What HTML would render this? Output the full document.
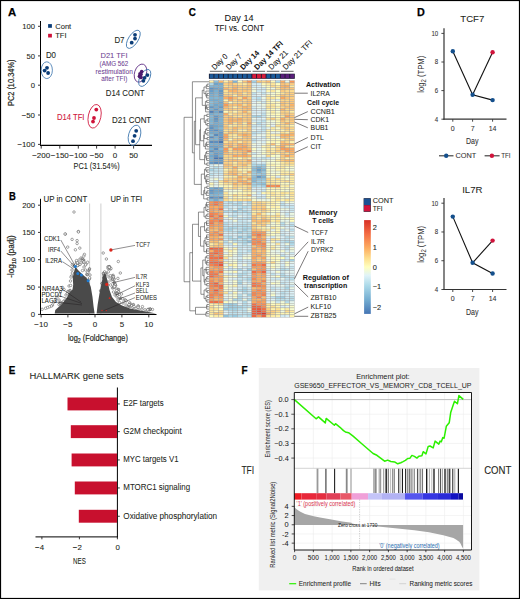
<!DOCTYPE html>
<html><head><meta charset="utf-8"><style>
html,body{margin:0;padding:0;background:#fff;}
svg{display:block;}
text{font-family:"Liberation Sans", sans-serif;}
</style></head><body>
<svg width="520" height="599" viewBox="0 0 520 599" font-family='"Liberation Sans", sans-serif'>
<rect x="0" y="0" width="520" height="599" fill="#fff"/>
<text x="7.90" y="15.70" font-size="11.4" font-weight="bold" textLength="8.2" lengthAdjust="spacingAndGlyphs" fill="#000" stroke="#000" stroke-width="0.25">A</text>
<text x="9.00" y="199.70" font-size="11.4" font-weight="bold" textLength="6.8" lengthAdjust="spacingAndGlyphs" fill="#000" stroke="#000" stroke-width="0.25">B</text>
<text x="188.80" y="15.90" font-size="11.4" font-weight="bold" textLength="7.1" lengthAdjust="spacingAndGlyphs" fill="#000" stroke="#000" stroke-width="0.25">C</text>
<text x="416.90" y="15.60" font-size="11.4" font-weight="bold" textLength="7.8" lengthAdjust="spacingAndGlyphs" fill="#000" stroke="#000" stroke-width="0.25">D</text>
<text x="8.80" y="373.60" font-size="11.4" font-weight="bold" textLength="6.6" lengthAdjust="spacingAndGlyphs" fill="#000" stroke="#000" stroke-width="0.25">E</text>
<text x="241.40" y="373.70" font-size="11.4" font-weight="bold" textLength="6.1" lengthAdjust="spacingAndGlyphs" fill="#000" stroke="#000" stroke-width="0.25">F</text>
<line x1="40.50" y1="21.00" x2="40.50" y2="146.00" stroke="#000" stroke-width="1.0"/>
<line x1="40.00" y1="145.40" x2="152.00" y2="145.40" stroke="#000" stroke-width="1.1"/>
<line x1="38.00" y1="26.30" x2="41.00" y2="26.30" stroke="#231f20" stroke-width="0.9"/>
<text x="35.00" y="29.05" font-size="8.0" text-anchor="end" textLength="12.75" lengthAdjust="spacingAndGlyphs" fill="#231f20" stroke="#231f20" stroke-width="0.08">100</text>
<line x1="38.00" y1="55.90" x2="41.00" y2="55.90" stroke="#231f20" stroke-width="0.9"/>
<text x="35.00" y="58.65" font-size="8.0" text-anchor="end" textLength="8.5" lengthAdjust="spacingAndGlyphs" fill="#231f20" stroke="#231f20" stroke-width="0.08">50</text>
<line x1="38.00" y1="85.20" x2="41.00" y2="85.20" stroke="#231f20" stroke-width="0.9"/>
<text x="35.00" y="87.95" font-size="8.0" text-anchor="end" textLength="4.25" lengthAdjust="spacingAndGlyphs" fill="#231f20" stroke="#231f20" stroke-width="0.08">0</text>
<line x1="38.00" y1="115.00" x2="41.00" y2="115.00" stroke="#231f20" stroke-width="0.9"/>
<text x="35.00" y="117.75" font-size="8.0" text-anchor="end" textLength="13.35" lengthAdjust="spacingAndGlyphs" fill="#231f20" stroke="#231f20" stroke-width="0.08">−50</text>
<line x1="38.00" y1="144.40" x2="41.00" y2="144.40" stroke="#231f20" stroke-width="0.9"/>
<text x="35.00" y="147.15" font-size="8.0" text-anchor="end" textLength="17.6" lengthAdjust="spacingAndGlyphs" fill="#231f20" stroke="#231f20" stroke-width="0.08">−100</text>
<line x1="41.20" y1="145.40" x2="41.20" y2="148.60" stroke="#231f20" stroke-width="0.9"/>
<text x="41.20" y="158.15" font-size="8.0" text-anchor="middle" fill="#231f20" stroke="#231f20" stroke-width="0.08">−200</text>
<line x1="59.80" y1="145.40" x2="59.80" y2="148.60" stroke="#231f20" stroke-width="0.9"/>
<text x="59.80" y="158.15" font-size="8.0" text-anchor="middle" fill="#231f20" stroke="#231f20" stroke-width="0.08">−150</text>
<line x1="78.30" y1="145.40" x2="78.30" y2="148.60" stroke="#231f20" stroke-width="0.9"/>
<text x="78.30" y="158.15" font-size="8.0" text-anchor="middle" fill="#231f20" stroke="#231f20" stroke-width="0.08">−100</text>
<line x1="96.60" y1="145.40" x2="96.60" y2="148.60" stroke="#231f20" stroke-width="0.9"/>
<text x="96.60" y="158.15" font-size="8.0" text-anchor="middle" fill="#231f20" stroke="#231f20" stroke-width="0.08">−50</text>
<line x1="115.10" y1="145.40" x2="115.10" y2="148.60" stroke="#231f20" stroke-width="0.9"/>
<text x="115.10" y="158.15" font-size="8.0" text-anchor="middle" fill="#231f20" stroke="#231f20" stroke-width="0.08">0</text>
<line x1="133.60" y1="145.40" x2="133.60" y2="148.60" stroke="#231f20" stroke-width="0.9"/>
<text x="133.60" y="158.15" font-size="8.0" text-anchor="middle" fill="#231f20" stroke="#231f20" stroke-width="0.08">50</text>
<text x="96.60" y="169.40" font-size="9.2" text-anchor="middle" textLength="46" lengthAdjust="spacingAndGlyphs" fill="#231f20" stroke="#231f20" stroke-width="0.08">PC1 (31.54%)</text>
<text transform="translate(14.2 82.8) rotate(-90)" font-size="9.0" text-anchor="middle" fill="#231f20" stroke="#231f20" stroke-width="0.2" textLength="46.5" lengthAdjust="spacingAndGlyphs">PC2 (10.34%)</text>
<rect x="48.10" y="24.10" width="3.80" height="3.70" fill="#0b3d78"/>
<rect x="48.10" y="33.80" width="3.80" height="3.70" fill="#cf1239"/>
<text x="55.20" y="28.61" font-size="7.6" fill="#231f20" stroke="#231f20" stroke-width="0.08">Cont</text>
<text x="55.20" y="38.11" font-size="7.6" fill="#231f20" stroke="#231f20" stroke-width="0.08">TFI</text>
<text x="45.90" y="58.19" font-size="8.4" textLength="10.1" lengthAdjust="spacingAndGlyphs" fill="#231f20" stroke="#231f20" stroke-width="0.08">D0</text>
<ellipse cx="46.80" cy="70.20" rx="5.6" ry="8.4" transform="rotate(0 46.80 70.20)" fill="none" stroke="#3a74ad" stroke-width="0.8"/>
<circle cx="47.00" cy="67.80" r="1.9" fill="#0b3d78" stroke="none" stroke-width="0"/>
<circle cx="44.60" cy="70.60" r="1.9" fill="#0b3d78" stroke="none" stroke-width="0"/>
<circle cx="48.10" cy="73.00" r="1.9" fill="#0b3d78" stroke="none" stroke-width="0"/>
<text x="114.40" y="43.49" font-size="8.4" textLength="10.1" lengthAdjust="spacingAndGlyphs" fill="#231f20" stroke="#231f20" stroke-width="0.08">D7</text>
<ellipse cx="133.30" cy="39.30" rx="10.4" ry="4.8" transform="rotate(-57 133.30 39.30)" fill="none" stroke="#3a74ad" stroke-width="0.8"/>
<circle cx="135.00" cy="34.80" r="1.9" fill="#0b3d78" stroke="none" stroke-width="0"/>
<circle cx="135.00" cy="38.60" r="1.9" fill="#0b3d78" stroke="none" stroke-width="0"/>
<circle cx="131.70" cy="42.70" r="1.9" fill="#0b3d78" stroke="none" stroke-width="0"/>
<text x="114.00" y="58.18" font-size="7.8" text-anchor="middle" textLength="27" lengthAdjust="spacingAndGlyphs" fill="#6e3f92" stroke="#6e3f92" stroke-width="0.05">D21 TFI</text>
<text x="114.00" y="66.17" font-size="6.6" text-anchor="middle" textLength="28.8" lengthAdjust="spacingAndGlyphs" fill="#6e3f92" stroke="#6e3f92" stroke-width="0.05">(AMG 562</text>
<text x="114.20" y="73.87" font-size="6.6" text-anchor="middle" textLength="37.2" lengthAdjust="spacingAndGlyphs" fill="#6e3f92" stroke="#6e3f92" stroke-width="0.05">restimulation</text>
<text x="114.30" y="81.27" font-size="6.6" text-anchor="middle" textLength="26" lengthAdjust="spacingAndGlyphs" fill="#6e3f92" stroke="#6e3f92" stroke-width="0.05">after TFI)</text>
<ellipse cx="140.50" cy="73.10" rx="5.9" ry="9.3" transform="rotate(18 140.50 73.10)" fill="none" stroke="#5c2a82" stroke-width="0.8"/>
<ellipse cx="144.70" cy="77.90" rx="9.3" ry="4.8" transform="rotate(-62 144.70 77.90)" fill="none" stroke="#3a74ad" stroke-width="0.8"/>
<circle cx="147.40" cy="75.10" r="1.9" fill="#0b3d78" stroke="none" stroke-width="0"/>
<circle cx="144.60" cy="77.80" r="1.9" fill="#0b3d78" stroke="none" stroke-width="0"/>
<circle cx="143.40" cy="80.80" r="1.9" fill="#0b3d78" stroke="none" stroke-width="0"/>
<circle cx="141.70" cy="71.50" r="1.85" fill="#4e1a6e" stroke="none" stroke-width="0"/>
<circle cx="140.00" cy="73.90" r="1.85" fill="#4e1a6e" stroke="none" stroke-width="0"/>
<circle cx="139.50" cy="76.30" r="1.85" fill="#4e1a6e" stroke="none" stroke-width="0"/>
<circle cx="141.00" cy="77.40" r="1.85" fill="#4e1a6e" stroke="none" stroke-width="0"/>
<circle cx="140.90" cy="74.30" r="1.85" fill="#4e1a6e" stroke="none" stroke-width="0"/>
<text x="105.80" y="95.63" font-size="8.8" textLength="38.8" lengthAdjust="spacingAndGlyphs" fill="#231f20" stroke="#231f20" stroke-width="0.08">D14 CONT</text>
<text x="57.00" y="119.72" font-size="8.2" textLength="27.5" lengthAdjust="spacingAndGlyphs" fill="#cf1239" stroke="#cf1239" stroke-width="0.08">D14 TFI</text>
<ellipse cx="94.60" cy="116.30" rx="6.3" ry="12.0" transform="rotate(12 94.60 116.30)" fill="none" stroke="#cf1239" stroke-width="0.8"/>
<circle cx="96.30" cy="109.60" r="1.9" fill="#cf1239" stroke="none" stroke-width="0"/>
<circle cx="94.00" cy="118.00" r="1.9" fill="#cf1239" stroke="none" stroke-width="0"/>
<circle cx="93.00" cy="121.60" r="1.9" fill="#cf1239" stroke="none" stroke-width="0"/>
<text x="112.00" y="123.33" font-size="8.8" textLength="39.2" lengthAdjust="spacingAndGlyphs" fill="#231f20" stroke="#231f20" stroke-width="0.08">D21 CONT</text>
<ellipse cx="134.50" cy="135.30" rx="5.9" ry="10.4" transform="rotate(16 134.50 135.30)" fill="none" stroke="#3a74ad" stroke-width="0.8"/>
<circle cx="136.20" cy="130.80" r="1.9" fill="#0b3d78" stroke="none" stroke-width="0"/>
<circle cx="134.60" cy="135.80" r="1.9" fill="#0b3d78" stroke="none" stroke-width="0"/>
<circle cx="133.00" cy="141.20" r="1.9" fill="#0b3d78" stroke="none" stroke-width="0"/>
<text x="43.50" y="201.59" font-size="8.4" textLength="43.8" lengthAdjust="spacingAndGlyphs" fill="#231f20" stroke="#231f20" stroke-width="0.08">UP in CONT</text>
<text x="110.40" y="201.59" font-size="8.4" textLength="31.8" lengthAdjust="spacingAndGlyphs" fill="#231f20" stroke="#231f20" stroke-width="0.08">UP in TFI</text>
<line x1="89.60" y1="203.50" x2="89.60" y2="314.40" stroke="#c8c8c8" stroke-width="0.9"/>
<line x1="100.90" y1="203.50" x2="100.90" y2="314.40" stroke="#c8c8c8" stroke-width="0.9"/>
<circle cx="74.00" cy="212.00" r="1.25" fill="#fff" stroke="#4a4a4a" stroke-width="0.5"/>
<circle cx="65.40" cy="234.10" r="1.25" fill="#fff" stroke="#4a4a4a" stroke-width="0.5"/>
<circle cx="78.40" cy="231.50" r="1.25" fill="#fff" stroke="#4a4a4a" stroke-width="0.5"/>
<circle cx="65.10" cy="234.00" r="1.25" fill="#fff" stroke="#4a4a4a" stroke-width="0.5"/>
<circle cx="78.40" cy="231.90" r="1.25" fill="#fff" stroke="#4a4a4a" stroke-width="0.5"/>
<circle cx="72.10" cy="239.40" r="1.25" fill="#fff" stroke="#4a4a4a" stroke-width="0.5"/>
<circle cx="77.10" cy="240.60" r="1.25" fill="#fff" stroke="#4a4a4a" stroke-width="0.5"/>
<circle cx="77.10" cy="243.50" r="1.25" fill="#fff" stroke="#4a4a4a" stroke-width="0.5"/>
<circle cx="67.70" cy="247.10" r="1.25" fill="#fff" stroke="#4a4a4a" stroke-width="0.5"/>
<circle cx="75.40" cy="249.80" r="1.25" fill="#fff" stroke="#4a4a4a" stroke-width="0.5"/>
<circle cx="79.80" cy="248.10" r="1.25" fill="#fff" stroke="#4a4a4a" stroke-width="0.5"/>
<circle cx="84.40" cy="254.40" r="1.25" fill="#fff" stroke="#4a4a4a" stroke-width="0.5"/>
<circle cx="83.80" cy="256.10" r="1.25" fill="#fff" stroke="#4a4a4a" stroke-width="0.5"/>
<circle cx="81.00" cy="258.00" r="1.25" fill="#fff" stroke="#4a4a4a" stroke-width="0.5"/>
<circle cx="79.00" cy="260.00" r="1.25" fill="#fff" stroke="#4a4a4a" stroke-width="0.5"/>
<circle cx="83.00" cy="262.00" r="1.25" fill="#fff" stroke="#4a4a4a" stroke-width="0.5"/>
<circle cx="86.00" cy="264.00" r="1.25" fill="#fff" stroke="#4a4a4a" stroke-width="0.5"/>
<circle cx="84.00" cy="267.00" r="1.25" fill="#fff" stroke="#4a4a4a" stroke-width="0.5"/>
<circle cx="80.00" cy="264.50" r="1.25" fill="#fff" stroke="#4a4a4a" stroke-width="0.5"/>
<circle cx="76.50" cy="262.00" r="1.25" fill="#fff" stroke="#4a4a4a" stroke-width="0.5"/>
<circle cx="85.50" cy="270.00" r="1.25" fill="#fff" stroke="#4a4a4a" stroke-width="0.5"/>
<circle cx="82.50" cy="270.50" r="1.25" fill="#fff" stroke="#4a4a4a" stroke-width="0.5"/>
<circle cx="72.00" cy="270.00" r="1.25" fill="#fff" stroke="#4a4a4a" stroke-width="0.5"/>
<circle cx="71.50" cy="276.00" r="1.25" fill="#fff" stroke="#4a4a4a" stroke-width="0.5"/>
<circle cx="70.50" cy="281.00" r="1.25" fill="#fff" stroke="#4a4a4a" stroke-width="0.5"/>
<circle cx="69.00" cy="286.00" r="1.25" fill="#fff" stroke="#4a4a4a" stroke-width="0.5"/>
<circle cx="68.00" cy="291.50" r="1.25" fill="#fff" stroke="#4a4a4a" stroke-width="0.5"/>
<circle cx="66.00" cy="295.00" r="1.25" fill="#fff" stroke="#4a4a4a" stroke-width="0.5"/>
<circle cx="64.00" cy="289.50" r="1.25" fill="#fff" stroke="#4a4a4a" stroke-width="0.5"/>
<circle cx="62.50" cy="287.50" r="1.25" fill="#fff" stroke="#4a4a4a" stroke-width="0.5"/>
<circle cx="60.50" cy="292.00" r="1.25" fill="#fff" stroke="#4a4a4a" stroke-width="0.5"/>
<circle cx="58.00" cy="296.00" r="1.25" fill="#fff" stroke="#4a4a4a" stroke-width="0.5"/>
<circle cx="56.00" cy="299.00" r="1.25" fill="#fff" stroke="#4a4a4a" stroke-width="0.5"/>
<circle cx="54.00" cy="302.00" r="1.25" fill="#fff" stroke="#4a4a4a" stroke-width="0.5"/>
<circle cx="52.50" cy="305.00" r="1.25" fill="#fff" stroke="#4a4a4a" stroke-width="0.5"/>
<circle cx="51.50" cy="306.00" r="1.25" fill="#fff" stroke="#4a4a4a" stroke-width="0.5"/>
<circle cx="49.50" cy="306.80" r="1.25" fill="#fff" stroke="#4a4a4a" stroke-width="0.5"/>
<circle cx="47.50" cy="307.50" r="1.25" fill="#fff" stroke="#4a4a4a" stroke-width="0.5"/>
<circle cx="45.60" cy="308.30" r="1.25" fill="#fff" stroke="#4a4a4a" stroke-width="0.5"/>
<circle cx="42.10" cy="309.30" r="1.25" fill="#fff" stroke="#4a4a4a" stroke-width="0.5"/>
<circle cx="59.00" cy="300.00" r="1.25" fill="#fff" stroke="#4a4a4a" stroke-width="0.5"/>
<circle cx="62.00" cy="303.00" r="1.25" fill="#fff" stroke="#4a4a4a" stroke-width="0.5"/>
<circle cx="65.00" cy="300.00" r="1.25" fill="#fff" stroke="#4a4a4a" stroke-width="0.5"/>
<circle cx="88.00" cy="283.00" r="1.25" fill="#fff" stroke="#4a4a4a" stroke-width="0.5"/>
<circle cx="90.00" cy="275.00" r="1.25" fill="#fff" stroke="#4a4a4a" stroke-width="0.5"/>
<circle cx="87.50" cy="272.50" r="1.25" fill="#fff" stroke="#4a4a4a" stroke-width="0.5"/>
<circle cx="103.20" cy="253.00" r="1.25" fill="#fff" stroke="#4a4a4a" stroke-width="0.5"/>
<circle cx="106.40" cy="259.00" r="1.25" fill="#fff" stroke="#4a4a4a" stroke-width="0.5"/>
<circle cx="118.30" cy="261.50" r="1.25" fill="#fff" stroke="#4a4a4a" stroke-width="0.5"/>
<circle cx="120.30" cy="273.00" r="1.25" fill="#fff" stroke="#4a4a4a" stroke-width="0.5"/>
<circle cx="113.10" cy="275.30" r="1.25" fill="#fff" stroke="#4a4a4a" stroke-width="0.5"/>
<circle cx="117.90" cy="278.40" r="1.25" fill="#fff" stroke="#4a4a4a" stroke-width="0.5"/>
<circle cx="115.60" cy="285.50" r="1.25" fill="#fff" stroke="#4a4a4a" stroke-width="0.5"/>
<circle cx="116.90" cy="289.00" r="1.25" fill="#fff" stroke="#4a4a4a" stroke-width="0.5"/>
<circle cx="121.00" cy="298.10" r="1.25" fill="#fff" stroke="#4a4a4a" stroke-width="0.5"/>
<circle cx="104.50" cy="272.80" r="1.25" fill="#fff" stroke="#4a4a4a" stroke-width="0.5"/>
<circle cx="106.50" cy="274.50" r="1.25" fill="#fff" stroke="#4a4a4a" stroke-width="0.5"/>
<circle cx="109.00" cy="277.00" r="1.25" fill="#fff" stroke="#4a4a4a" stroke-width="0.5"/>
<circle cx="111.00" cy="280.00" r="1.25" fill="#fff" stroke="#4a4a4a" stroke-width="0.5"/>
<circle cx="108.00" cy="282.00" r="1.25" fill="#fff" stroke="#4a4a4a" stroke-width="0.5"/>
<circle cx="110.50" cy="285.00" r="1.25" fill="#fff" stroke="#4a4a4a" stroke-width="0.5"/>
<circle cx="112.50" cy="288.00" r="1.25" fill="#fff" stroke="#4a4a4a" stroke-width="0.5"/>
<circle cx="113.50" cy="292.00" r="1.25" fill="#fff" stroke="#4a4a4a" stroke-width="0.5"/>
<circle cx="115.00" cy="295.00" r="1.25" fill="#fff" stroke="#4a4a4a" stroke-width="0.5"/>
<circle cx="118.00" cy="300.00" r="1.25" fill="#fff" stroke="#4a4a4a" stroke-width="0.5"/>
<circle cx="119.50" cy="302.50" r="1.25" fill="#fff" stroke="#4a4a4a" stroke-width="0.5"/>
<circle cx="123.00" cy="303.00" r="1.25" fill="#fff" stroke="#4a4a4a" stroke-width="0.5"/>
<circle cx="126.00" cy="305.00" r="1.25" fill="#fff" stroke="#4a4a4a" stroke-width="0.5"/>
<circle cx="128.00" cy="307.00" r="1.25" fill="#fff" stroke="#4a4a4a" stroke-width="0.5"/>
<circle cx="130.00" cy="306.50" r="1.25" fill="#fff" stroke="#4a4a4a" stroke-width="0.5"/>
<circle cx="133.00" cy="307.50" r="1.25" fill="#fff" stroke="#4a4a4a" stroke-width="0.5"/>
<circle cx="136.00" cy="308.30" r="1.25" fill="#fff" stroke="#4a4a4a" stroke-width="0.5"/>
<circle cx="139.00" cy="309.00" r="1.25" fill="#fff" stroke="#4a4a4a" stroke-width="0.5"/>
<circle cx="142.00" cy="309.20" r="1.25" fill="#fff" stroke="#4a4a4a" stroke-width="0.5"/>
<circle cx="145.00" cy="309.80" r="1.25" fill="#fff" stroke="#4a4a4a" stroke-width="0.5"/>
<circle cx="147.50" cy="310.30" r="1.25" fill="#fff" stroke="#4a4a4a" stroke-width="0.5"/>
<circle cx="125.00" cy="300.00" r="1.25" fill="#fff" stroke="#4a4a4a" stroke-width="0.5"/>
<circle cx="121.50" cy="294.00" r="1.25" fill="#fff" stroke="#4a4a4a" stroke-width="0.5"/>
<circle cx="117.00" cy="297.00" r="1.25" fill="#fff" stroke="#4a4a4a" stroke-width="0.5"/>
<circle cx="68.10" cy="291.41" r="1.25" fill="#fff" stroke="#4a4a4a" stroke-width="0.5"/>
<circle cx="60.46" cy="302.48" r="1.25" fill="#fff" stroke="#4a4a4a" stroke-width="0.5"/>
<circle cx="74.12" cy="266.30" r="1.25" fill="#b8b8b8" stroke="#4a4a4a" stroke-width="0.5"/>
<circle cx="67.39" cy="293.46" r="1.25" fill="#fff" stroke="#4a4a4a" stroke-width="0.5"/>
<circle cx="70.64" cy="285.47" r="1.25" fill="#fff" stroke="#4a4a4a" stroke-width="0.5"/>
<circle cx="70.07" cy="290.36" r="1.25" fill="#b8b8b8" stroke="#4a4a4a" stroke-width="0.5"/>
<circle cx="71.00" cy="277.08" r="1.25" fill="#fff" stroke="#4a4a4a" stroke-width="0.5"/>
<circle cx="72.35" cy="272.99" r="1.25" fill="#fff" stroke="#4a4a4a" stroke-width="0.5"/>
<circle cx="69.12" cy="292.39" r="1.25" fill="#b8b8b8" stroke="#4a4a4a" stroke-width="0.5"/>
<circle cx="63.52" cy="301.49" r="1.25" fill="#fff" stroke="#4a4a4a" stroke-width="0.5"/>
<circle cx="58.96" cy="304.57" r="1.25" fill="#fff" stroke="#4a4a4a" stroke-width="0.5"/>
<circle cx="60.14" cy="303.39" r="1.25" fill="#b8b8b8" stroke="#4a4a4a" stroke-width="0.5"/>
<circle cx="81.14" cy="262.75" r="1.25" fill="#fff" stroke="#4a4a4a" stroke-width="0.5"/>
<circle cx="89.47" cy="278.87" r="1.25" fill="#fff" stroke="#4a4a4a" stroke-width="0.5"/>
<circle cx="82.29" cy="258.92" r="1.25" fill="#b8b8b8" stroke="#4a4a4a" stroke-width="0.5"/>
<circle cx="74.82" cy="265.48" r="1.25" fill="#fff" stroke="#4a4a4a" stroke-width="0.5"/>
<circle cx="75.03" cy="265.61" r="1.25" fill="#fff" stroke="#4a4a4a" stroke-width="0.5"/>
<circle cx="83.76" cy="260.12" r="1.25" fill="#b8b8b8" stroke="#4a4a4a" stroke-width="0.5"/>
<circle cx="82.42" cy="261.15" r="1.25" fill="#fff" stroke="#4a4a4a" stroke-width="0.5"/>
<circle cx="77.66" cy="262.77" r="1.25" fill="#fff" stroke="#4a4a4a" stroke-width="0.5"/>
<circle cx="88.92" cy="270.18" r="1.25" fill="#b8b8b8" stroke="#4a4a4a" stroke-width="0.5"/>
<circle cx="86.82" cy="274.25" r="1.25" fill="#fff" stroke="#4a4a4a" stroke-width="0.5"/>
<circle cx="72.33" cy="264.69" r="1.25" fill="#fff" stroke="#4a4a4a" stroke-width="0.5"/>
<circle cx="86.32" cy="280.77" r="1.25" fill="#b8b8b8" stroke="#4a4a4a" stroke-width="0.5"/>
<circle cx="89.63" cy="277.86" r="1.25" fill="#fff" stroke="#4a4a4a" stroke-width="0.5"/>
<circle cx="83.72" cy="261.95" r="1.25" fill="#fff" stroke="#4a4a4a" stroke-width="0.5"/>
<circle cx="77.87" cy="265.44" r="1.25" fill="#b8b8b8" stroke="#4a4a4a" stroke-width="0.5"/>
<circle cx="85.45" cy="278.51" r="1.25" fill="#fff" stroke="#4a4a4a" stroke-width="0.5"/>
<circle cx="75.63" cy="264.91" r="1.25" fill="#fff" stroke="#4a4a4a" stroke-width="0.5"/>
<circle cx="86.90" cy="280.37" r="1.25" fill="#b8b8b8" stroke="#4a4a4a" stroke-width="0.5"/>
<circle cx="85.61" cy="264.86" r="1.25" fill="#fff" stroke="#4a4a4a" stroke-width="0.5"/>
<circle cx="76.52" cy="260.57" r="1.25" fill="#fff" stroke="#4a4a4a" stroke-width="0.5"/>
<circle cx="89.51" cy="268.85" r="1.25" fill="#b8b8b8" stroke="#4a4a4a" stroke-width="0.5"/>
<circle cx="77.51" cy="265.52" r="1.25" fill="#fff" stroke="#4a4a4a" stroke-width="0.5"/>
<circle cx="83.86" cy="262.00" r="1.25" fill="#fff" stroke="#4a4a4a" stroke-width="0.5"/>
<circle cx="87.28" cy="274.77" r="1.25" fill="#b8b8b8" stroke="#4a4a4a" stroke-width="0.5"/>
<circle cx="77.36" cy="262.85" r="1.25" fill="#fff" stroke="#4a4a4a" stroke-width="0.5"/>
<circle cx="87.66" cy="262.22" r="1.25" fill="#fff" stroke="#4a4a4a" stroke-width="0.5"/>
<circle cx="133.36" cy="304.57" r="1.25" fill="#b8b8b8" stroke="#4a4a4a" stroke-width="0.5"/>
<circle cx="134.05" cy="306.57" r="1.25" fill="#fff" stroke="#4a4a4a" stroke-width="0.5"/>
<circle cx="110.54" cy="269.09" r="1.25" fill="#fff" stroke="#4a4a4a" stroke-width="0.5"/>
<circle cx="118.54" cy="289.52" r="1.25" fill="#b8b8b8" stroke="#4a4a4a" stroke-width="0.5"/>
<circle cx="149.51" cy="309.67" r="1.25" fill="#fff" stroke="#4a4a4a" stroke-width="0.5"/>
<circle cx="131.33" cy="305.51" r="1.25" fill="#fff" stroke="#4a4a4a" stroke-width="0.5"/>
<circle cx="113.57" cy="287.50" r="1.25" fill="#b8b8b8" stroke="#4a4a4a" stroke-width="0.5"/>
<circle cx="152.46" cy="309.44" r="1.25" fill="#fff" stroke="#4a4a4a" stroke-width="0.5"/>
<circle cx="117.48" cy="294.99" r="1.25" fill="#fff" stroke="#4a4a4a" stroke-width="0.5"/>
<circle cx="112.89" cy="276.46" r="1.25" fill="#b8b8b8" stroke="#4a4a4a" stroke-width="0.5"/>
<circle cx="114.98" cy="283.25" r="1.25" fill="#fff" stroke="#4a4a4a" stroke-width="0.5"/>
<circle cx="129.74" cy="302.77" r="1.25" fill="#fff" stroke="#4a4a4a" stroke-width="0.5"/>
<circle cx="114.71" cy="284.88" r="1.25" fill="#b8b8b8" stroke="#4a4a4a" stroke-width="0.5"/>
<circle cx="118.74" cy="292.24" r="1.25" fill="#fff" stroke="#4a4a4a" stroke-width="0.5"/>
<circle cx="113.95" cy="278.72" r="1.25" fill="#fff" stroke="#4a4a4a" stroke-width="0.5"/>
<circle cx="119.99" cy="298.40" r="1.25" fill="#b8b8b8" stroke="#4a4a4a" stroke-width="0.5"/>
<circle cx="112.05" cy="276.06" r="1.25" fill="#fff" stroke="#4a4a4a" stroke-width="0.5"/>
<circle cx="138.34" cy="306.07" r="1.25" fill="#fff" stroke="#4a4a4a" stroke-width="0.5"/>
<circle cx="114.05" cy="282.39" r="1.25" fill="#b8b8b8" stroke="#4a4a4a" stroke-width="0.5"/>
<circle cx="138.00" cy="306.17" r="1.25" fill="#fff" stroke="#4a4a4a" stroke-width="0.5"/>
<circle cx="142.45" cy="306.61" r="1.25" fill="#fff" stroke="#4a4a4a" stroke-width="0.5"/>
<circle cx="148.30" cy="309.26" r="1.25" fill="#b8b8b8" stroke="#4a4a4a" stroke-width="0.5"/>
<circle cx="110.92" cy="268.40" r="1.25" fill="#fff" stroke="#4a4a4a" stroke-width="0.5"/>
<circle cx="118.13" cy="291.58" r="1.25" fill="#fff" stroke="#4a4a4a" stroke-width="0.5"/>
<circle cx="130.16" cy="304.07" r="1.25" fill="#b8b8b8" stroke="#4a4a4a" stroke-width="0.5"/>
<circle cx="122.62" cy="298.78" r="1.25" fill="#fff" stroke="#4a4a4a" stroke-width="0.5"/>
<circle cx="125.59" cy="300.25" r="1.25" fill="#fff" stroke="#4a4a4a" stroke-width="0.5"/>
<circle cx="128.92" cy="305.55" r="1.25" fill="#b8b8b8" stroke="#4a4a4a" stroke-width="0.5"/>
<circle cx="116.73" cy="290.59" r="1.25" fill="#fff" stroke="#4a4a4a" stroke-width="0.5"/>
<circle cx="129.03" cy="304.59" r="1.25" fill="#fff" stroke="#4a4a4a" stroke-width="0.5"/>
<circle cx="116.08" cy="293.19" r="1.25" fill="#b8b8b8" stroke="#4a4a4a" stroke-width="0.5"/>
<circle cx="108.05" cy="268.29" r="1.25" fill="#fff" stroke="#4a4a4a" stroke-width="0.5"/>
<circle cx="108.37" cy="271.80" r="1.25" fill="#fff" stroke="#4a4a4a" stroke-width="0.5"/>
<circle cx="114.80" cy="285.17" r="1.25" fill="#b8b8b8" stroke="#4a4a4a" stroke-width="0.5"/>
<circle cx="112.74" cy="276.49" r="1.25" fill="#fff" stroke="#4a4a4a" stroke-width="0.5"/>
<circle cx="114.14" cy="287.51" r="1.25" fill="#fff" stroke="#4a4a4a" stroke-width="0.5"/>
<circle cx="109.40" cy="267.22" r="1.25" fill="#b8b8b8" stroke="#4a4a4a" stroke-width="0.5"/>
<circle cx="105.63" cy="273.03" r="1.25" fill="#fff" stroke="#4a4a4a" stroke-width="0.5"/>
<circle cx="119.21" cy="296.55" r="1.25" fill="#fff" stroke="#4a4a4a" stroke-width="0.5"/>
<circle cx="149.63" cy="309.61" r="1.25" fill="#b8b8b8" stroke="#4a4a4a" stroke-width="0.5"/>
<circle cx="138.05" cy="307.27" r="1.25" fill="#fff" stroke="#4a4a4a" stroke-width="0.5"/>
<circle cx="109.37" cy="267.77" r="1.25" fill="#fff" stroke="#4a4a4a" stroke-width="0.5"/>
<circle cx="150.15" cy="309.03" r="1.25" fill="#b8b8b8" stroke="#4a4a4a" stroke-width="0.5"/>
<circle cx="115.14" cy="284.83" r="1.25" fill="#fff" stroke="#4a4a4a" stroke-width="0.5"/>
<circle cx="107.91" cy="266.84" r="1.25" fill="#fff" stroke="#4a4a4a" stroke-width="0.5"/>
<circle cx="109.47" cy="266.68" r="1.25" fill="#b8b8b8" stroke="#4a4a4a" stroke-width="0.5"/>
<circle cx="113.96" cy="285.94" r="1.25" fill="#fff" stroke="#4a4a4a" stroke-width="0.5"/>
<circle cx="114.01" cy="279.35" r="1.25" fill="#fff" stroke="#4a4a4a" stroke-width="0.5"/>
<circle cx="150.23" cy="309.13" r="1.25" fill="#b8b8b8" stroke="#4a4a4a" stroke-width="0.5"/>
<circle cx="113.46" cy="276.64" r="1.25" fill="#fff" stroke="#4a4a4a" stroke-width="0.5"/>
<circle cx="114.58" cy="286.52" r="1.25" fill="#fff" stroke="#4a4a4a" stroke-width="0.5"/>
<circle cx="117.01" cy="293.30" r="1.25" fill="#b8b8b8" stroke="#4a4a4a" stroke-width="0.5"/>
<circle cx="108.97" cy="266.68" r="1.25" fill="#fff" stroke="#4a4a4a" stroke-width="0.5"/>
<circle cx="113.28" cy="278.13" r="1.25" fill="#fff" stroke="#4a4a4a" stroke-width="0.5"/>
<circle cx="104.88" cy="274.19" r="1.25" fill="#b8b8b8" stroke="#4a4a4a" stroke-width="0.5"/>
<circle cx="147.75" cy="309.79" r="1.25" fill="#fff" stroke="#4a4a4a" stroke-width="0.5"/>
<circle cx="110.30" cy="275.75" r="1.25" fill="#fff" stroke="#4a4a4a" stroke-width="0.5"/>
<circle cx="112.59" cy="279.20" r="1.25" fill="#b8b8b8" stroke="#4a4a4a" stroke-width="0.5"/>
<circle cx="126.18" cy="300.92" r="1.25" fill="#fff" stroke="#4a4a4a" stroke-width="0.5"/>
<circle cx="109.30" cy="267.29" r="1.25" fill="#fff" stroke="#4a4a4a" stroke-width="0.5"/>
<circle cx="102.06" cy="283.45" r="1.25" fill="#b8b8b8" stroke="#4a4a4a" stroke-width="0.5"/>
<circle cx="102.30" cy="283.43" r="1.25" fill="#fff" stroke="#4a4a4a" stroke-width="0.5"/>
<circle cx="103.85" cy="277.57" r="1.25" fill="#fff" stroke="#4a4a4a" stroke-width="0.5"/>
<circle cx="100.60" cy="290.71" r="1.25" fill="#b8b8b8" stroke="#4a4a4a" stroke-width="0.5"/>
<circle cx="104.75" cy="273.32" r="1.25" fill="#fff" stroke="#4a4a4a" stroke-width="0.5"/>
<circle cx="103.73" cy="275.48" r="1.25" fill="#fff" stroke="#4a4a4a" stroke-width="0.5"/>
<circle cx="103.71" cy="277.80" r="1.25" fill="#b8b8b8" stroke="#4a4a4a" stroke-width="0.5"/>
<circle cx="104.61" cy="271.86" r="1.25" fill="#fff" stroke="#4a4a4a" stroke-width="0.5"/>
<circle cx="103.79" cy="273.84" r="1.25" fill="#fff" stroke="#4a4a4a" stroke-width="0.5"/>
<circle cx="103.36" cy="273.41" r="1.25" fill="#b8b8b8" stroke="#4a4a4a" stroke-width="0.5"/>
<polygon points="54.7,313.6 55.3,310.0 61.9,303.9 66.7,297.9 69.1,293.1 72.5,289.5 73.2,284.7 72.7,277.5 74.0,272.0 75.4,266.5 78.0,270.0 82.0,274.0 86.0,277.5 88.5,281.0 90.8,287.0 92.5,297.0 93.5,306.0 94.6,313.6" fill="#4a4a4a"/>
<polygon points="96.6,313.6 97.6,305.0 99.4,294.0 101.2,285.0 103.0,276.0 104.5,273.2 106.0,275.0 107.8,282.0 109.5,290.0 112.0,297.0 116.0,302.0 122.0,305.5 130.0,308.5 140.0,310.5 150.0,312.2 156.0,313.6" fill="#4a4a4a"/>
<circle cx="75.40" cy="266.50" r="1.5" fill="#1d7ad0" stroke="none" stroke-width="0"/>
<circle cx="77.80" cy="273.40" r="1.5" fill="#1d7ad0" stroke="none" stroke-width="0"/>
<circle cx="81.40" cy="275.00" r="1.5" fill="#1d7ad0" stroke="none" stroke-width="0"/>
<circle cx="88.10" cy="280.80" r="1.5" fill="#1d7ad0" stroke="none" stroke-width="0"/>
<circle cx="110.90" cy="250.00" r="1.7" fill="#d9261c" stroke="none" stroke-width="0"/>
<circle cx="106.80" cy="284.40" r="1.7" fill="#d9261c" stroke="none" stroke-width="0"/>
<circle cx="109.60" cy="298.20" r="0.9" fill="#d9261c" stroke="none" stroke-width="0"/>
<circle cx="102.00" cy="310.50" r="0.7" fill="#d9261c" stroke="none" stroke-width="0"/>
<circle cx="106.20" cy="310.50" r="0.7" fill="#d9261c" stroke="none" stroke-width="0"/>
<text x="44.00" y="240.97" font-size="6.9" textLength="16.2" lengthAdjust="spacingAndGlyphs" fill="#231f20" stroke="#231f20" stroke-width="0.05">CDK1</text>
<text x="48.10" y="252.17" font-size="6.9" textLength="12.1" lengthAdjust="spacingAndGlyphs" fill="#231f20" stroke="#231f20" stroke-width="0.05">IRF4</text>
<text x="45.20" y="263.17" font-size="6.9" textLength="16.7" lengthAdjust="spacingAndGlyphs" fill="#231f20" stroke="#231f20" stroke-width="0.05">IL2RA</text>
<line x1="60.80" y1="240.00" x2="74.60" y2="264.80" stroke="#231f20" stroke-width="0.5"/>
<line x1="60.80" y1="251.00" x2="74.00" y2="266.00" stroke="#231f20" stroke-width="0.5"/>
<line x1="62.50" y1="261.70" x2="73.40" y2="268.80" stroke="#231f20" stroke-width="0.5"/>
<text x="42.00" y="291.11" font-size="7.0" textLength="20.8" lengthAdjust="spacingAndGlyphs" fill="#231f20" stroke="#231f20" stroke-width="0.05">NR4A3</text>
<text x="41.50" y="297.41" font-size="7.0" textLength="20.7" lengthAdjust="spacingAndGlyphs" fill="#231f20" stroke="#231f20" stroke-width="0.05">PDCD1</text>
<text x="41.50" y="303.21" font-size="7.0" textLength="15.5" lengthAdjust="spacingAndGlyphs" fill="#231f20" stroke="#231f20" stroke-width="0.05">LAG3</text>
<line x1="62.00" y1="289.00" x2="81.00" y2="302.00" stroke="#231f20" stroke-width="0.5"/>
<line x1="60.00" y1="296.00" x2="82.00" y2="303.50" stroke="#231f20" stroke-width="0.5"/>
<line x1="55.00" y1="302.00" x2="82.00" y2="305.00" stroke="#231f20" stroke-width="0.5"/>
<text x="135.80" y="247.11" font-size="7.0" textLength="14.1" lengthAdjust="spacingAndGlyphs" fill="#231f20" stroke="#231f20" stroke-width="0.05">TCF7</text>
<text x="135.80" y="278.71" font-size="7.0" textLength="11.4" lengthAdjust="spacingAndGlyphs" fill="#231f20" stroke="#231f20" stroke-width="0.05">IL7R</text>
<text x="135.80" y="286.51" font-size="7.0" textLength="13.4" lengthAdjust="spacingAndGlyphs" fill="#231f20" stroke="#231f20" stroke-width="0.05">KLF3</text>
<text x="135.80" y="293.31" font-size="7.0" textLength="12.7" lengthAdjust="spacingAndGlyphs" fill="#231f20" stroke="#231f20" stroke-width="0.05">SELL</text>
<text x="135.80" y="300.01" font-size="7.0" textLength="21.2" lengthAdjust="spacingAndGlyphs" fill="#231f20" stroke="#231f20" stroke-width="0.05">EOMES</text>
<line x1="112.20" y1="249.70" x2="135.00" y2="245.40" stroke="#231f20" stroke-width="0.5"/>
<line x1="111.50" y1="283.00" x2="135.00" y2="277.40" stroke="#231f20" stroke-width="0.5"/>
<line x1="115.60" y1="295.20" x2="135.00" y2="285.80" stroke="#231f20" stroke-width="0.5"/>
<line x1="119.00" y1="299.00" x2="135.00" y2="293.00" stroke="#231f20" stroke-width="0.5"/>
<line x1="103.50" y1="310.70" x2="135.00" y2="297.60" stroke="#231f20" stroke-width="0.5"/>
<line x1="40.50" y1="198.80" x2="40.50" y2="315.00" stroke="#000" stroke-width="1.0"/>
<line x1="40.00" y1="314.50" x2="156.50" y2="314.50" stroke="#000" stroke-width="1.0"/>
<line x1="38.00" y1="205.20" x2="41.00" y2="205.20" stroke="#231f20" stroke-width="0.9"/>
<text x="35.10" y="207.95" font-size="8.0" text-anchor="end" textLength="12.899999999999999" lengthAdjust="spacingAndGlyphs" fill="#231f20" stroke="#231f20" stroke-width="0.08">200</text>
<line x1="38.00" y1="232.40" x2="41.00" y2="232.40" stroke="#231f20" stroke-width="0.9"/>
<text x="35.10" y="235.15" font-size="8.0" text-anchor="end" textLength="12.899999999999999" lengthAdjust="spacingAndGlyphs" fill="#231f20" stroke="#231f20" stroke-width="0.08">150</text>
<line x1="38.00" y1="259.70" x2="41.00" y2="259.70" stroke="#231f20" stroke-width="0.9"/>
<text x="35.10" y="262.45" font-size="8.0" text-anchor="end" textLength="12.899999999999999" lengthAdjust="spacingAndGlyphs" fill="#231f20" stroke="#231f20" stroke-width="0.08">100</text>
<line x1="38.00" y1="287.10" x2="41.00" y2="287.10" stroke="#231f20" stroke-width="0.9"/>
<text x="35.10" y="289.85" font-size="8.0" text-anchor="end" textLength="8.6" lengthAdjust="spacingAndGlyphs" fill="#231f20" stroke="#231f20" stroke-width="0.08">50</text>
<line x1="38.00" y1="314.40" x2="41.00" y2="314.40" stroke="#231f20" stroke-width="0.9"/>
<text x="35.10" y="317.15" font-size="8.0" text-anchor="end" textLength="4.3" lengthAdjust="spacingAndGlyphs" fill="#231f20" stroke="#231f20" stroke-width="0.08">0</text>
<line x1="41.10" y1="314.40" x2="41.10" y2="317.40" stroke="#231f20" stroke-width="0.9"/>
<text x="41.10" y="326.55" font-size="8.0" text-anchor="middle" fill="#231f20" stroke="#231f20" stroke-width="0.08">−10</text>
<line x1="67.90" y1="314.40" x2="67.90" y2="317.40" stroke="#231f20" stroke-width="0.9"/>
<text x="67.90" y="326.55" font-size="8.0" text-anchor="middle" fill="#231f20" stroke="#231f20" stroke-width="0.08">−5</text>
<line x1="95.00" y1="314.40" x2="95.00" y2="317.40" stroke="#231f20" stroke-width="0.9"/>
<text x="95.00" y="326.55" font-size="8.0" text-anchor="middle" fill="#231f20" stroke="#231f20" stroke-width="0.08">0</text>
<line x1="121.90" y1="314.40" x2="121.90" y2="317.40" stroke="#231f20" stroke-width="0.9"/>
<text x="121.90" y="326.55" font-size="8.0" text-anchor="middle" fill="#231f20" stroke="#231f20" stroke-width="0.08">5</text>
<line x1="148.80" y1="314.40" x2="148.80" y2="317.40" stroke="#231f20" stroke-width="0.9"/>
<text x="148.80" y="326.55" font-size="8.0" text-anchor="middle" fill="#231f20" stroke="#231f20" stroke-width="0.08">10</text>
<text transform="translate(14.3 256.5) rotate(-90)" font-size="8.6" text-anchor="middle" fill="#231f20" stroke="#231f20" stroke-width="0.2" textLength="42.4" lengthAdjust="spacingAndGlyphs">-log<tspan font-size="6.0" dy="1.5">10</tspan><tspan dy="-1.5"> (padj)</tspan></text>
<text x="67.9" y="340.6" font-size="9.6" fill="#231f20" stroke="#231f20" stroke-width="0.2" textLength="60" lengthAdjust="spacingAndGlyphs">log<tspan font-size="6.8" dy="2">2</tspan><tspan dy="-2"> (FoldChange)</tspan></text>
<text x="239.10" y="21.10" font-size="9.9" text-anchor="middle" textLength="29.0" lengthAdjust="spacingAndGlyphs" fill="#111" stroke="#111" stroke-width="0.05">Day 14</text>
<text x="239.40" y="30.90" font-size="8.3" text-anchor="middle" textLength="49.5" lengthAdjust="spacingAndGlyphs" fill="#111" stroke="#111" stroke-width="0.05">TFI vs. CONT</text>
<line x1="209.90" y1="71.30" x2="222.52" y2="71.30" stroke="#555" stroke-width="0.9"/>
<text transform="translate(214.70 70.20) rotate(-45)" font-size="7.7" font-weight="normal" fill="#111" stroke="#111" stroke-width="0.08" textLength="19.0" lengthAdjust="spacingAndGlyphs">Day 0</text>
<line x1="224.12" y1="71.30" x2="236.73" y2="71.30" stroke="#555" stroke-width="0.9"/>
<text transform="translate(228.92 70.20) rotate(-45)" font-size="7.7" font-weight="normal" fill="#111" stroke="#111" stroke-width="0.08" textLength="19.0" lengthAdjust="spacingAndGlyphs">Day 7</text>
<line x1="238.33" y1="71.30" x2="250.95" y2="71.30" stroke="#555" stroke-width="0.9"/>
<text transform="translate(243.13 70.20) rotate(-45)" font-size="7.7" font-weight="bold" fill="#111" stroke="#111" stroke-width="0" textLength="23.5" lengthAdjust="spacingAndGlyphs">Day 14</text>
<line x1="252.55" y1="71.30" x2="265.17" y2="71.30" stroke="#555" stroke-width="0.9"/>
<text transform="translate(257.35 70.20) rotate(-45)" font-size="7.7" font-weight="bold" fill="#111" stroke="#111" stroke-width="0" textLength="37.0" lengthAdjust="spacingAndGlyphs">Day 14 TFI</text>
<line x1="266.77" y1="71.30" x2="279.38" y2="71.30" stroke="#555" stroke-width="0.9"/>
<text transform="translate(271.57 70.20) rotate(-45)" font-size="7.7" font-weight="normal" fill="#111" stroke="#111" stroke-width="0.08" textLength="24.0" lengthAdjust="spacingAndGlyphs">Day 21</text>
<line x1="280.98" y1="71.30" x2="293.60" y2="71.30" stroke="#555" stroke-width="0.9"/>
<text transform="translate(285.78 70.20) rotate(-45)" font-size="7.7" font-weight="normal" fill="#111" stroke="#111" stroke-width="0.08" textLength="38.0" lengthAdjust="spacingAndGlyphs">Day 21 TFI</text>
<rect x="208.90" y="73.70" width="85.90" height="5.10" fill="#1a1a2e"/>
<rect x="209.65" y="74.15" width="3.84" height="4.20" fill="#1b5a9a"/>
<rect x="214.39" y="74.15" width="3.84" height="4.20" fill="#1b5a9a"/>
<rect x="219.13" y="74.15" width="3.84" height="4.20" fill="#1b5a9a"/>
<rect x="223.87" y="74.15" width="3.84" height="4.20" fill="#1b5a9a"/>
<rect x="228.61" y="74.15" width="3.84" height="4.20" fill="#1b5a9a"/>
<rect x="233.34" y="74.15" width="3.84" height="4.20" fill="#1b5a9a"/>
<rect x="238.08" y="74.15" width="3.84" height="4.20" fill="#1b5a9a"/>
<rect x="242.82" y="74.15" width="3.84" height="4.20" fill="#1b5a9a"/>
<rect x="247.56" y="74.15" width="3.84" height="4.20" fill="#1b5a9a"/>
<rect x="252.30" y="74.15" width="3.84" height="4.20" fill="#d81b3c"/>
<rect x="257.04" y="74.15" width="3.84" height="4.20" fill="#d81b3c"/>
<rect x="261.78" y="74.15" width="3.84" height="4.20" fill="#d81b3c"/>
<rect x="266.52" y="74.15" width="3.84" height="4.20" fill="#1b5a9a"/>
<rect x="271.26" y="74.15" width="3.84" height="4.20" fill="#1b5a9a"/>
<rect x="275.99" y="74.15" width="3.84" height="4.20" fill="#1b5a9a"/>
<rect x="280.73" y="74.15" width="3.84" height="4.20" fill="#5a1f7a"/>
<rect x="285.47" y="74.15" width="3.84" height="4.20" fill="#5a1f7a"/>
<rect x="290.21" y="74.15" width="3.84" height="4.20" fill="#5a1f7a"/>
<g stroke="#9a9a9a" stroke-width="0.35"><rect x="209.20" y="80.60" width="4.74" height="2.32" fill="#feefa6"/><rect x="213.94" y="80.60" width="4.74" height="2.32" fill="#8bc0db"/><rect x="218.68" y="80.60" width="4.74" height="2.32" fill="#fdb86a"/><rect x="223.42" y="80.60" width="4.74" height="2.32" fill="#feeda4"/><rect x="228.16" y="80.60" width="4.74" height="2.32" fill="#fdc475"/><rect x="232.89" y="80.60" width="4.74" height="2.32" fill="#7eb5d5"/><rect x="237.63" y="80.60" width="4.74" height="2.32" fill="#fff9b5"/><rect x="242.37" y="80.60" width="4.74" height="2.32" fill="#fdc678"/><rect x="247.11" y="80.60" width="4.74" height="2.32" fill="#f99154"/><rect x="251.85" y="80.60" width="4.74" height="2.32" fill="#9ecfe3"/><rect x="256.59" y="80.60" width="4.74" height="2.32" fill="#fdc375"/><rect x="261.33" y="80.60" width="4.74" height="2.32" fill="#fed585"/><rect x="266.07" y="80.60" width="4.74" height="2.32" fill="#fdbc6e"/><rect x="270.81" y="80.60" width="4.74" height="2.32" fill="#fff8b4"/><rect x="275.54" y="80.60" width="4.74" height="2.32" fill="#b0dceb"/><rect x="280.28" y="80.60" width="4.74" height="2.32" fill="#fdaf62"/><rect x="285.02" y="80.60" width="4.74" height="2.32" fill="#ebf7e4"/><rect x="289.76" y="80.60" width="4.74" height="2.32" fill="#fa9656"/><rect x="209.20" y="82.92" width="4.74" height="2.32" fill="#acd9e9"/><rect x="213.94" y="82.92" width="4.74" height="2.32" fill="#6ca4cc"/><rect x="218.68" y="82.92" width="4.74" height="2.32" fill="#71aacf"/><rect x="223.42" y="82.92" width="4.74" height="2.32" fill="#fed081"/><rect x="228.16" y="82.92" width="4.74" height="2.32" fill="#fdc375"/><rect x="232.89" y="82.92" width="4.74" height="2.32" fill="#fed586"/><rect x="237.63" y="82.92" width="4.74" height="2.32" fill="#fee293"/><rect x="242.37" y="82.92" width="4.74" height="2.32" fill="#fee99e"/><rect x="247.11" y="82.92" width="4.74" height="2.32" fill="#fec97b"/><rect x="251.85" y="82.92" width="4.74" height="2.32" fill="#d4edf5"/><rect x="256.59" y="82.92" width="4.74" height="2.32" fill="#d3edf4"/><rect x="261.33" y="82.92" width="4.74" height="2.32" fill="#fffbb9"/><rect x="266.07" y="82.92" width="4.74" height="2.32" fill="#feeba1"/><rect x="270.81" y="82.92" width="4.74" height="2.32" fill="#fee79a"/><rect x="275.54" y="82.92" width="4.74" height="2.32" fill="#ffffbf"/><rect x="280.28" y="82.92" width="4.74" height="2.32" fill="#fdc375"/><rect x="285.02" y="82.92" width="4.74" height="2.32" fill="#fecd7e"/><rect x="289.76" y="82.92" width="4.74" height="2.32" fill="#fecc7e"/><rect x="209.20" y="85.24" width="4.74" height="2.32" fill="#81b7d7"/><rect x="213.94" y="85.24" width="4.74" height="2.32" fill="#7cb3d4"/><rect x="218.68" y="85.24" width="4.74" height="2.32" fill="#79b1d3"/><rect x="223.42" y="85.24" width="4.74" height="2.32" fill="#fee090"/><rect x="228.16" y="85.24" width="4.74" height="2.32" fill="#fed384"/><rect x="232.89" y="85.24" width="4.74" height="2.32" fill="#fdbe70"/><rect x="237.63" y="85.24" width="4.74" height="2.32" fill="#fec97a"/><rect x="242.37" y="85.24" width="4.74" height="2.32" fill="#fed081"/><rect x="247.11" y="85.24" width="4.74" height="2.32" fill="#fdbb6d"/><rect x="251.85" y="85.24" width="4.74" height="2.32" fill="#d1ecf4"/><rect x="256.59" y="85.24" width="4.74" height="2.32" fill="#d6eef5"/><rect x="261.33" y="85.24" width="4.74" height="2.32" fill="#f2fad6"/><rect x="266.07" y="85.24" width="4.74" height="2.32" fill="#fff9b6"/><rect x="270.81" y="85.24" width="4.74" height="2.32" fill="#fedd8d"/><rect x="275.54" y="85.24" width="4.74" height="2.32" fill="#feeba1"/><rect x="280.28" y="85.24" width="4.74" height="2.32" fill="#fdb467"/><rect x="285.02" y="85.24" width="4.74" height="2.32" fill="#fdaf61"/><rect x="289.76" y="85.24" width="4.74" height="2.32" fill="#feea9f"/><rect x="209.20" y="87.56" width="4.74" height="2.32" fill="#5e93c4"/><rect x="213.94" y="87.56" width="4.74" height="2.32" fill="#6aa1cb"/><rect x="218.68" y="87.56" width="4.74" height="2.32" fill="#6fa7ce"/><rect x="223.42" y="87.56" width="4.74" height="2.32" fill="#fdb669"/><rect x="228.16" y="87.56" width="4.74" height="2.32" fill="#fece7f"/><rect x="232.89" y="87.56" width="4.74" height="2.32" fill="#fdaf62"/><rect x="237.63" y="87.56" width="4.74" height="2.32" fill="#fed485"/><rect x="242.37" y="87.56" width="4.74" height="2.32" fill="#fecb7d"/><rect x="247.11" y="87.56" width="4.74" height="2.32" fill="#fec97a"/><rect x="251.85" y="87.56" width="4.74" height="2.32" fill="#ecf8e2"/><rect x="256.59" y="87.56" width="4.74" height="2.32" fill="#daf0f6"/><rect x="261.33" y="87.56" width="4.74" height="2.32" fill="#cfeaf3"/><rect x="266.07" y="87.56" width="4.74" height="2.32" fill="#ffffbf"/><rect x="270.81" y="87.56" width="4.74" height="2.32" fill="#ecf8e2"/><rect x="275.54" y="87.56" width="4.74" height="2.32" fill="#fee79a"/><rect x="280.28" y="87.56" width="4.74" height="2.32" fill="#fdbe70"/><rect x="285.02" y="87.56" width="4.74" height="2.32" fill="#fdc476"/><rect x="289.76" y="87.56" width="4.74" height="2.32" fill="#fdc778"/><rect x="209.20" y="89.88" width="4.74" height="2.32" fill="#679dc9"/><rect x="213.94" y="89.88" width="4.74" height="2.32" fill="#78b0d3"/><rect x="218.68" y="89.88" width="4.74" height="2.32" fill="#6197c5"/><rect x="223.42" y="89.88" width="4.74" height="2.32" fill="#fee192"/><rect x="228.16" y="89.88" width="4.74" height="2.32" fill="#fdb668"/><rect x="232.89" y="89.88" width="4.74" height="2.32" fill="#fdb669"/><rect x="237.63" y="89.88" width="4.74" height="2.32" fill="#feca7c"/><rect x="242.37" y="89.88" width="4.74" height="2.32" fill="#fdc677"/><rect x="247.11" y="89.88" width="4.74" height="2.32" fill="#fecc7d"/><rect x="251.85" y="89.88" width="4.74" height="2.32" fill="#eff9dc"/><rect x="256.59" y="89.88" width="4.74" height="2.32" fill="#cce9f2"/><rect x="261.33" y="89.88" width="4.74" height="2.32" fill="#d7eef5"/><rect x="266.07" y="89.88" width="4.74" height="2.32" fill="#fff7b3"/><rect x="270.81" y="89.88" width="4.74" height="2.32" fill="#fee89d"/><rect x="275.54" y="89.88" width="4.74" height="2.32" fill="#fbfec6"/><rect x="280.28" y="89.88" width="4.74" height="2.32" fill="#fecd7e"/><rect x="285.02" y="89.88" width="4.74" height="2.32" fill="#feda8b"/><rect x="289.76" y="89.88" width="4.74" height="2.32" fill="#fedd8e"/><rect x="209.20" y="92.20" width="4.74" height="2.32" fill="#6da5cd"/><rect x="213.94" y="92.20" width="4.74" height="2.32" fill="#79b1d3"/><rect x="218.68" y="92.20" width="4.74" height="2.32" fill="#6298c6"/><rect x="223.42" y="92.20" width="4.74" height="2.32" fill="#fedf8f"/><rect x="228.16" y="92.20" width="4.74" height="2.32" fill="#fedb8b"/><rect x="232.89" y="92.20" width="4.74" height="2.32" fill="#fecd7e"/><rect x="237.63" y="92.20" width="4.74" height="2.32" fill="#fdc375"/><rect x="242.37" y="92.20" width="4.74" height="2.32" fill="#fee699"/><rect x="247.11" y="92.20" width="4.74" height="2.32" fill="#feca7b"/><rect x="251.85" y="92.20" width="4.74" height="2.32" fill="#c1e4ef"/><rect x="256.59" y="92.20" width="4.74" height="2.32" fill="#e2f4f4"/><rect x="261.33" y="92.20" width="4.74" height="2.32" fill="#c2e4ef"/><rect x="266.07" y="92.20" width="4.74" height="2.32" fill="#ecf8e1"/><rect x="270.81" y="92.20" width="4.74" height="2.32" fill="#f3fad5"/><rect x="275.54" y="92.20" width="4.74" height="2.32" fill="#feffc1"/><rect x="280.28" y="92.20" width="4.74" height="2.32" fill="#fee395"/><rect x="285.02" y="92.20" width="4.74" height="2.32" fill="#fece7f"/><rect x="289.76" y="92.20" width="4.74" height="2.32" fill="#fecf80"/><rect x="209.20" y="94.52" width="4.74" height="2.32" fill="#75aed2"/><rect x="213.94" y="94.52" width="4.74" height="2.32" fill="#7fb6d6"/><rect x="218.68" y="94.52" width="4.74" height="2.32" fill="#679ec9"/><rect x="223.42" y="94.52" width="4.74" height="2.32" fill="#fecc7d"/><rect x="228.16" y="94.52" width="4.74" height="2.32" fill="#fecd7e"/><rect x="232.89" y="94.52" width="4.74" height="2.32" fill="#feefa6"/><rect x="237.63" y="94.52" width="4.74" height="2.32" fill="#fdc173"/><rect x="242.37" y="94.52" width="4.74" height="2.32" fill="#fed787"/><rect x="247.11" y="94.52" width="4.74" height="2.32" fill="#fed687"/><rect x="251.85" y="94.52" width="4.74" height="2.32" fill="#d4edf5"/><rect x="256.59" y="94.52" width="4.74" height="2.32" fill="#def2f8"/><rect x="261.33" y="94.52" width="4.74" height="2.32" fill="#e3f4f3"/><rect x="266.07" y="94.52" width="4.74" height="2.32" fill="#fff1aa"/><rect x="270.81" y="94.52" width="4.74" height="2.32" fill="#fafdc8"/><rect x="275.54" y="94.52" width="4.74" height="2.32" fill="#feeea6"/><rect x="280.28" y="94.52" width="4.74" height="2.32" fill="#fdc374"/><rect x="285.02" y="94.52" width="4.74" height="2.32" fill="#fed282"/><rect x="289.76" y="94.52" width="4.74" height="2.32" fill="#fecb7c"/><rect x="209.20" y="96.84" width="4.74" height="2.32" fill="#7eb5d6"/><rect x="213.94" y="96.84" width="4.74" height="2.32" fill="#83b9d7"/><rect x="218.68" y="96.84" width="4.74" height="2.32" fill="#79b1d3"/><rect x="223.42" y="96.84" width="4.74" height="2.32" fill="#fdb063"/><rect x="228.16" y="96.84" width="4.74" height="2.32" fill="#fa9a58"/><rect x="232.89" y="96.84" width="4.74" height="2.32" fill="#fdbc6f"/><rect x="237.63" y="96.84" width="4.74" height="2.32" fill="#fedf8f"/><rect x="242.37" y="96.84" width="4.74" height="2.32" fill="#fba05b"/><rect x="247.11" y="96.84" width="4.74" height="2.32" fill="#fecc7d"/><rect x="251.85" y="96.84" width="4.74" height="2.32" fill="#c9e8f2"/><rect x="256.59" y="96.84" width="4.74" height="2.32" fill="#b6deec"/><rect x="261.33" y="96.84" width="4.74" height="2.32" fill="#ebf7e4"/><rect x="266.07" y="96.84" width="4.74" height="2.32" fill="#fee293"/><rect x="270.81" y="96.84" width="4.74" height="2.32" fill="#fee495"/><rect x="275.54" y="96.84" width="4.74" height="2.32" fill="#fff9b5"/><rect x="280.28" y="96.84" width="4.74" height="2.32" fill="#fca85e"/><rect x="285.02" y="96.84" width="4.74" height="2.32" fill="#fdc576"/><rect x="289.76" y="96.84" width="4.74" height="2.32" fill="#fece7f"/><rect x="209.20" y="99.16" width="4.74" height="2.32" fill="#74add1"/><rect x="213.94" y="99.16" width="4.74" height="2.32" fill="#72abd0"/><rect x="218.68" y="99.16" width="4.74" height="2.32" fill="#77b0d2"/><rect x="223.42" y="99.16" width="4.74" height="2.32" fill="#fff1a9"/><rect x="228.16" y="99.16" width="4.74" height="2.32" fill="#fdaf62"/><rect x="232.89" y="99.16" width="4.74" height="2.32" fill="#fed787"/><rect x="237.63" y="99.16" width="4.74" height="2.32" fill="#fdbd6f"/><rect x="242.37" y="99.16" width="4.74" height="2.32" fill="#fed788"/><rect x="247.11" y="99.16" width="4.74" height="2.32" fill="#fdc677"/><rect x="251.85" y="99.16" width="4.74" height="2.32" fill="#d9f0f6"/><rect x="256.59" y="99.16" width="4.74" height="2.32" fill="#bee2ee"/><rect x="261.33" y="99.16" width="4.74" height="2.32" fill="#e3f4f2"/><rect x="266.07" y="99.16" width="4.74" height="2.32" fill="#feefa7"/><rect x="270.81" y="99.16" width="4.74" height="2.32" fill="#f3fad5"/><rect x="275.54" y="99.16" width="4.74" height="2.32" fill="#e2f4f4"/><rect x="280.28" y="99.16" width="4.74" height="2.32" fill="#fed687"/><rect x="285.02" y="99.16" width="4.74" height="2.32" fill="#feda8a"/><rect x="289.76" y="99.16" width="4.74" height="2.32" fill="#fec87a"/><rect x="209.20" y="101.48" width="4.74" height="2.32" fill="#8abfdb"/><rect x="213.94" y="101.48" width="4.74" height="2.32" fill="#7bb2d4"/><rect x="218.68" y="101.48" width="4.74" height="2.32" fill="#6da5cd"/><rect x="223.42" y="101.48" width="4.74" height="2.32" fill="#feca7b"/><rect x="228.16" y="101.48" width="4.74" height="2.32" fill="#fffcba"/><rect x="232.89" y="101.48" width="4.74" height="2.32" fill="#fede8e"/><rect x="237.63" y="101.48" width="4.74" height="2.32" fill="#fedb8b"/><rect x="242.37" y="101.48" width="4.74" height="2.32" fill="#fecc7d"/><rect x="247.11" y="101.48" width="4.74" height="2.32" fill="#fdc476"/><rect x="251.85" y="101.48" width="4.74" height="2.32" fill="#e0f3f8"/><rect x="256.59" y="101.48" width="4.74" height="2.32" fill="#ecf8e2"/><rect x="261.33" y="101.48" width="4.74" height="2.32" fill="#ceeaf3"/><rect x="266.07" y="101.48" width="4.74" height="2.32" fill="#fff5b0"/><rect x="270.81" y="101.48" width="4.74" height="2.32" fill="#fffcba"/><rect x="275.54" y="101.48" width="4.74" height="2.32" fill="#fff9b7"/><rect x="280.28" y="101.48" width="4.74" height="2.32" fill="#fdc577"/><rect x="285.02" y="101.48" width="4.74" height="2.32" fill="#fed081"/><rect x="289.76" y="101.48" width="4.74" height="2.32" fill="#fec779"/><rect x="209.20" y="103.80" width="4.74" height="2.32" fill="#81b7d6"/><rect x="213.94" y="103.80" width="4.74" height="2.32" fill="#6fa7ce"/><rect x="218.68" y="103.80" width="4.74" height="2.32" fill="#75aed1"/><rect x="223.42" y="103.80" width="4.74" height="2.32" fill="#fa9c59"/><rect x="228.16" y="103.80" width="4.74" height="2.32" fill="#fdc274"/><rect x="232.89" y="103.80" width="4.74" height="2.32" fill="#fdc475"/><rect x="237.63" y="103.80" width="4.74" height="2.32" fill="#fdb669"/><rect x="242.37" y="103.80" width="4.74" height="2.32" fill="#fedc8d"/><rect x="247.11" y="103.80" width="4.74" height="2.32" fill="#fdbd6f"/><rect x="251.85" y="103.80" width="4.74" height="2.32" fill="#e9f6e8"/><rect x="256.59" y="103.80" width="4.74" height="2.32" fill="#e3f4f2"/><rect x="261.33" y="103.80" width="4.74" height="2.32" fill="#ecf8e1"/><rect x="266.07" y="103.80" width="4.74" height="2.32" fill="#feeea5"/><rect x="270.81" y="103.80" width="4.74" height="2.32" fill="#fee89c"/><rect x="275.54" y="103.80" width="4.74" height="2.32" fill="#fafdc8"/><rect x="280.28" y="103.80" width="4.74" height="2.32" fill="#fdc475"/><rect x="285.02" y="103.80" width="4.74" height="2.32" fill="#fed586"/><rect x="289.76" y="103.80" width="4.74" height="2.32" fill="#fdb567"/><rect x="209.20" y="106.12" width="4.74" height="2.32" fill="#6095c5"/><rect x="213.94" y="106.12" width="4.74" height="2.32" fill="#73acd1"/><rect x="218.68" y="106.12" width="4.74" height="2.32" fill="#649ac7"/><rect x="223.42" y="106.12" width="4.74" height="2.32" fill="#fdba6c"/><rect x="228.16" y="106.12" width="4.74" height="2.32" fill="#fed283"/><rect x="232.89" y="106.12" width="4.74" height="2.32" fill="#fff0a8"/><rect x="237.63" y="106.12" width="4.74" height="2.32" fill="#fecf80"/><rect x="242.37" y="106.12" width="4.74" height="2.32" fill="#fdb568"/><rect x="247.11" y="106.12" width="4.74" height="2.32" fill="#fdc274"/><rect x="251.85" y="106.12" width="4.74" height="2.32" fill="#d1ecf4"/><rect x="256.59" y="106.12" width="4.74" height="2.32" fill="#e8f6e9"/><rect x="261.33" y="106.12" width="4.74" height="2.32" fill="#e7f6eb"/><rect x="266.07" y="106.12" width="4.74" height="2.32" fill="#fee293"/><rect x="270.81" y="106.12" width="4.74" height="2.32" fill="#feeba0"/><rect x="275.54" y="106.12" width="4.74" height="2.32" fill="#fff3ad"/><rect x="280.28" y="106.12" width="4.74" height="2.32" fill="#fed889"/><rect x="285.02" y="106.12" width="4.74" height="2.32" fill="#fdc576"/><rect x="289.76" y="106.12" width="4.74" height="2.32" fill="#fdc476"/><rect x="209.20" y="108.44" width="4.74" height="2.32" fill="#77b0d2"/><rect x="213.94" y="108.44" width="4.74" height="2.32" fill="#6196c5"/><rect x="218.68" y="108.44" width="4.74" height="2.32" fill="#7ab2d3"/><rect x="223.42" y="108.44" width="4.74" height="2.32" fill="#fecd7e"/><rect x="228.16" y="108.44" width="4.74" height="2.32" fill="#fdc678"/><rect x="232.89" y="108.44" width="4.74" height="2.32" fill="#fece80"/><rect x="237.63" y="108.44" width="4.74" height="2.32" fill="#fecf80"/><rect x="242.37" y="108.44" width="4.74" height="2.32" fill="#fdc576"/><rect x="247.11" y="108.44" width="4.74" height="2.32" fill="#fdbb6d"/><rect x="251.85" y="108.44" width="4.74" height="2.32" fill="#d6eef5"/><rect x="256.59" y="108.44" width="4.74" height="2.32" fill="#e2f4f5"/><rect x="261.33" y="108.44" width="4.74" height="2.32" fill="#cdeaf3"/><rect x="266.07" y="108.44" width="4.74" height="2.32" fill="#fff3ad"/><rect x="270.81" y="108.44" width="4.74" height="2.32" fill="#fff9b6"/><rect x="275.54" y="108.44" width="4.74" height="2.32" fill="#f0f9db"/><rect x="280.28" y="108.44" width="4.74" height="2.32" fill="#fdb668"/><rect x="285.02" y="108.44" width="4.74" height="2.32" fill="#fedb8c"/><rect x="289.76" y="108.44" width="4.74" height="2.32" fill="#feca7b"/><rect x="209.20" y="110.75" width="4.74" height="2.32" fill="#4f81ba"/><rect x="213.94" y="110.75" width="4.74" height="2.32" fill="#70a8cf"/><rect x="218.68" y="110.75" width="4.74" height="2.32" fill="#5487bd"/><rect x="223.42" y="110.75" width="4.74" height="2.32" fill="#fffab8"/><rect x="228.16" y="110.75" width="4.74" height="2.32" fill="#fede8e"/><rect x="232.89" y="110.75" width="4.74" height="2.32" fill="#fff2ac"/><rect x="237.63" y="110.75" width="4.74" height="2.32" fill="#feda8b"/><rect x="242.37" y="110.75" width="4.74" height="2.32" fill="#fdb568"/><rect x="247.11" y="110.75" width="4.74" height="2.32" fill="#fede8e"/><rect x="251.85" y="110.75" width="4.74" height="2.32" fill="#d5edf5"/><rect x="256.59" y="110.75" width="4.74" height="2.32" fill="#d9eff6"/><rect x="261.33" y="110.75" width="4.74" height="2.32" fill="#d3ecf4"/><rect x="266.07" y="110.75" width="4.74" height="2.32" fill="#f7fcce"/><rect x="270.81" y="110.75" width="4.74" height="2.32" fill="#feeea5"/><rect x="275.54" y="110.75" width="4.74" height="2.32" fill="#f8fccc"/><rect x="280.28" y="110.75" width="4.74" height="2.32" fill="#fed283"/><rect x="285.02" y="110.75" width="4.74" height="2.32" fill="#fed687"/><rect x="289.76" y="110.75" width="4.74" height="2.32" fill="#feeda3"/><rect x="209.20" y="113.07" width="4.74" height="2.32" fill="#74add1"/><rect x="213.94" y="113.07" width="4.74" height="2.32" fill="#7eb5d5"/><rect x="218.68" y="113.07" width="4.74" height="2.32" fill="#7eb5d5"/><rect x="223.42" y="113.07" width="4.74" height="2.32" fill="#fdad61"/><rect x="228.16" y="113.07" width="4.74" height="2.32" fill="#feea9f"/><rect x="232.89" y="113.07" width="4.74" height="2.32" fill="#fed485"/><rect x="237.63" y="113.07" width="4.74" height="2.32" fill="#fecf80"/><rect x="242.37" y="113.07" width="4.74" height="2.32" fill="#fed687"/><rect x="247.11" y="113.07" width="4.74" height="2.32" fill="#fdbf71"/><rect x="251.85" y="113.07" width="4.74" height="2.32" fill="#ddf2f7"/><rect x="256.59" y="113.07" width="4.74" height="2.32" fill="#e1f4f5"/><rect x="261.33" y="113.07" width="4.74" height="2.32" fill="#c0e3ef"/><rect x="266.07" y="113.07" width="4.74" height="2.32" fill="#f8fccc"/><rect x="270.81" y="113.07" width="4.74" height="2.32" fill="#fff8b4"/><rect x="275.54" y="113.07" width="4.74" height="2.32" fill="#fffebd"/><rect x="280.28" y="113.07" width="4.74" height="2.32" fill="#fed384"/><rect x="285.02" y="113.07" width="4.74" height="2.32" fill="#feca7b"/><rect x="289.76" y="113.07" width="4.74" height="2.32" fill="#fecd7e"/><rect x="209.20" y="115.39" width="4.74" height="2.32" fill="#82b8d7"/><rect x="213.94" y="115.39" width="4.74" height="2.32" fill="#6095c4"/><rect x="218.68" y="115.39" width="4.74" height="2.32" fill="#72aad0"/><rect x="223.42" y="115.39" width="4.74" height="2.32" fill="#fecd7e"/><rect x="228.16" y="115.39" width="4.74" height="2.32" fill="#fdc677"/><rect x="232.89" y="115.39" width="4.74" height="2.32" fill="#fee192"/><rect x="237.63" y="115.39" width="4.74" height="2.32" fill="#fee598"/><rect x="242.37" y="115.39" width="4.74" height="2.32" fill="#fecc7d"/><rect x="247.11" y="115.39" width="4.74" height="2.32" fill="#fecf80"/><rect x="251.85" y="115.39" width="4.74" height="2.32" fill="#a4d4e6"/><rect x="256.59" y="115.39" width="4.74" height="2.32" fill="#a0d0e4"/><rect x="261.33" y="115.39" width="4.74" height="2.32" fill="#c6e6f1"/><rect x="266.07" y="115.39" width="4.74" height="2.32" fill="#f5fbd2"/><rect x="270.81" y="115.39" width="4.74" height="2.32" fill="#f7fcce"/><rect x="275.54" y="115.39" width="4.74" height="2.32" fill="#fffcba"/><rect x="280.28" y="115.39" width="4.74" height="2.32" fill="#fee699"/><rect x="285.02" y="115.39" width="4.74" height="2.32" fill="#fca55d"/><rect x="289.76" y="115.39" width="4.74" height="2.32" fill="#fdc577"/><rect x="209.20" y="117.71" width="4.74" height="2.32" fill="#80b7d6"/><rect x="213.94" y="117.71" width="4.74" height="2.32" fill="#5e93c4"/><rect x="218.68" y="117.71" width="4.74" height="2.32" fill="#7fb6d6"/><rect x="223.42" y="117.71" width="4.74" height="2.32" fill="#feca7b"/><rect x="228.16" y="117.71" width="4.74" height="2.32" fill="#fdb86a"/><rect x="232.89" y="117.71" width="4.74" height="2.32" fill="#fdc274"/><rect x="237.63" y="117.71" width="4.74" height="2.32" fill="#fdb163"/><rect x="242.37" y="117.71" width="4.74" height="2.32" fill="#fecd7e"/><rect x="247.11" y="117.71" width="4.74" height="2.32" fill="#fdc375"/><rect x="251.85" y="117.71" width="4.74" height="2.32" fill="#e8f6e9"/><rect x="256.59" y="117.71" width="4.74" height="2.32" fill="#dbf0f7"/><rect x="261.33" y="117.71" width="4.74" height="2.32" fill="#e0f3f7"/><rect x="266.07" y="117.71" width="4.74" height="2.32" fill="#fee699"/><rect x="270.81" y="117.71" width="4.74" height="2.32" fill="#fecf80"/><rect x="275.54" y="117.71" width="4.74" height="2.32" fill="#fff2ab"/><rect x="280.28" y="117.71" width="4.74" height="2.32" fill="#fdaf62"/><rect x="285.02" y="117.71" width="4.74" height="2.32" fill="#fed384"/><rect x="289.76" y="117.71" width="4.74" height="2.32" fill="#fdc778"/><rect x="209.20" y="120.03" width="4.74" height="2.32" fill="#7cb4d5"/><rect x="213.94" y="120.03" width="4.74" height="2.32" fill="#659cc8"/><rect x="218.68" y="120.03" width="4.74" height="2.32" fill="#7db4d5"/><rect x="223.42" y="120.03" width="4.74" height="2.32" fill="#fdc778"/><rect x="228.16" y="120.03" width="4.74" height="2.32" fill="#fdb265"/><rect x="232.89" y="120.03" width="4.74" height="2.32" fill="#fdb96b"/><rect x="237.63" y="120.03" width="4.74" height="2.32" fill="#fdbc6e"/><rect x="242.37" y="120.03" width="4.74" height="2.32" fill="#fecd7f"/><rect x="247.11" y="120.03" width="4.74" height="2.32" fill="#fdc273"/><rect x="251.85" y="120.03" width="4.74" height="2.32" fill="#cfeaf3"/><rect x="256.59" y="120.03" width="4.74" height="2.32" fill="#cfebf3"/><rect x="261.33" y="120.03" width="4.74" height="2.32" fill="#bce1ee"/><rect x="266.07" y="120.03" width="4.74" height="2.32" fill="#f2fad6"/><rect x="270.81" y="120.03" width="4.74" height="2.32" fill="#f3fad5"/><rect x="275.54" y="120.03" width="4.74" height="2.32" fill="#fff8b5"/><rect x="280.28" y="120.03" width="4.74" height="2.32" fill="#fdc678"/><rect x="285.02" y="120.03" width="4.74" height="2.32" fill="#fee090"/><rect x="289.76" y="120.03" width="4.74" height="2.32" fill="#feca7b"/><rect x="209.20" y="122.35" width="4.74" height="2.32" fill="#83b9d7"/><rect x="213.94" y="122.35" width="4.74" height="2.32" fill="#73abd0"/><rect x="218.68" y="122.35" width="4.74" height="2.32" fill="#77b0d2"/><rect x="223.42" y="122.35" width="4.74" height="2.32" fill="#fed081"/><rect x="228.16" y="122.35" width="4.74" height="2.32" fill="#fdb86b"/><rect x="232.89" y="122.35" width="4.74" height="2.32" fill="#fee496"/><rect x="237.63" y="122.35" width="4.74" height="2.32" fill="#fdc173"/><rect x="242.37" y="122.35" width="4.74" height="2.32" fill="#feeda3"/><rect x="247.11" y="122.35" width="4.74" height="2.32" fill="#fca65d"/><rect x="251.85" y="122.35" width="4.74" height="2.32" fill="#eff9dc"/><rect x="256.59" y="122.35" width="4.74" height="2.32" fill="#b7dfec"/><rect x="261.33" y="122.35" width="4.74" height="2.32" fill="#d6eef5"/><rect x="266.07" y="122.35" width="4.74" height="2.32" fill="#f1fad9"/><rect x="270.81" y="122.35" width="4.74" height="2.32" fill="#ebf7e3"/><rect x="275.54" y="122.35" width="4.74" height="2.32" fill="#fffcbb"/><rect x="280.28" y="122.35" width="4.74" height="2.32" fill="#fed788"/><rect x="285.02" y="122.35" width="4.74" height="2.32" fill="#fdb567"/><rect x="289.76" y="122.35" width="4.74" height="2.32" fill="#fed182"/><rect x="209.20" y="124.67" width="4.74" height="2.32" fill="#679ec9"/><rect x="213.94" y="124.67" width="4.74" height="2.32" fill="#6ea6cd"/><rect x="218.68" y="124.67" width="4.74" height="2.32" fill="#74add1"/><rect x="223.42" y="124.67" width="4.74" height="2.32" fill="#fecf80"/><rect x="228.16" y="124.67" width="4.74" height="2.32" fill="#fff0a8"/><rect x="232.89" y="124.67" width="4.74" height="2.32" fill="#fee699"/><rect x="237.63" y="124.67" width="4.74" height="2.32" fill="#fed888"/><rect x="242.37" y="124.67" width="4.74" height="2.32" fill="#fee395"/><rect x="247.11" y="124.67" width="4.74" height="2.32" fill="#fec779"/><rect x="251.85" y="124.67" width="4.74" height="2.32" fill="#c9e8f2"/><rect x="256.59" y="124.67" width="4.74" height="2.32" fill="#ceeaf3"/><rect x="261.33" y="124.67" width="4.74" height="2.32" fill="#c9e8f1"/><rect x="266.07" y="124.67" width="4.74" height="2.32" fill="#fcfec5"/><rect x="270.81" y="124.67" width="4.74" height="2.32" fill="#e2f4f5"/><rect x="275.54" y="124.67" width="4.74" height="2.32" fill="#fee395"/><rect x="280.28" y="124.67" width="4.74" height="2.32" fill="#fee091"/><rect x="285.02" y="124.67" width="4.74" height="2.32" fill="#fee394"/><rect x="289.76" y="124.67" width="4.74" height="2.32" fill="#fff3ac"/><rect x="209.20" y="126.99" width="4.74" height="2.32" fill="#5d92c3"/><rect x="213.94" y="126.99" width="4.74" height="2.32" fill="#74add1"/><rect x="218.68" y="126.99" width="4.74" height="2.32" fill="#82b8d7"/><rect x="223.42" y="126.99" width="4.74" height="2.32" fill="#fdc375"/><rect x="228.16" y="126.99" width="4.74" height="2.32" fill="#fed687"/><rect x="232.89" y="126.99" width="4.74" height="2.32" fill="#fdb76a"/><rect x="237.63" y="126.99" width="4.74" height="2.32" fill="#fece7f"/><rect x="242.37" y="126.99" width="4.74" height="2.32" fill="#fecc7d"/><rect x="247.11" y="126.99" width="4.74" height="2.32" fill="#feca7b"/><rect x="251.85" y="126.99" width="4.74" height="2.32" fill="#d1ecf4"/><rect x="256.59" y="126.99" width="4.74" height="2.32" fill="#e2f4f4"/><rect x="261.33" y="126.99" width="4.74" height="2.32" fill="#c3e5f0"/><rect x="266.07" y="126.99" width="4.74" height="2.32" fill="#e6f5ec"/><rect x="270.81" y="126.99" width="4.74" height="2.32" fill="#fee99d"/><rect x="275.54" y="126.99" width="4.74" height="2.32" fill="#f8fccc"/><rect x="280.28" y="126.99" width="4.74" height="2.32" fill="#fed384"/><rect x="285.02" y="126.99" width="4.74" height="2.32" fill="#fdc678"/><rect x="289.76" y="126.99" width="4.74" height="2.32" fill="#fed586"/><rect x="209.20" y="129.31" width="4.74" height="2.32" fill="#659bc8"/><rect x="213.94" y="129.31" width="4.74" height="2.32" fill="#5b8fc2"/><rect x="218.68" y="129.31" width="4.74" height="2.32" fill="#6fa7ce"/><rect x="223.42" y="129.31" width="4.74" height="2.32" fill="#fee191"/><rect x="228.16" y="129.31" width="4.74" height="2.32" fill="#fede8e"/><rect x="232.89" y="129.31" width="4.74" height="2.32" fill="#fecb7c"/><rect x="237.63" y="129.31" width="4.74" height="2.32" fill="#feeea6"/><rect x="242.37" y="129.31" width="4.74" height="2.32" fill="#feeea5"/><rect x="247.11" y="129.31" width="4.74" height="2.32" fill="#fec87a"/><rect x="251.85" y="129.31" width="4.74" height="2.32" fill="#e6f5ed"/><rect x="256.59" y="129.31" width="4.74" height="2.32" fill="#d1ebf4"/><rect x="261.33" y="129.31" width="4.74" height="2.32" fill="#c1e4ef"/><rect x="266.07" y="129.31" width="4.74" height="2.32" fill="#fff1aa"/><rect x="270.81" y="129.31" width="4.74" height="2.32" fill="#fffcba"/><rect x="275.54" y="129.31" width="4.74" height="2.32" fill="#fff4af"/><rect x="280.28" y="129.31" width="4.74" height="2.32" fill="#fff4ae"/><rect x="285.02" y="129.31" width="4.74" height="2.32" fill="#feda8a"/><rect x="289.76" y="129.31" width="4.74" height="2.32" fill="#fee89c"/><rect x="209.20" y="131.63" width="4.74" height="2.32" fill="#70a9cf"/><rect x="213.94" y="131.63" width="4.74" height="2.32" fill="#72abd0"/><rect x="218.68" y="131.63" width="4.74" height="2.32" fill="#6298c6"/><rect x="223.42" y="131.63" width="4.74" height="2.32" fill="#fedd8d"/><rect x="228.16" y="131.63" width="4.74" height="2.32" fill="#fdbf71"/><rect x="232.89" y="131.63" width="4.74" height="2.32" fill="#fecc7d"/><rect x="237.63" y="131.63" width="4.74" height="2.32" fill="#fed787"/><rect x="242.37" y="131.63" width="4.74" height="2.32" fill="#fecc7d"/><rect x="247.11" y="131.63" width="4.74" height="2.32" fill="#fed384"/><rect x="251.85" y="131.63" width="4.74" height="2.32" fill="#b8dfed"/><rect x="256.59" y="131.63" width="4.74" height="2.32" fill="#c6e6f1"/><rect x="261.33" y="131.63" width="4.74" height="2.32" fill="#d5eef5"/><rect x="266.07" y="131.63" width="4.74" height="2.32" fill="#fffab7"/><rect x="270.81" y="131.63" width="4.74" height="2.32" fill="#e7f6ec"/><rect x="275.54" y="131.63" width="4.74" height="2.32" fill="#edf8e0"/><rect x="280.28" y="131.63" width="4.74" height="2.32" fill="#fee191"/><rect x="285.02" y="131.63" width="4.74" height="2.32" fill="#feefa6"/><rect x="289.76" y="131.63" width="4.74" height="2.32" fill="#fdc374"/><rect x="209.20" y="133.95" width="4.74" height="2.32" fill="#89beda"/><rect x="213.94" y="133.95" width="4.74" height="2.32" fill="#568abf"/><rect x="218.68" y="133.95" width="4.74" height="2.32" fill="#69a0ca"/><rect x="223.42" y="133.95" width="4.74" height="2.32" fill="#fca75e"/><rect x="228.16" y="133.95" width="4.74" height="2.32" fill="#fee293"/><rect x="232.89" y="133.95" width="4.74" height="2.32" fill="#fee89c"/><rect x="237.63" y="133.95" width="4.74" height="2.32" fill="#fdc173"/><rect x="242.37" y="133.95" width="4.74" height="2.32" fill="#fca95e"/><rect x="247.11" y="133.95" width="4.74" height="2.32" fill="#fdba6c"/><rect x="251.85" y="133.95" width="4.74" height="2.32" fill="#ceeaf3"/><rect x="256.59" y="133.95" width="4.74" height="2.32" fill="#e9f7e7"/><rect x="261.33" y="133.95" width="4.74" height="2.32" fill="#e7f6ec"/><rect x="266.07" y="133.95" width="4.74" height="2.32" fill="#fff2ac"/><rect x="270.81" y="133.95" width="4.74" height="2.32" fill="#fff0a9"/><rect x="275.54" y="133.95" width="4.74" height="2.32" fill="#feea9f"/><rect x="280.28" y="133.95" width="4.74" height="2.32" fill="#fdb265"/><rect x="285.02" y="133.95" width="4.74" height="2.32" fill="#fdae61"/><rect x="289.76" y="133.95" width="4.74" height="2.32" fill="#fdb467"/><rect x="209.20" y="136.27" width="4.74" height="2.32" fill="#568abf"/><rect x="213.94" y="136.27" width="4.74" height="2.32" fill="#77b0d2"/><rect x="218.68" y="136.27" width="4.74" height="2.32" fill="#5b8fc2"/><rect x="223.42" y="136.27" width="4.74" height="2.32" fill="#fca55d"/><rect x="228.16" y="136.27" width="4.74" height="2.32" fill="#fee394"/><rect x="232.89" y="136.27" width="4.74" height="2.32" fill="#feeda4"/><rect x="237.63" y="136.27" width="4.74" height="2.32" fill="#feeaa0"/><rect x="242.37" y="136.27" width="4.74" height="2.32" fill="#fdc476"/><rect x="247.11" y="136.27" width="4.74" height="2.32" fill="#fdc677"/><rect x="251.85" y="136.27" width="4.74" height="2.32" fill="#e5f5ee"/><rect x="256.59" y="136.27" width="4.74" height="2.32" fill="#dff3f8"/><rect x="261.33" y="136.27" width="4.74" height="2.32" fill="#cbe9f2"/><rect x="266.07" y="136.27" width="4.74" height="2.32" fill="#feefa7"/><rect x="270.81" y="136.27" width="4.74" height="2.32" fill="#f8fccc"/><rect x="275.54" y="136.27" width="4.74" height="2.32" fill="#eaf7e5"/><rect x="280.28" y="136.27" width="4.74" height="2.32" fill="#fdbd6f"/><rect x="285.02" y="136.27" width="4.74" height="2.32" fill="#fdc375"/><rect x="289.76" y="136.27" width="4.74" height="2.32" fill="#fede8e"/><rect x="209.20" y="138.59" width="4.74" height="2.32" fill="#7eb5d5"/><rect x="213.94" y="138.59" width="4.74" height="2.32" fill="#7db4d5"/><rect x="218.68" y="138.59" width="4.74" height="2.32" fill="#6095c5"/><rect x="223.42" y="138.59" width="4.74" height="2.32" fill="#fdbc6e"/><rect x="228.16" y="138.59" width="4.74" height="2.32" fill="#fff9b6"/><rect x="232.89" y="138.59" width="4.74" height="2.32" fill="#fece7f"/><rect x="237.63" y="138.59" width="4.74" height="2.32" fill="#fdc577"/><rect x="242.37" y="138.59" width="4.74" height="2.32" fill="#fecf80"/><rect x="247.11" y="138.59" width="4.74" height="2.32" fill="#feca7c"/><rect x="251.85" y="138.59" width="4.74" height="2.32" fill="#bae0ed"/><rect x="256.59" y="138.59" width="4.74" height="2.32" fill="#d6eef5"/><rect x="261.33" y="138.59" width="4.74" height="2.32" fill="#e2f4f5"/><rect x="266.07" y="138.59" width="4.74" height="2.32" fill="#f3fad5"/><rect x="270.81" y="138.59" width="4.74" height="2.32" fill="#fffab7"/><rect x="275.54" y="138.59" width="4.74" height="2.32" fill="#fffebe"/><rect x="280.28" y="138.59" width="4.74" height="2.32" fill="#fff3ac"/><rect x="285.02" y="138.59" width="4.74" height="2.32" fill="#fed989"/><rect x="289.76" y="138.59" width="4.74" height="2.32" fill="#fdc475"/><rect x="209.20" y="140.91" width="4.74" height="2.32" fill="#5689be"/><rect x="213.94" y="140.91" width="4.74" height="2.32" fill="#5a8ec1"/><rect x="218.68" y="140.91" width="4.74" height="2.32" fill="#4575b4"/><rect x="223.42" y="140.91" width="4.74" height="2.32" fill="#fee191"/><rect x="228.16" y="140.91" width="4.74" height="2.32" fill="#fecc7e"/><rect x="232.89" y="140.91" width="4.74" height="2.32" fill="#fecf80"/><rect x="237.63" y="140.91" width="4.74" height="2.32" fill="#fee99e"/><rect x="242.37" y="140.91" width="4.74" height="2.32" fill="#fdc778"/><rect x="247.11" y="140.91" width="4.74" height="2.32" fill="#fed384"/><rect x="251.85" y="140.91" width="4.74" height="2.32" fill="#cdeaf3"/><rect x="256.59" y="140.91" width="4.74" height="2.32" fill="#e7f6eb"/><rect x="261.33" y="140.91" width="4.74" height="2.32" fill="#d9f0f6"/><rect x="266.07" y="140.91" width="4.74" height="2.32" fill="#fdfec3"/><rect x="270.81" y="140.91" width="4.74" height="2.32" fill="#fff8b4"/><rect x="275.54" y="140.91" width="4.74" height="2.32" fill="#fffcbb"/><rect x="280.28" y="140.91" width="4.74" height="2.32" fill="#fdc476"/><rect x="285.02" y="140.91" width="4.74" height="2.32" fill="#fedd8d"/><rect x="289.76" y="140.91" width="4.74" height="2.32" fill="#fff6b2"/><rect x="209.20" y="143.23" width="4.74" height="2.32" fill="#78b0d3"/><rect x="213.94" y="143.23" width="4.74" height="2.32" fill="#74add1"/><rect x="218.68" y="143.23" width="4.74" height="2.32" fill="#6da5cd"/><rect x="223.42" y="143.23" width="4.74" height="2.32" fill="#fdbf71"/><rect x="228.16" y="143.23" width="4.74" height="2.32" fill="#fdbc6e"/><rect x="232.89" y="143.23" width="4.74" height="2.32" fill="#fecf80"/><rect x="237.63" y="143.23" width="4.74" height="2.32" fill="#fdac60"/><rect x="242.37" y="143.23" width="4.74" height="2.32" fill="#fdb96b"/><rect x="247.11" y="143.23" width="4.74" height="2.32" fill="#fecc7d"/><rect x="251.85" y="143.23" width="4.74" height="2.32" fill="#eff9dd"/><rect x="256.59" y="143.23" width="4.74" height="2.32" fill="#e5f5ef"/><rect x="261.33" y="143.23" width="4.74" height="2.32" fill="#eaf7e6"/><rect x="266.07" y="143.23" width="4.74" height="2.32" fill="#fee597"/><rect x="270.81" y="143.23" width="4.74" height="2.32" fill="#fdbf71"/><rect x="275.54" y="143.23" width="4.74" height="2.32" fill="#fffdbc"/><rect x="280.28" y="143.23" width="4.74" height="2.32" fill="#fdb567"/><rect x="285.02" y="143.23" width="4.74" height="2.32" fill="#fdaf62"/><rect x="289.76" y="143.23" width="4.74" height="2.32" fill="#fdb467"/><rect x="209.20" y="145.55" width="4.74" height="2.32" fill="#669dc9"/><rect x="213.94" y="145.55" width="4.74" height="2.32" fill="#689ec9"/><rect x="218.68" y="145.55" width="4.74" height="2.32" fill="#6ca3cc"/><rect x="223.42" y="145.55" width="4.74" height="2.32" fill="#fed788"/><rect x="228.16" y="145.55" width="4.74" height="2.32" fill="#fcaa5f"/><rect x="232.89" y="145.55" width="4.74" height="2.32" fill="#fed585"/><rect x="237.63" y="145.55" width="4.74" height="2.32" fill="#fdb164"/><rect x="242.37" y="145.55" width="4.74" height="2.32" fill="#fca45d"/><rect x="247.11" y="145.55" width="4.74" height="2.32" fill="#feca7b"/><rect x="251.85" y="145.55" width="4.74" height="2.32" fill="#e7f6ec"/><rect x="256.59" y="145.55" width="4.74" height="2.32" fill="#e6f5ed"/><rect x="261.33" y="145.55" width="4.74" height="2.32" fill="#fff8b5"/><rect x="266.07" y="145.55" width="4.74" height="2.32" fill="#feea9e"/><rect x="270.81" y="145.55" width="4.74" height="2.32" fill="#f5fbd1"/><rect x="275.54" y="145.55" width="4.74" height="2.32" fill="#fedd8d"/><rect x="280.28" y="145.55" width="4.74" height="2.32" fill="#fca95f"/><rect x="285.02" y="145.55" width="4.74" height="2.32" fill="#fee191"/><rect x="289.76" y="145.55" width="4.74" height="2.32" fill="#feeca2"/><rect x="209.20" y="147.87" width="4.74" height="2.32" fill="#76afd2"/><rect x="213.94" y="147.87" width="4.74" height="2.32" fill="#588bbf"/><rect x="218.68" y="147.87" width="4.74" height="2.32" fill="#85bbd9"/><rect x="223.42" y="147.87" width="4.74" height="2.32" fill="#fa9756"/><rect x="228.16" y="147.87" width="4.74" height="2.32" fill="#fede8e"/><rect x="232.89" y="147.87" width="4.74" height="2.32" fill="#fa9a58"/><rect x="237.63" y="147.87" width="4.74" height="2.32" fill="#fba25b"/><rect x="242.37" y="147.87" width="4.74" height="2.32" fill="#fdb063"/><rect x="247.11" y="147.87" width="4.74" height="2.32" fill="#fdbd6f"/><rect x="251.85" y="147.87" width="4.74" height="2.32" fill="#fbfdc7"/><rect x="256.59" y="147.87" width="4.74" height="2.32" fill="#e6f5ec"/><rect x="261.33" y="147.87" width="4.74" height="2.32" fill="#f7fcce"/><rect x="266.07" y="147.87" width="4.74" height="2.32" fill="#fee89c"/><rect x="270.81" y="147.87" width="4.74" height="2.32" fill="#feeba1"/><rect x="275.54" y="147.87" width="4.74" height="2.32" fill="#fedb8b"/><rect x="280.28" y="147.87" width="4.74" height="2.32" fill="#fb9e5a"/><rect x="285.02" y="147.87" width="4.74" height="2.32" fill="#fba05a"/><rect x="289.76" y="147.87" width="4.74" height="2.32" fill="#fca95f"/><rect x="209.20" y="150.19" width="4.74" height="2.32" fill="#5c91c2"/><rect x="213.94" y="150.19" width="4.74" height="2.32" fill="#6fa7ce"/><rect x="218.68" y="150.19" width="4.74" height="2.32" fill="#70a9cf"/><rect x="223.42" y="150.19" width="4.74" height="2.32" fill="#fca55d"/><rect x="228.16" y="150.19" width="4.74" height="2.32" fill="#fee497"/><rect x="232.89" y="150.19" width="4.74" height="2.32" fill="#fdc476"/><rect x="237.63" y="150.19" width="4.74" height="2.32" fill="#fdbf71"/><rect x="242.37" y="150.19" width="4.74" height="2.32" fill="#fdb568"/><rect x="247.11" y="150.19" width="4.74" height="2.32" fill="#f88c51"/><rect x="251.85" y="150.19" width="4.74" height="2.32" fill="#f0f9db"/><rect x="256.59" y="150.19" width="4.74" height="2.32" fill="#eaf7e6"/><rect x="261.33" y="150.19" width="4.74" height="2.32" fill="#f3fad5"/><rect x="266.07" y="150.19" width="4.74" height="2.32" fill="#fedc8d"/><rect x="270.81" y="150.19" width="4.74" height="2.32" fill="#feeea6"/><rect x="275.54" y="150.19" width="4.74" height="2.32" fill="#fed081"/><rect x="280.28" y="150.19" width="4.74" height="2.32" fill="#fed182"/><rect x="285.02" y="150.19" width="4.74" height="2.32" fill="#fba35c"/><rect x="289.76" y="150.19" width="4.74" height="2.32" fill="#fdae61"/><rect x="209.20" y="152.51" width="4.74" height="2.32" fill="#7fb6d6"/><rect x="213.94" y="152.51" width="4.74" height="2.32" fill="#659bc8"/><rect x="218.68" y="152.51" width="4.74" height="2.32" fill="#6ea6cd"/><rect x="223.42" y="152.51" width="4.74" height="2.32" fill="#fdbe70"/><rect x="228.16" y="152.51" width="4.74" height="2.32" fill="#fece7f"/><rect x="232.89" y="152.51" width="4.74" height="2.32" fill="#fed182"/><rect x="237.63" y="152.51" width="4.74" height="2.32" fill="#fece7f"/><rect x="242.37" y="152.51" width="4.74" height="2.32" fill="#fdb063"/><rect x="247.11" y="152.51" width="4.74" height="2.32" fill="#fee89b"/><rect x="251.85" y="152.51" width="4.74" height="2.32" fill="#cdeaf3"/><rect x="256.59" y="152.51" width="4.74" height="2.32" fill="#e7f6ec"/><rect x="261.33" y="152.51" width="4.74" height="2.32" fill="#fbfec6"/><rect x="266.07" y="152.51" width="4.74" height="2.32" fill="#fff3ad"/><rect x="270.81" y="152.51" width="4.74" height="2.32" fill="#fede8e"/><rect x="275.54" y="152.51" width="4.74" height="2.32" fill="#fff2ac"/><rect x="280.28" y="152.51" width="4.74" height="2.32" fill="#fecb7c"/><rect x="285.02" y="152.51" width="4.74" height="2.32" fill="#fede8e"/><rect x="289.76" y="152.51" width="4.74" height="2.32" fill="#fdbe70"/><rect x="209.20" y="154.83" width="4.74" height="2.32" fill="#6fa7ce"/><rect x="213.94" y="154.83" width="4.74" height="2.32" fill="#6095c5"/><rect x="218.68" y="154.83" width="4.74" height="2.32" fill="#76afd2"/><rect x="223.42" y="154.83" width="4.74" height="2.32" fill="#fed585"/><rect x="228.16" y="154.83" width="4.74" height="2.32" fill="#fed081"/><rect x="232.89" y="154.83" width="4.74" height="2.32" fill="#fca75e"/><rect x="237.63" y="154.83" width="4.74" height="2.32" fill="#fdb164"/><rect x="242.37" y="154.83" width="4.74" height="2.32" fill="#fca65d"/><rect x="247.11" y="154.83" width="4.74" height="2.32" fill="#fdb467"/><rect x="251.85" y="154.83" width="4.74" height="2.32" fill="#eaf7e5"/><rect x="256.59" y="154.83" width="4.74" height="2.32" fill="#eff9dc"/><rect x="261.33" y="154.83" width="4.74" height="2.32" fill="#e7f6ec"/><rect x="266.07" y="154.83" width="4.74" height="2.32" fill="#fedb8b"/><rect x="270.81" y="154.83" width="4.74" height="2.32" fill="#ffffbf"/><rect x="275.54" y="154.83" width="4.74" height="2.32" fill="#f5fbd1"/><rect x="280.28" y="154.83" width="4.74" height="2.32" fill="#fec97b"/><rect x="285.02" y="154.83" width="4.74" height="2.32" fill="#fca95f"/><rect x="289.76" y="154.83" width="4.74" height="2.32" fill="#fdc476"/><rect x="209.20" y="157.15" width="4.74" height="2.32" fill="#77b0d3"/><rect x="213.94" y="157.15" width="4.74" height="2.32" fill="#4575b4"/><rect x="218.68" y="157.15" width="4.74" height="2.32" fill="#4d7fb9"/><rect x="223.42" y="157.15" width="4.74" height="2.32" fill="#fed98a"/><rect x="228.16" y="157.15" width="4.74" height="2.32" fill="#fedd8d"/><rect x="232.89" y="157.15" width="4.74" height="2.32" fill="#fee699"/><rect x="237.63" y="157.15" width="4.74" height="2.32" fill="#fff8b4"/><rect x="242.37" y="157.15" width="4.74" height="2.32" fill="#fed787"/><rect x="247.11" y="157.15" width="4.74" height="2.32" fill="#feefa7"/><rect x="251.85" y="157.15" width="4.74" height="2.32" fill="#c0e3ef"/><rect x="256.59" y="157.15" width="4.74" height="2.32" fill="#d2ecf4"/><rect x="261.33" y="157.15" width="4.74" height="2.32" fill="#bce1ee"/><rect x="266.07" y="157.15" width="4.74" height="2.32" fill="#cfebf3"/><rect x="270.81" y="157.15" width="4.74" height="2.32" fill="#e6f5ee"/><rect x="275.54" y="157.15" width="4.74" height="2.32" fill="#fafdc8"/><rect x="280.28" y="157.15" width="4.74" height="2.32" fill="#fed586"/><rect x="285.02" y="157.15" width="4.74" height="2.32" fill="#fff5b0"/><rect x="289.76" y="157.15" width="4.74" height="2.32" fill="#fee192"/><rect x="209.20" y="159.47" width="4.74" height="2.32" fill="#72abd0"/><rect x="213.94" y="159.47" width="4.74" height="2.32" fill="#69a0ca"/><rect x="218.68" y="159.47" width="4.74" height="2.32" fill="#669cc8"/><rect x="223.42" y="159.47" width="4.74" height="2.32" fill="#fed080"/><rect x="228.16" y="159.47" width="4.74" height="2.32" fill="#fdc173"/><rect x="232.89" y="159.47" width="4.74" height="2.32" fill="#fdbc6e"/><rect x="237.63" y="159.47" width="4.74" height="2.32" fill="#fec97b"/><rect x="242.37" y="159.47" width="4.74" height="2.32" fill="#fecc7d"/><rect x="247.11" y="159.47" width="4.74" height="2.32" fill="#fca65d"/><rect x="251.85" y="159.47" width="4.74" height="2.32" fill="#def2f7"/><rect x="256.59" y="159.47" width="4.74" height="2.32" fill="#d0ebf3"/><rect x="261.33" y="159.47" width="4.74" height="2.32" fill="#eaf7e5"/><rect x="266.07" y="159.47" width="4.74" height="2.32" fill="#f3fad5"/><rect x="270.81" y="159.47" width="4.74" height="2.32" fill="#f6fbd0"/><rect x="275.54" y="159.47" width="4.74" height="2.32" fill="#fee99e"/><rect x="280.28" y="159.47" width="4.74" height="2.32" fill="#fec879"/><rect x="285.02" y="159.47" width="4.74" height="2.32" fill="#fdba6c"/><rect x="289.76" y="159.47" width="4.74" height="2.32" fill="#fdba6c"/><rect x="209.20" y="161.79" width="4.74" height="2.32" fill="#6298c6"/><rect x="213.94" y="161.79" width="4.74" height="2.32" fill="#568abf"/><rect x="218.68" y="161.79" width="4.74" height="2.32" fill="#5e93c4"/><rect x="223.42" y="161.79" width="4.74" height="2.32" fill="#fed081"/><rect x="228.16" y="161.79" width="4.74" height="2.32" fill="#fed686"/><rect x="232.89" y="161.79" width="4.74" height="2.32" fill="#feea9f"/><rect x="237.63" y="161.79" width="4.74" height="2.32" fill="#fecc7d"/><rect x="242.37" y="161.79" width="4.74" height="2.32" fill="#fed182"/><rect x="247.11" y="161.79" width="4.74" height="2.32" fill="#fec779"/><rect x="251.85" y="161.79" width="4.74" height="2.32" fill="#bfe3ef"/><rect x="256.59" y="161.79" width="4.74" height="2.32" fill="#d7eff6"/><rect x="261.33" y="161.79" width="4.74" height="2.32" fill="#d0ebf3"/><rect x="266.07" y="161.79" width="4.74" height="2.32" fill="#f7fcce"/><rect x="270.81" y="161.79" width="4.74" height="2.32" fill="#fafdc9"/><rect x="275.54" y="161.79" width="4.74" height="2.32" fill="#fafdc8"/><rect x="280.28" y="161.79" width="4.74" height="2.32" fill="#fee99e"/><rect x="285.02" y="161.79" width="4.74" height="2.32" fill="#fedd8d"/><rect x="289.76" y="161.79" width="4.74" height="2.32" fill="#fedb8b"/><rect x="209.20" y="164.11" width="4.74" height="2.32" fill="#d0ebf4"/><rect x="213.94" y="164.11" width="4.74" height="2.32" fill="#edf8e1"/><rect x="218.68" y="164.11" width="4.74" height="2.32" fill="#dff2f8"/><rect x="223.42" y="164.11" width="4.74" height="2.32" fill="#fdc173"/><rect x="228.16" y="164.11" width="4.74" height="2.32" fill="#fdc375"/><rect x="232.89" y="164.11" width="4.74" height="2.32" fill="#fee090"/><rect x="237.63" y="164.11" width="4.74" height="2.32" fill="#fecd7e"/><rect x="242.37" y="164.11" width="4.74" height="2.32" fill="#fdbc6e"/><rect x="247.11" y="164.11" width="4.74" height="2.32" fill="#fee497"/><rect x="251.85" y="164.11" width="4.74" height="2.32" fill="#afdbea"/><rect x="256.59" y="164.11" width="4.74" height="2.32" fill="#a3d2e5"/><rect x="261.33" y="164.11" width="4.74" height="2.32" fill="#9ecee3"/><rect x="266.07" y="164.11" width="4.74" height="2.32" fill="#fffbb8"/><rect x="270.81" y="164.11" width="4.74" height="2.32" fill="#fff4ae"/><rect x="275.54" y="164.11" width="4.74" height="2.32" fill="#feffc1"/><rect x="280.28" y="164.11" width="4.74" height="2.32" fill="#feea9f"/><rect x="285.02" y="164.11" width="4.74" height="2.32" fill="#fee99e"/><rect x="289.76" y="164.11" width="4.74" height="2.32" fill="#fee99e"/><rect x="209.20" y="166.43" width="4.74" height="2.32" fill="#d3edf4"/><rect x="213.94" y="166.43" width="4.74" height="2.32" fill="#b5deec"/><rect x="218.68" y="166.43" width="4.74" height="2.32" fill="#c9e8f2"/><rect x="223.42" y="166.43" width="4.74" height="2.32" fill="#fecd7e"/><rect x="228.16" y="166.43" width="4.74" height="2.32" fill="#fedb8b"/><rect x="232.89" y="166.43" width="4.74" height="2.32" fill="#fdab5f"/><rect x="237.63" y="166.43" width="4.74" height="2.32" fill="#fee192"/><rect x="242.37" y="166.43" width="4.74" height="2.32" fill="#fedc8c"/><rect x="247.11" y="166.43" width="4.74" height="2.32" fill="#fee79a"/><rect x="251.85" y="166.43" width="4.74" height="2.32" fill="#90c3dd"/><rect x="256.59" y="166.43" width="4.74" height="2.32" fill="#76afd2"/><rect x="261.33" y="166.43" width="4.74" height="2.32" fill="#95c7df"/><rect x="266.07" y="166.43" width="4.74" height="2.32" fill="#f5fbd1"/><rect x="270.81" y="166.43" width="4.74" height="2.32" fill="#f3fad5"/><rect x="275.54" y="166.43" width="4.74" height="2.32" fill="#fff7b2"/><rect x="280.28" y="166.43" width="4.74" height="2.32" fill="#feeaa0"/><rect x="285.02" y="166.43" width="4.74" height="2.32" fill="#fffebe"/><rect x="289.76" y="166.43" width="4.74" height="2.32" fill="#f6fccf"/><rect x="209.20" y="168.75" width="4.74" height="2.32" fill="#a7d6e7"/><rect x="213.94" y="168.75" width="4.74" height="2.32" fill="#c3e5f0"/><rect x="218.68" y="168.75" width="4.74" height="2.32" fill="#c6e6f1"/><rect x="223.42" y="168.75" width="4.74" height="2.32" fill="#fff2ab"/><rect x="228.16" y="168.75" width="4.74" height="2.32" fill="#fede8e"/><rect x="232.89" y="168.75" width="4.74" height="2.32" fill="#fecc7d"/><rect x="237.63" y="168.75" width="4.74" height="2.32" fill="#fff5af"/><rect x="242.37" y="168.75" width="4.74" height="2.32" fill="#fff2ab"/><rect x="247.11" y="168.75" width="4.74" height="2.32" fill="#fff7b3"/><rect x="251.85" y="168.75" width="4.74" height="2.32" fill="#8abfdb"/><rect x="256.59" y="168.75" width="4.74" height="2.32" fill="#689ec9"/><rect x="261.33" y="168.75" width="4.74" height="2.32" fill="#82b8d7"/><rect x="266.07" y="168.75" width="4.74" height="2.32" fill="#fcfec4"/><rect x="270.81" y="168.75" width="4.74" height="2.32" fill="#f3fbd4"/><rect x="275.54" y="168.75" width="4.74" height="2.32" fill="#fffab8"/><rect x="280.28" y="168.75" width="4.74" height="2.32" fill="#fff5b0"/><rect x="285.02" y="168.75" width="4.74" height="2.32" fill="#f7fccd"/><rect x="289.76" y="168.75" width="4.74" height="2.32" fill="#eff9dc"/><rect x="209.20" y="171.06" width="4.74" height="2.32" fill="#cde9f3"/><rect x="213.94" y="171.06" width="4.74" height="2.32" fill="#c1e4ef"/><rect x="218.68" y="171.06" width="4.74" height="2.32" fill="#c6e6f1"/><rect x="223.42" y="171.06" width="4.74" height="2.32" fill="#fee598"/><rect x="228.16" y="171.06" width="4.74" height="2.32" fill="#fdc173"/><rect x="232.89" y="171.06" width="4.74" height="2.32" fill="#fdc677"/><rect x="237.63" y="171.06" width="4.74" height="2.32" fill="#fed585"/><rect x="242.37" y="171.06" width="4.74" height="2.32" fill="#fff2ac"/><rect x="247.11" y="171.06" width="4.74" height="2.32" fill="#fdb366"/><rect x="251.85" y="171.06" width="4.74" height="2.32" fill="#99cbe1"/><rect x="256.59" y="171.06" width="4.74" height="2.32" fill="#7bb2d4"/><rect x="261.33" y="171.06" width="4.74" height="2.32" fill="#9bcce2"/><rect x="266.07" y="171.06" width="4.74" height="2.32" fill="#fbfdc6"/><rect x="270.81" y="171.06" width="4.74" height="2.32" fill="#f0f9db"/><rect x="275.54" y="171.06" width="4.74" height="2.32" fill="#f0f9da"/><rect x="280.28" y="171.06" width="4.74" height="2.32" fill="#feefa7"/><rect x="285.02" y="171.06" width="4.74" height="2.32" fill="#fff2ab"/><rect x="289.76" y="171.06" width="4.74" height="2.32" fill="#fff3ad"/><rect x="209.20" y="173.38" width="4.74" height="2.32" fill="#b9e0ed"/><rect x="213.94" y="173.38" width="4.74" height="2.32" fill="#d1ecf4"/><rect x="218.68" y="173.38" width="4.74" height="2.32" fill="#c7e7f1"/><rect x="223.42" y="173.38" width="4.74" height="2.32" fill="#fed182"/><rect x="228.16" y="173.38" width="4.74" height="2.32" fill="#fdc274"/><rect x="232.89" y="173.38" width="4.74" height="2.32" fill="#fdaf62"/><rect x="237.63" y="173.38" width="4.74" height="2.32" fill="#fee496"/><rect x="242.37" y="173.38" width="4.74" height="2.32" fill="#fec87a"/><rect x="247.11" y="173.38" width="4.74" height="2.32" fill="#fee699"/><rect x="251.85" y="173.38" width="4.74" height="2.32" fill="#a0d1e4"/><rect x="256.59" y="173.38" width="4.74" height="2.32" fill="#9dcee3"/><rect x="261.33" y="173.38" width="4.74" height="2.32" fill="#94c6df"/><rect x="266.07" y="173.38" width="4.74" height="2.32" fill="#fff6b2"/><rect x="270.81" y="173.38" width="4.74" height="2.32" fill="#f8fccc"/><rect x="275.54" y="173.38" width="4.74" height="2.32" fill="#ffffbf"/><rect x="280.28" y="173.38" width="4.74" height="2.32" fill="#fee192"/><rect x="285.02" y="173.38" width="4.74" height="2.32" fill="#fee496"/><rect x="289.76" y="173.38" width="4.74" height="2.32" fill="#feca7c"/><rect x="209.20" y="175.70" width="4.74" height="2.32" fill="#d6eef5"/><rect x="213.94" y="175.70" width="4.74" height="2.32" fill="#e0f3f8"/><rect x="218.68" y="175.70" width="4.74" height="2.32" fill="#e0f3f8"/><rect x="223.42" y="175.70" width="4.74" height="2.32" fill="#fff0a8"/><rect x="228.16" y="175.70" width="4.74" height="2.32" fill="#feeea6"/><rect x="232.89" y="175.70" width="4.74" height="2.32" fill="#feea9f"/><rect x="237.63" y="175.70" width="4.74" height="2.32" fill="#fdb264"/><rect x="242.37" y="175.70" width="4.74" height="2.32" fill="#feca7c"/><rect x="247.11" y="175.70" width="4.74" height="2.32" fill="#fed687"/><rect x="251.85" y="175.70" width="4.74" height="2.32" fill="#8ec1dc"/><rect x="256.59" y="175.70" width="4.74" height="2.32" fill="#6298c6"/><rect x="261.33" y="175.70" width="4.74" height="2.32" fill="#7bb3d4"/><rect x="266.07" y="175.70" width="4.74" height="2.32" fill="#f7fcce"/><rect x="270.81" y="175.70" width="4.74" height="2.32" fill="#fff8b5"/><rect x="275.54" y="175.70" width="4.74" height="2.32" fill="#dbf0f7"/><rect x="280.28" y="175.70" width="4.74" height="2.32" fill="#fafdc8"/><rect x="285.02" y="175.70" width="4.74" height="2.32" fill="#ecf8e2"/><rect x="289.76" y="175.70" width="4.74" height="2.32" fill="#fff2ab"/><rect x="209.20" y="178.02" width="4.74" height="2.32" fill="#e8f6ea"/><rect x="213.94" y="178.02" width="4.74" height="2.32" fill="#f7fcce"/><rect x="218.68" y="178.02" width="4.74" height="2.32" fill="#dbf1f7"/><rect x="223.42" y="178.02" width="4.74" height="2.32" fill="#fed485"/><rect x="228.16" y="178.02" width="4.74" height="2.32" fill="#fed484"/><rect x="232.89" y="178.02" width="4.74" height="2.32" fill="#fdc577"/><rect x="237.63" y="178.02" width="4.74" height="2.32" fill="#fdbf71"/><rect x="242.37" y="178.02" width="4.74" height="2.32" fill="#fedd8d"/><rect x="247.11" y="178.02" width="4.74" height="2.32" fill="#fca85e"/><rect x="251.85" y="178.02" width="4.74" height="2.32" fill="#87bcd9"/><rect x="256.59" y="178.02" width="4.74" height="2.32" fill="#90c3dd"/><rect x="261.33" y="178.02" width="4.74" height="2.32" fill="#92c5de"/><rect x="266.07" y="178.02" width="4.74" height="2.32" fill="#fed484"/><rect x="270.81" y="178.02" width="4.74" height="2.32" fill="#feefa7"/><rect x="275.54" y="178.02" width="4.74" height="2.32" fill="#fedd8d"/><rect x="280.28" y="178.02" width="4.74" height="2.32" fill="#fff1a9"/><rect x="285.02" y="178.02" width="4.74" height="2.32" fill="#f7fcce"/><rect x="289.76" y="178.02" width="4.74" height="2.32" fill="#feeba1"/><rect x="209.20" y="180.34" width="4.74" height="2.32" fill="#e3f4f2"/><rect x="213.94" y="180.34" width="4.74" height="2.32" fill="#d1ebf4"/><rect x="218.68" y="180.34" width="4.74" height="2.32" fill="#fee698"/><rect x="223.42" y="180.34" width="4.74" height="2.32" fill="#fdb567"/><rect x="228.16" y="180.34" width="4.74" height="2.32" fill="#fed484"/><rect x="232.89" y="180.34" width="4.74" height="2.32" fill="#fed384"/><rect x="237.63" y="180.34" width="4.74" height="2.32" fill="#fca85e"/><rect x="242.37" y="180.34" width="4.74" height="2.32" fill="#fdaf62"/><rect x="247.11" y="180.34" width="4.74" height="2.32" fill="#fed485"/><rect x="251.85" y="180.34" width="4.74" height="2.32" fill="#80b7d6"/><rect x="256.59" y="180.34" width="4.74" height="2.32" fill="#a3d2e5"/><rect x="261.33" y="180.34" width="4.74" height="2.32" fill="#abd9e9"/><rect x="266.07" y="180.34" width="4.74" height="2.32" fill="#fee191"/><rect x="270.81" y="180.34" width="4.74" height="2.32" fill="#fee496"/><rect x="275.54" y="180.34" width="4.74" height="2.32" fill="#fff1a9"/><rect x="280.28" y="180.34" width="4.74" height="2.32" fill="#fee699"/><rect x="285.02" y="180.34" width="4.74" height="2.32" fill="#fedc8d"/><rect x="289.76" y="180.34" width="4.74" height="2.32" fill="#feeca2"/><rect x="209.20" y="182.66" width="4.74" height="2.32" fill="#fff8b4"/><rect x="213.94" y="182.66" width="4.74" height="2.32" fill="#e7f6eb"/><rect x="218.68" y="182.66" width="4.74" height="2.32" fill="#fff8b5"/><rect x="223.42" y="182.66" width="4.74" height="2.32" fill="#fee192"/><rect x="228.16" y="182.66" width="4.74" height="2.32" fill="#fee395"/><rect x="232.89" y="182.66" width="4.74" height="2.32" fill="#fdb769"/><rect x="237.63" y="182.66" width="4.74" height="2.32" fill="#fed081"/><rect x="242.37" y="182.66" width="4.74" height="2.32" fill="#fdb668"/><rect x="247.11" y="182.66" width="4.74" height="2.32" fill="#fba15b"/><rect x="251.85" y="182.66" width="4.74" height="2.32" fill="#a2d2e5"/><rect x="256.59" y="182.66" width="4.74" height="2.32" fill="#96c8e0"/><rect x="261.33" y="182.66" width="4.74" height="2.32" fill="#8dc1dc"/><rect x="266.07" y="182.66" width="4.74" height="2.32" fill="#fee395"/><rect x="270.81" y="182.66" width="4.74" height="2.32" fill="#fee394"/><rect x="275.54" y="182.66" width="4.74" height="2.32" fill="#feeca2"/><rect x="280.28" y="182.66" width="4.74" height="2.32" fill="#fffcbb"/><rect x="285.02" y="182.66" width="4.74" height="2.32" fill="#fafdc7"/><rect x="289.76" y="182.66" width="4.74" height="2.32" fill="#feeea5"/><rect x="209.20" y="184.98" width="4.74" height="2.32" fill="#f5fbd1"/><rect x="213.94" y="184.98" width="4.74" height="2.32" fill="#e2f4f4"/><rect x="218.68" y="184.98" width="4.74" height="2.32" fill="#f6fccf"/><rect x="223.42" y="184.98" width="4.74" height="2.32" fill="#fff6b1"/><rect x="228.16" y="184.98" width="4.74" height="2.32" fill="#fffdbc"/><rect x="232.89" y="184.98" width="4.74" height="2.32" fill="#fed485"/><rect x="237.63" y="184.98" width="4.74" height="2.32" fill="#fedb8c"/><rect x="242.37" y="184.98" width="4.74" height="2.32" fill="#fee294"/><rect x="247.11" y="184.98" width="4.74" height="2.32" fill="#fed687"/><rect x="251.85" y="184.98" width="4.74" height="2.32" fill="#a6d5e7"/><rect x="256.59" y="184.98" width="4.74" height="2.32" fill="#b6deec"/><rect x="261.33" y="184.98" width="4.74" height="2.32" fill="#a4d3e6"/><rect x="266.07" y="184.98" width="4.74" height="2.32" fill="#f7814c"/><rect x="270.81" y="184.98" width="4.74" height="2.32" fill="#f99053"/><rect x="275.54" y="184.98" width="4.74" height="2.32" fill="#f7864e"/><rect x="280.28" y="184.98" width="4.74" height="2.32" fill="#fff2ab"/><rect x="285.02" y="184.98" width="4.74" height="2.32" fill="#feeba1"/><rect x="289.76" y="184.98" width="4.74" height="2.32" fill="#f2fad7"/><rect x="209.20" y="187.30" width="4.74" height="2.32" fill="#72aad0"/><rect x="213.94" y="187.30" width="4.74" height="2.32" fill="#669cc8"/><rect x="218.68" y="187.30" width="4.74" height="2.32" fill="#72aad0"/><rect x="223.42" y="187.30" width="4.74" height="2.32" fill="#fee89d"/><rect x="228.16" y="187.30" width="4.74" height="2.32" fill="#fee99e"/><rect x="232.89" y="187.30" width="4.74" height="2.32" fill="#fed081"/><rect x="237.63" y="187.30" width="4.74" height="2.32" fill="#feeaa0"/><rect x="242.37" y="187.30" width="4.74" height="2.32" fill="#fee395"/><rect x="247.11" y="187.30" width="4.74" height="2.32" fill="#fdc476"/><rect x="251.85" y="187.30" width="4.74" height="2.32" fill="#d6eef5"/><rect x="256.59" y="187.30" width="4.74" height="2.32" fill="#d2ecf4"/><rect x="261.33" y="187.30" width="4.74" height="2.32" fill="#d9f0f6"/><rect x="266.07" y="187.30" width="4.74" height="2.32" fill="#fffcba"/><rect x="270.81" y="187.30" width="4.74" height="2.32" fill="#fff4ae"/><rect x="275.54" y="187.30" width="4.74" height="2.32" fill="#fff1aa"/><rect x="280.28" y="187.30" width="4.74" height="2.32" fill="#fffbb9"/><rect x="285.02" y="187.30" width="4.74" height="2.32" fill="#fdfec2"/><rect x="289.76" y="187.30" width="4.74" height="2.32" fill="#fff1a9"/><rect x="209.20" y="189.62" width="4.74" height="2.32" fill="#6096c5"/><rect x="213.94" y="189.62" width="4.74" height="2.32" fill="#70a8ce"/><rect x="218.68" y="189.62" width="4.74" height="2.32" fill="#6aa1cb"/><rect x="223.42" y="189.62" width="4.74" height="2.32" fill="#f3fad5"/><rect x="228.16" y="189.62" width="4.74" height="2.32" fill="#ecf8e2"/><rect x="232.89" y="189.62" width="4.74" height="2.32" fill="#f3fad5"/><rect x="237.63" y="189.62" width="4.74" height="2.32" fill="#f7fcce"/><rect x="242.37" y="189.62" width="4.74" height="2.32" fill="#fee99d"/><rect x="247.11" y="189.62" width="4.74" height="2.32" fill="#fee699"/><rect x="251.85" y="189.62" width="4.74" height="2.32" fill="#d9f0f6"/><rect x="256.59" y="189.62" width="4.74" height="2.32" fill="#d9f0f6"/><rect x="261.33" y="189.62" width="4.74" height="2.32" fill="#cae8f2"/><rect x="266.07" y="189.62" width="4.74" height="2.32" fill="#fffcba"/><rect x="270.81" y="189.62" width="4.74" height="2.32" fill="#fffebd"/><rect x="275.54" y="189.62" width="4.74" height="2.32" fill="#fffebd"/><rect x="280.28" y="189.62" width="4.74" height="2.32" fill="#fbfec6"/><rect x="285.02" y="189.62" width="4.74" height="2.32" fill="#f2fad7"/><rect x="289.76" y="189.62" width="4.74" height="2.32" fill="#fff7b3"/><rect x="209.20" y="191.94" width="4.74" height="2.32" fill="#689fca"/><rect x="213.94" y="191.94" width="4.74" height="2.32" fill="#74add1"/><rect x="218.68" y="191.94" width="4.74" height="2.32" fill="#77afd2"/><rect x="223.42" y="191.94" width="4.74" height="2.32" fill="#fee79a"/><rect x="228.16" y="191.94" width="4.74" height="2.32" fill="#f6fcd0"/><rect x="232.89" y="191.94" width="4.74" height="2.32" fill="#fbfdc7"/><rect x="237.63" y="191.94" width="4.74" height="2.32" fill="#fff8b4"/><rect x="242.37" y="191.94" width="4.74" height="2.32" fill="#fff6b1"/><rect x="247.11" y="191.94" width="4.74" height="2.32" fill="#fff4ae"/><rect x="251.85" y="191.94" width="4.74" height="2.32" fill="#f1fad8"/><rect x="256.59" y="191.94" width="4.74" height="2.32" fill="#ceeaf3"/><rect x="261.33" y="191.94" width="4.74" height="2.32" fill="#fff8b5"/><rect x="266.07" y="191.94" width="4.74" height="2.32" fill="#feeea5"/><rect x="270.81" y="191.94" width="4.74" height="2.32" fill="#fee79b"/><rect x="275.54" y="191.94" width="4.74" height="2.32" fill="#fff2ac"/><rect x="280.28" y="191.94" width="4.74" height="2.32" fill="#fee292"/><rect x="285.02" y="191.94" width="4.74" height="2.32" fill="#fee99d"/><rect x="289.76" y="191.94" width="4.74" height="2.32" fill="#fee294"/><rect x="209.20" y="194.26" width="4.74" height="2.32" fill="#83b9d7"/><rect x="213.94" y="194.26" width="4.74" height="2.32" fill="#7fb6d6"/><rect x="218.68" y="194.26" width="4.74" height="2.32" fill="#8abfdb"/><rect x="223.42" y="194.26" width="4.74" height="2.32" fill="#feeca3"/><rect x="228.16" y="194.26" width="4.74" height="2.32" fill="#fff4af"/><rect x="232.89" y="194.26" width="4.74" height="2.32" fill="#fed384"/><rect x="237.63" y="194.26" width="4.74" height="2.32" fill="#fee99e"/><rect x="242.37" y="194.26" width="4.74" height="2.32" fill="#fedc8c"/><rect x="247.11" y="194.26" width="4.74" height="2.32" fill="#fdbd70"/><rect x="251.85" y="194.26" width="4.74" height="2.32" fill="#daf0f6"/><rect x="256.59" y="194.26" width="4.74" height="2.32" fill="#e1f3f7"/><rect x="261.33" y="194.26" width="4.74" height="2.32" fill="#d9f0f6"/><rect x="266.07" y="194.26" width="4.74" height="2.32" fill="#fffebd"/><rect x="270.81" y="194.26" width="4.74" height="2.32" fill="#fee69a"/><rect x="275.54" y="194.26" width="4.74" height="2.32" fill="#fff3ad"/><rect x="280.28" y="194.26" width="4.74" height="2.32" fill="#feeba0"/><rect x="285.02" y="194.26" width="4.74" height="2.32" fill="#f8fccc"/><rect x="289.76" y="194.26" width="4.74" height="2.32" fill="#fee598"/><rect x="209.20" y="196.58" width="4.74" height="2.32" fill="#5588be"/><rect x="213.94" y="196.58" width="4.74" height="2.32" fill="#659bc8"/><rect x="218.68" y="196.58" width="4.74" height="2.32" fill="#598dc1"/><rect x="223.42" y="196.58" width="4.74" height="2.32" fill="#fee090"/><rect x="228.16" y="196.58" width="4.74" height="2.32" fill="#ecf8e1"/><rect x="232.89" y="196.58" width="4.74" height="2.32" fill="#fff3ac"/><rect x="237.63" y="196.58" width="4.74" height="2.32" fill="#fffcba"/><rect x="242.37" y="196.58" width="4.74" height="2.32" fill="#fff9b5"/><rect x="247.11" y="196.58" width="4.74" height="2.32" fill="#ffffc0"/><rect x="251.85" y="196.58" width="4.74" height="2.32" fill="#eef8df"/><rect x="256.59" y="196.58" width="4.74" height="2.32" fill="#c4e5f0"/><rect x="261.33" y="196.58" width="4.74" height="2.32" fill="#cdeaf3"/><rect x="266.07" y="196.58" width="4.74" height="2.32" fill="#fff7b3"/><rect x="270.81" y="196.58" width="4.74" height="2.32" fill="#feffc1"/><rect x="275.54" y="196.58" width="4.74" height="2.32" fill="#fff0a9"/><rect x="280.28" y="196.58" width="4.74" height="2.32" fill="#fcfec5"/><rect x="285.02" y="196.58" width="4.74" height="2.32" fill="#eef8df"/><rect x="289.76" y="196.58" width="4.74" height="2.32" fill="#fff0a9"/><rect x="209.20" y="198.90" width="4.74" height="2.32" fill="#86bcd9"/><rect x="213.94" y="198.90" width="4.74" height="2.32" fill="#72aad0"/><rect x="218.68" y="198.90" width="4.74" height="2.32" fill="#90c4dd"/><rect x="223.42" y="198.90" width="4.74" height="2.32" fill="#fedb8c"/><rect x="228.16" y="198.90" width="4.74" height="2.32" fill="#feeda4"/><rect x="232.89" y="198.90" width="4.74" height="2.32" fill="#fee192"/><rect x="237.63" y="198.90" width="4.74" height="2.32" fill="#fedd8d"/><rect x="242.37" y="198.90" width="4.74" height="2.32" fill="#fedb8b"/><rect x="247.11" y="198.90" width="4.74" height="2.32" fill="#fed182"/><rect x="251.85" y="198.90" width="4.74" height="2.32" fill="#f9fdca"/><rect x="256.59" y="198.90" width="4.74" height="2.32" fill="#ecf8e2"/><rect x="261.33" y="198.90" width="4.74" height="2.32" fill="#ecf8e2"/><rect x="266.07" y="198.90" width="4.74" height="2.32" fill="#edf8e1"/><rect x="270.81" y="198.90" width="4.74" height="2.32" fill="#fff7b3"/><rect x="275.54" y="198.90" width="4.74" height="2.32" fill="#fee497"/><rect x="280.28" y="198.90" width="4.74" height="2.32" fill="#fff3ad"/><rect x="285.02" y="198.90" width="4.74" height="2.32" fill="#fee293"/><rect x="289.76" y="198.90" width="4.74" height="2.32" fill="#feeba0"/><rect x="209.20" y="201.22" width="4.74" height="2.32" fill="#f99455"/><rect x="213.94" y="201.22" width="4.74" height="2.32" fill="#f67c4a"/><rect x="218.68" y="201.22" width="4.74" height="2.32" fill="#f88c51"/><rect x="223.42" y="201.22" width="4.74" height="2.32" fill="#c7e7f1"/><rect x="228.16" y="201.22" width="4.74" height="2.32" fill="#b0dcea"/><rect x="232.89" y="201.22" width="4.74" height="2.32" fill="#cdeaf3"/><rect x="237.63" y="201.22" width="4.74" height="2.32" fill="#aad8e8"/><rect x="242.37" y="201.22" width="4.74" height="2.32" fill="#d5edf5"/><rect x="247.11" y="201.22" width="4.74" height="2.32" fill="#b0dceb"/><rect x="251.85" y="201.22" width="4.74" height="2.32" fill="#feda8a"/><rect x="256.59" y="201.22" width="4.74" height="2.32" fill="#fed182"/><rect x="261.33" y="201.22" width="4.74" height="2.32" fill="#fee090"/><rect x="266.07" y="201.22" width="4.74" height="2.32" fill="#feeda3"/><rect x="270.81" y="201.22" width="4.74" height="2.32" fill="#feefa7"/><rect x="275.54" y="201.22" width="4.74" height="2.32" fill="#fffebd"/><rect x="280.28" y="201.22" width="4.74" height="2.32" fill="#ceeaf3"/><rect x="285.02" y="201.22" width="4.74" height="2.32" fill="#f7fcce"/><rect x="289.76" y="201.22" width="4.74" height="2.32" fill="#ecf8e2"/><rect x="209.20" y="203.54" width="4.74" height="2.32" fill="#f88b51"/><rect x="213.94" y="203.54" width="4.74" height="2.32" fill="#f57346"/><rect x="218.68" y="203.54" width="4.74" height="2.32" fill="#fa9857"/><rect x="223.42" y="203.54" width="4.74" height="2.32" fill="#c6e6f1"/><rect x="228.16" y="203.54" width="4.74" height="2.32" fill="#c9e8f1"/><rect x="232.89" y="203.54" width="4.74" height="2.32" fill="#b7dfed"/><rect x="237.63" y="203.54" width="4.74" height="2.32" fill="#b2dceb"/><rect x="242.37" y="203.54" width="4.74" height="2.32" fill="#e4f5f0"/><rect x="247.11" y="203.54" width="4.74" height="2.32" fill="#c5e6f0"/><rect x="251.85" y="203.54" width="4.74" height="2.32" fill="#feda8a"/><rect x="256.59" y="203.54" width="4.74" height="2.32" fill="#fece7f"/><rect x="261.33" y="203.54" width="4.74" height="2.32" fill="#fed283"/><rect x="266.07" y="203.54" width="4.74" height="2.32" fill="#fff6b2"/><rect x="270.81" y="203.54" width="4.74" height="2.32" fill="#fff1aa"/><rect x="275.54" y="203.54" width="4.74" height="2.32" fill="#f8fccd"/><rect x="280.28" y="203.54" width="4.74" height="2.32" fill="#bbe1ee"/><rect x="285.02" y="203.54" width="4.74" height="2.32" fill="#d9f0f6"/><rect x="289.76" y="203.54" width="4.74" height="2.32" fill="#d9eff6"/><rect x="209.20" y="205.86" width="4.74" height="2.32" fill="#fca55d"/><rect x="213.94" y="205.86" width="4.74" height="2.32" fill="#fdae61"/><rect x="218.68" y="205.86" width="4.74" height="2.32" fill="#fb9f5a"/><rect x="223.42" y="205.86" width="4.74" height="2.32" fill="#b6deec"/><rect x="228.16" y="205.86" width="4.74" height="2.32" fill="#cfeaf3"/><rect x="232.89" y="205.86" width="4.74" height="2.32" fill="#d4edf5"/><rect x="237.63" y="205.86" width="4.74" height="2.32" fill="#bde2ee"/><rect x="242.37" y="205.86" width="4.74" height="2.32" fill="#b1dceb"/><rect x="247.11" y="205.86" width="4.74" height="2.32" fill="#c1e4ef"/><rect x="251.85" y="205.86" width="4.74" height="2.32" fill="#fecd7f"/><rect x="256.59" y="205.86" width="4.74" height="2.32" fill="#fed283"/><rect x="261.33" y="205.86" width="4.74" height="2.32" fill="#fecd7e"/><rect x="266.07" y="205.86" width="4.74" height="2.32" fill="#fafdc8"/><rect x="270.81" y="205.86" width="4.74" height="2.32" fill="#fff2ac"/><rect x="275.54" y="205.86" width="4.74" height="2.32" fill="#fff6b1"/><rect x="280.28" y="205.86" width="4.74" height="2.32" fill="#d3edf4"/><rect x="285.02" y="205.86" width="4.74" height="2.32" fill="#c8e7f1"/><rect x="289.76" y="205.86" width="4.74" height="2.32" fill="#c4e5f0"/><rect x="209.20" y="208.18" width="4.74" height="2.32" fill="#fa9a58"/><rect x="213.94" y="208.18" width="4.74" height="2.32" fill="#fca55d"/><rect x="218.68" y="208.18" width="4.74" height="2.32" fill="#f46f44"/><rect x="223.42" y="208.18" width="4.74" height="2.32" fill="#e2f4f5"/><rect x="228.16" y="208.18" width="4.74" height="2.32" fill="#bee2ee"/><rect x="232.89" y="208.18" width="4.74" height="2.32" fill="#e5f5ef"/><rect x="237.63" y="208.18" width="4.74" height="2.32" fill="#9fd0e4"/><rect x="242.37" y="208.18" width="4.74" height="2.32" fill="#ceeaf3"/><rect x="247.11" y="208.18" width="4.74" height="2.32" fill="#d0ebf3"/><rect x="251.85" y="208.18" width="4.74" height="2.32" fill="#fdc577"/><rect x="256.59" y="208.18" width="4.74" height="2.32" fill="#fecd7e"/><rect x="261.33" y="208.18" width="4.74" height="2.32" fill="#fdbc6e"/><rect x="266.07" y="208.18" width="4.74" height="2.32" fill="#fee89c"/><rect x="270.81" y="208.18" width="4.74" height="2.32" fill="#feffc1"/><rect x="275.54" y="208.18" width="4.74" height="2.32" fill="#fffab8"/><rect x="280.28" y="208.18" width="4.74" height="2.32" fill="#eef9de"/><rect x="285.02" y="208.18" width="4.74" height="2.32" fill="#eaf7e5"/><rect x="289.76" y="208.18" width="4.74" height="2.32" fill="#c8e7f1"/><rect x="209.20" y="210.50" width="4.74" height="2.32" fill="#fb9d59"/><rect x="213.94" y="210.50" width="4.74" height="2.32" fill="#fdb568"/><rect x="218.68" y="210.50" width="4.74" height="2.32" fill="#fdb366"/><rect x="223.42" y="210.50" width="4.74" height="2.32" fill="#addaea"/><rect x="228.16" y="210.50" width="4.74" height="2.32" fill="#bbe1ee"/><rect x="232.89" y="210.50" width="4.74" height="2.32" fill="#96c8e0"/><rect x="237.63" y="210.50" width="4.74" height="2.32" fill="#bde2ee"/><rect x="242.37" y="210.50" width="4.74" height="2.32" fill="#a8d7e8"/><rect x="247.11" y="210.50" width="4.74" height="2.32" fill="#bfe3ef"/><rect x="251.85" y="210.50" width="4.74" height="2.32" fill="#feeea5"/><rect x="256.59" y="210.50" width="4.74" height="2.32" fill="#feea9f"/><rect x="261.33" y="210.50" width="4.74" height="2.32" fill="#fed485"/><rect x="266.07" y="210.50" width="4.74" height="2.32" fill="#fff2ab"/><rect x="270.81" y="210.50" width="4.74" height="2.32" fill="#fdfec2"/><rect x="275.54" y="210.50" width="4.74" height="2.32" fill="#f9fdcb"/><rect x="280.28" y="210.50" width="4.74" height="2.32" fill="#e1f4f5"/><rect x="285.02" y="210.50" width="4.74" height="2.32" fill="#ddf2f7"/><rect x="289.76" y="210.50" width="4.74" height="2.32" fill="#ceeaf3"/><rect x="209.20" y="212.82" width="4.74" height="2.32" fill="#f7804c"/><rect x="213.94" y="212.82" width="4.74" height="2.32" fill="#f88b51"/><rect x="218.68" y="212.82" width="4.74" height="2.32" fill="#fba05a"/><rect x="223.42" y="212.82" width="4.74" height="2.32" fill="#dff3f8"/><rect x="228.16" y="212.82" width="4.74" height="2.32" fill="#d8eff6"/><rect x="232.89" y="212.82" width="4.74" height="2.32" fill="#c8e7f1"/><rect x="237.63" y="212.82" width="4.74" height="2.32" fill="#c4e5f0"/><rect x="242.37" y="212.82" width="4.74" height="2.32" fill="#c9e8f2"/><rect x="247.11" y="212.82" width="4.74" height="2.32" fill="#b2ddeb"/><rect x="251.85" y="212.82" width="4.74" height="2.32" fill="#fee597"/><rect x="256.59" y="212.82" width="4.74" height="2.32" fill="#fdbc6e"/><rect x="261.33" y="212.82" width="4.74" height="2.32" fill="#feeba1"/><rect x="266.07" y="212.82" width="4.74" height="2.32" fill="#f0f9da"/><rect x="270.81" y="212.82" width="4.74" height="2.32" fill="#f2fad7"/><rect x="275.54" y="212.82" width="4.74" height="2.32" fill="#feefa6"/><rect x="280.28" y="212.82" width="4.74" height="2.32" fill="#e8f6ea"/><rect x="285.02" y="212.82" width="4.74" height="2.32" fill="#c9e8f2"/><rect x="289.76" y="212.82" width="4.74" height="2.32" fill="#ecf8e2"/><rect x="209.20" y="215.14" width="4.74" height="2.32" fill="#f36a42"/><rect x="213.94" y="215.14" width="4.74" height="2.32" fill="#fb9e59"/><rect x="218.68" y="215.14" width="4.74" height="2.32" fill="#f36b42"/><rect x="223.42" y="215.14" width="4.74" height="2.32" fill="#fdfec2"/><rect x="228.16" y="215.14" width="4.74" height="2.32" fill="#c6e6f1"/><rect x="232.89" y="215.14" width="4.74" height="2.32" fill="#b9e0ed"/><rect x="237.63" y="215.14" width="4.74" height="2.32" fill="#e5f5ee"/><rect x="242.37" y="215.14" width="4.74" height="2.32" fill="#d8eff6"/><rect x="247.11" y="215.14" width="4.74" height="2.32" fill="#cdeaf3"/><rect x="251.85" y="215.14" width="4.74" height="2.32" fill="#fdc072"/><rect x="256.59" y="215.14" width="4.74" height="2.32" fill="#fedd8d"/><rect x="261.33" y="215.14" width="4.74" height="2.32" fill="#fece7f"/><rect x="266.07" y="215.14" width="4.74" height="2.32" fill="#fee497"/><rect x="270.81" y="215.14" width="4.74" height="2.32" fill="#fee090"/><rect x="275.54" y="215.14" width="4.74" height="2.32" fill="#fed889"/><rect x="280.28" y="215.14" width="4.74" height="2.32" fill="#f7fcce"/><rect x="285.02" y="215.14" width="4.74" height="2.32" fill="#e0f3f8"/><rect x="289.76" y="215.14" width="4.74" height="2.32" fill="#e6f5ec"/><rect x="209.20" y="217.46" width="4.74" height="2.32" fill="#fba15b"/><rect x="213.94" y="217.46" width="4.74" height="2.32" fill="#f67d4a"/><rect x="218.68" y="217.46" width="4.74" height="2.32" fill="#fa9757"/><rect x="223.42" y="217.46" width="4.74" height="2.32" fill="#d9eff6"/><rect x="228.16" y="217.46" width="4.74" height="2.32" fill="#f4fbd3"/><rect x="232.89" y="217.46" width="4.74" height="2.32" fill="#dcf1f7"/><rect x="237.63" y="217.46" width="4.74" height="2.32" fill="#c4e5f0"/><rect x="242.37" y="217.46" width="4.74" height="2.32" fill="#bfe3ef"/><rect x="247.11" y="217.46" width="4.74" height="2.32" fill="#b2dceb"/><rect x="251.85" y="217.46" width="4.74" height="2.32" fill="#fdc173"/><rect x="256.59" y="217.46" width="4.74" height="2.32" fill="#fee79b"/><rect x="261.33" y="217.46" width="4.74" height="2.32" fill="#fdc274"/><rect x="266.07" y="217.46" width="4.74" height="2.32" fill="#fee79a"/><rect x="270.81" y="217.46" width="4.74" height="2.32" fill="#fff6b1"/><rect x="275.54" y="217.46" width="4.74" height="2.32" fill="#fff4af"/><rect x="280.28" y="217.46" width="4.74" height="2.32" fill="#f9fdca"/><rect x="285.02" y="217.46" width="4.74" height="2.32" fill="#fafdc8"/><rect x="289.76" y="217.46" width="4.74" height="2.32" fill="#fff8b4"/><rect x="209.20" y="219.78" width="4.74" height="2.32" fill="#f7834d"/><rect x="213.94" y="219.78" width="4.74" height="2.32" fill="#f98e52"/><rect x="218.68" y="219.78" width="4.74" height="2.32" fill="#f57245"/><rect x="223.42" y="219.78" width="4.74" height="2.32" fill="#dff2f8"/><rect x="228.16" y="219.78" width="4.74" height="2.32" fill="#d5eef5"/><rect x="232.89" y="219.78" width="4.74" height="2.32" fill="#f1fad8"/><rect x="237.63" y="219.78" width="4.74" height="2.32" fill="#c6e6f1"/><rect x="242.37" y="219.78" width="4.74" height="2.32" fill="#cde9f2"/><rect x="247.11" y="219.78" width="4.74" height="2.32" fill="#def2f7"/><rect x="251.85" y="219.78" width="4.74" height="2.32" fill="#fdbb6d"/><rect x="256.59" y="219.78" width="4.74" height="2.32" fill="#fdc274"/><rect x="261.33" y="219.78" width="4.74" height="2.32" fill="#fdb164"/><rect x="266.07" y="219.78" width="4.74" height="2.32" fill="#fdbc6e"/><rect x="270.81" y="219.78" width="4.74" height="2.32" fill="#fff0a8"/><rect x="275.54" y="219.78" width="4.74" height="2.32" fill="#fee191"/><rect x="280.28" y="219.78" width="4.74" height="2.32" fill="#eaf7e5"/><rect x="285.02" y="219.78" width="4.74" height="2.32" fill="#e6f5ed"/><rect x="289.76" y="219.78" width="4.74" height="2.32" fill="#ffffbf"/><rect x="209.20" y="222.10" width="4.74" height="2.32" fill="#f57547"/><rect x="213.94" y="222.10" width="4.74" height="2.32" fill="#fcaa5f"/><rect x="218.68" y="222.10" width="4.74" height="2.32" fill="#f99455"/><rect x="223.42" y="222.10" width="4.74" height="2.32" fill="#b6dfec"/><rect x="228.16" y="222.10" width="4.74" height="2.32" fill="#cce9f2"/><rect x="232.89" y="222.10" width="4.74" height="2.32" fill="#d2ecf4"/><rect x="237.63" y="222.10" width="4.74" height="2.32" fill="#c7e7f1"/><rect x="242.37" y="222.10" width="4.74" height="2.32" fill="#c1e4ef"/><rect x="247.11" y="222.10" width="4.74" height="2.32" fill="#b8dfed"/><rect x="251.85" y="222.10" width="4.74" height="2.32" fill="#fee496"/><rect x="256.59" y="222.10" width="4.74" height="2.32" fill="#fdc072"/><rect x="261.33" y="222.10" width="4.74" height="2.32" fill="#fecf80"/><rect x="266.07" y="222.10" width="4.74" height="2.32" fill="#fee496"/><rect x="270.81" y="222.10" width="4.74" height="2.32" fill="#eff9dc"/><rect x="275.54" y="222.10" width="4.74" height="2.32" fill="#fff8b5"/><rect x="280.28" y="222.10" width="4.74" height="2.32" fill="#b7dfed"/><rect x="285.02" y="222.10" width="4.74" height="2.32" fill="#eaf7e5"/><rect x="289.76" y="222.10" width="4.74" height="2.32" fill="#cae8f2"/><rect x="209.20" y="224.42" width="4.74" height="2.32" fill="#f99053"/><rect x="213.94" y="224.42" width="4.74" height="2.32" fill="#fba35c"/><rect x="218.68" y="224.42" width="4.74" height="2.32" fill="#fb9c59"/><rect x="223.42" y="224.42" width="4.74" height="2.32" fill="#bae0ed"/><rect x="228.16" y="224.42" width="4.74" height="2.32" fill="#d1ebf4"/><rect x="232.89" y="224.42" width="4.74" height="2.32" fill="#c1e4ef"/><rect x="237.63" y="224.42" width="4.74" height="2.32" fill="#b8dfed"/><rect x="242.37" y="224.42" width="4.74" height="2.32" fill="#b3ddeb"/><rect x="247.11" y="224.42" width="4.74" height="2.32" fill="#c5e6f0"/><rect x="251.85" y="224.42" width="4.74" height="2.32" fill="#fdc576"/><rect x="256.59" y="224.42" width="4.74" height="2.32" fill="#fedf8f"/><rect x="261.33" y="224.42" width="4.74" height="2.32" fill="#fec97b"/><rect x="266.07" y="224.42" width="4.74" height="2.32" fill="#eaf7e6"/><rect x="270.81" y="224.42" width="4.74" height="2.32" fill="#f5fbd1"/><rect x="275.54" y="224.42" width="4.74" height="2.32" fill="#f9fdc9"/><rect x="280.28" y="224.42" width="4.74" height="2.32" fill="#c0e3ef"/><rect x="285.02" y="224.42" width="4.74" height="2.32" fill="#d7eff6"/><rect x="289.76" y="224.42" width="4.74" height="2.32" fill="#b4ddeb"/><rect x="209.20" y="226.74" width="4.74" height="2.32" fill="#fba35c"/><rect x="213.94" y="226.74" width="4.74" height="2.32" fill="#fdb769"/><rect x="218.68" y="226.74" width="4.74" height="2.32" fill="#fca65d"/><rect x="223.42" y="226.74" width="4.74" height="2.32" fill="#b8dfed"/><rect x="228.16" y="226.74" width="4.74" height="2.32" fill="#aad8e9"/><rect x="232.89" y="226.74" width="4.74" height="2.32" fill="#afdbea"/><rect x="237.63" y="226.74" width="4.74" height="2.32" fill="#bee2ee"/><rect x="242.37" y="226.74" width="4.74" height="2.32" fill="#aedaea"/><rect x="247.11" y="226.74" width="4.74" height="2.32" fill="#afdbea"/><rect x="251.85" y="226.74" width="4.74" height="2.32" fill="#fed283"/><rect x="256.59" y="226.74" width="4.74" height="2.32" fill="#fee99d"/><rect x="261.33" y="226.74" width="4.74" height="2.32" fill="#fff0a8"/><rect x="266.07" y="226.74" width="4.74" height="2.32" fill="#f7fccd"/><rect x="270.81" y="226.74" width="4.74" height="2.32" fill="#fee99d"/><rect x="275.54" y="226.74" width="4.74" height="2.32" fill="#fff8b4"/><rect x="280.28" y="226.74" width="4.74" height="2.32" fill="#f0f9db"/><rect x="285.02" y="226.74" width="4.74" height="2.32" fill="#dbf0f6"/><rect x="289.76" y="226.74" width="4.74" height="2.32" fill="#d9f0f6"/><rect x="209.20" y="229.05" width="4.74" height="2.32" fill="#fdba6d"/><rect x="213.94" y="229.05" width="4.74" height="2.32" fill="#fdc374"/><rect x="218.68" y="229.05" width="4.74" height="2.32" fill="#fa9957"/><rect x="223.42" y="229.05" width="4.74" height="2.32" fill="#acdae9"/><rect x="228.16" y="229.05" width="4.74" height="2.32" fill="#abd9e9"/><rect x="232.89" y="229.05" width="4.74" height="2.32" fill="#cce9f2"/><rect x="237.63" y="229.05" width="4.74" height="2.32" fill="#bee2ee"/><rect x="242.37" y="229.05" width="4.74" height="2.32" fill="#a2d2e5"/><rect x="247.11" y="229.05" width="4.74" height="2.32" fill="#bde2ee"/><rect x="251.85" y="229.05" width="4.74" height="2.32" fill="#fdbb6d"/><rect x="256.59" y="229.05" width="4.74" height="2.32" fill="#fdc375"/><rect x="261.33" y="229.05" width="4.74" height="2.32" fill="#fee090"/><rect x="266.07" y="229.05" width="4.74" height="2.32" fill="#feeaa0"/><rect x="270.81" y="229.05" width="4.74" height="2.32" fill="#e6f5ed"/><rect x="275.54" y="229.05" width="4.74" height="2.32" fill="#fffcbb"/><rect x="280.28" y="229.05" width="4.74" height="2.32" fill="#cae8f2"/><rect x="285.02" y="229.05" width="4.74" height="2.32" fill="#e9f6e8"/><rect x="289.76" y="229.05" width="4.74" height="2.32" fill="#bce1ee"/><rect x="209.20" y="231.37" width="4.74" height="2.32" fill="#fba25c"/><rect x="213.94" y="231.37" width="4.74" height="2.32" fill="#f88d52"/><rect x="218.68" y="231.37" width="4.74" height="2.32" fill="#fdb669"/><rect x="223.42" y="231.37" width="4.74" height="2.32" fill="#d3ecf4"/><rect x="228.16" y="231.37" width="4.74" height="2.32" fill="#c7e7f1"/><rect x="232.89" y="231.37" width="4.74" height="2.32" fill="#c5e6f0"/><rect x="237.63" y="231.37" width="4.74" height="2.32" fill="#9ecfe3"/><rect x="242.37" y="231.37" width="4.74" height="2.32" fill="#bbe1ee"/><rect x="247.11" y="231.37" width="4.74" height="2.32" fill="#b6dfec"/><rect x="251.85" y="231.37" width="4.74" height="2.32" fill="#f99355"/><rect x="256.59" y="231.37" width="4.74" height="2.32" fill="#fa9857"/><rect x="261.33" y="231.37" width="4.74" height="2.32" fill="#fb9e5a"/><rect x="266.07" y="231.37" width="4.74" height="2.32" fill="#f0f9da"/><rect x="270.81" y="231.37" width="4.74" height="2.32" fill="#ffffc0"/><rect x="275.54" y="231.37" width="4.74" height="2.32" fill="#fff4ae"/><rect x="280.28" y="231.37" width="4.74" height="2.32" fill="#d5eef5"/><rect x="285.02" y="231.37" width="4.74" height="2.32" fill="#dcf1f7"/><rect x="289.76" y="231.37" width="4.74" height="2.32" fill="#e2f4f4"/><rect x="209.20" y="233.69" width="4.74" height="2.32" fill="#f99354"/><rect x="213.94" y="233.69" width="4.74" height="2.32" fill="#fba15b"/><rect x="218.68" y="233.69" width="4.74" height="2.32" fill="#f57547"/><rect x="223.42" y="233.69" width="4.74" height="2.32" fill="#d8eff6"/><rect x="228.16" y="233.69" width="4.74" height="2.32" fill="#d8eff6"/><rect x="232.89" y="233.69" width="4.74" height="2.32" fill="#ddf1f7"/><rect x="237.63" y="233.69" width="4.74" height="2.32" fill="#d0ebf3"/><rect x="242.37" y="233.69" width="4.74" height="2.32" fill="#d1ecf4"/><rect x="247.11" y="233.69" width="4.74" height="2.32" fill="#b3ddeb"/><rect x="251.85" y="233.69" width="4.74" height="2.32" fill="#f98f53"/><rect x="256.59" y="233.69" width="4.74" height="2.32" fill="#f57748"/><rect x="261.33" y="233.69" width="4.74" height="2.32" fill="#fa9a58"/><rect x="266.07" y="233.69" width="4.74" height="2.32" fill="#fff4af"/><rect x="270.81" y="233.69" width="4.74" height="2.32" fill="#fcfec4"/><rect x="275.54" y="233.69" width="4.74" height="2.32" fill="#f2fad6"/><rect x="280.28" y="233.69" width="4.74" height="2.32" fill="#c7e7f1"/><rect x="285.02" y="233.69" width="4.74" height="2.32" fill="#e2f4f4"/><rect x="289.76" y="233.69" width="4.74" height="2.32" fill="#e5f5ef"/><rect x="209.20" y="236.01" width="4.74" height="2.32" fill="#fdb265"/><rect x="213.94" y="236.01" width="4.74" height="2.32" fill="#fdb164"/><rect x="218.68" y="236.01" width="4.74" height="2.32" fill="#fec97a"/><rect x="223.42" y="236.01" width="4.74" height="2.32" fill="#bce1ee"/><rect x="228.16" y="236.01" width="4.74" height="2.32" fill="#aedbea"/><rect x="232.89" y="236.01" width="4.74" height="2.32" fill="#d7eef5"/><rect x="237.63" y="236.01" width="4.74" height="2.32" fill="#95c7df"/><rect x="242.37" y="236.01" width="4.74" height="2.32" fill="#b6dfec"/><rect x="247.11" y="236.01" width="4.74" height="2.32" fill="#92c5de"/><rect x="251.85" y="236.01" width="4.74" height="2.32" fill="#fdc072"/><rect x="256.59" y="236.01" width="4.74" height="2.32" fill="#f99154"/><rect x="261.33" y="236.01" width="4.74" height="2.32" fill="#fdbb6d"/><rect x="266.07" y="236.01" width="4.74" height="2.32" fill="#e9f6e8"/><rect x="270.81" y="236.01" width="4.74" height="2.32" fill="#d5edf5"/><rect x="275.54" y="236.01" width="4.74" height="2.32" fill="#f3fad6"/><rect x="280.28" y="236.01" width="4.74" height="2.32" fill="#dcf1f7"/><rect x="285.02" y="236.01" width="4.74" height="2.32" fill="#bce1ee"/><rect x="289.76" y="236.01" width="4.74" height="2.32" fill="#bde2ee"/><rect x="209.20" y="238.33" width="4.74" height="2.32" fill="#fba15b"/><rect x="213.94" y="238.33" width="4.74" height="2.32" fill="#fdab60"/><rect x="218.68" y="238.33" width="4.74" height="2.32" fill="#f99153"/><rect x="223.42" y="238.33" width="4.74" height="2.32" fill="#d2ecf4"/><rect x="228.16" y="238.33" width="4.74" height="2.32" fill="#b7dfec"/><rect x="232.89" y="238.33" width="4.74" height="2.32" fill="#aad9e9"/><rect x="237.63" y="238.33" width="4.74" height="2.32" fill="#c6e6f1"/><rect x="242.37" y="238.33" width="4.74" height="2.32" fill="#a6d5e7"/><rect x="247.11" y="238.33" width="4.74" height="2.32" fill="#c6e6f1"/><rect x="251.85" y="238.33" width="4.74" height="2.32" fill="#f7804c"/><rect x="256.59" y="238.33" width="4.74" height="2.32" fill="#f99354"/><rect x="261.33" y="238.33" width="4.74" height="2.32" fill="#fb9d59"/><rect x="266.07" y="238.33" width="4.74" height="2.32" fill="#ddf2f7"/><rect x="270.81" y="238.33" width="4.74" height="2.32" fill="#fee192"/><rect x="275.54" y="238.33" width="4.74" height="2.32" fill="#feeba0"/><rect x="280.28" y="238.33" width="4.74" height="2.32" fill="#ceeaf3"/><rect x="285.02" y="238.33" width="4.74" height="2.32" fill="#c8e7f1"/><rect x="289.76" y="238.33" width="4.74" height="2.32" fill="#e5f5ef"/><rect x="209.20" y="240.65" width="4.74" height="2.32" fill="#fdc173"/><rect x="213.94" y="240.65" width="4.74" height="2.32" fill="#fdbd6f"/><rect x="218.68" y="240.65" width="4.74" height="2.32" fill="#fee294"/><rect x="223.42" y="240.65" width="4.74" height="2.32" fill="#b8dfed"/><rect x="228.16" y="240.65" width="4.74" height="2.32" fill="#ecf8e2"/><rect x="232.89" y="240.65" width="4.74" height="2.32" fill="#c3e5f0"/><rect x="237.63" y="240.65" width="4.74" height="2.32" fill="#b4deec"/><rect x="242.37" y="240.65" width="4.74" height="2.32" fill="#abd9e9"/><rect x="247.11" y="240.65" width="4.74" height="2.32" fill="#90c4dd"/><rect x="251.85" y="240.65" width="4.74" height="2.32" fill="#f98f53"/><rect x="256.59" y="240.65" width="4.74" height="2.32" fill="#f7834d"/><rect x="261.33" y="240.65" width="4.74" height="2.32" fill="#fdae61"/><rect x="266.07" y="240.65" width="4.74" height="2.32" fill="#def2f8"/><rect x="270.81" y="240.65" width="4.74" height="2.32" fill="#fff8b5"/><rect x="275.54" y="240.65" width="4.74" height="2.32" fill="#d3ecf4"/><rect x="280.28" y="240.65" width="4.74" height="2.32" fill="#c2e4ef"/><rect x="285.02" y="240.65" width="4.74" height="2.32" fill="#aedaea"/><rect x="289.76" y="240.65" width="4.74" height="2.32" fill="#aad8e9"/><rect x="209.20" y="242.97" width="4.74" height="2.32" fill="#feeda4"/><rect x="213.94" y="242.97" width="4.74" height="2.32" fill="#fed686"/><rect x="218.68" y="242.97" width="4.74" height="2.32" fill="#fdc071"/><rect x="223.42" y="242.97" width="4.74" height="2.32" fill="#cce9f2"/><rect x="228.16" y="242.97" width="4.74" height="2.32" fill="#c5e6f0"/><rect x="232.89" y="242.97" width="4.74" height="2.32" fill="#fffbb9"/><rect x="237.63" y="242.97" width="4.74" height="2.32" fill="#ceeaf3"/><rect x="242.37" y="242.97" width="4.74" height="2.32" fill="#b6deec"/><rect x="247.11" y="242.97" width="4.74" height="2.32" fill="#d4edf5"/><rect x="251.85" y="242.97" width="4.74" height="2.32" fill="#f8874f"/><rect x="256.59" y="242.97" width="4.74" height="2.32" fill="#f99153"/><rect x="261.33" y="242.97" width="4.74" height="2.32" fill="#f7854e"/><rect x="266.07" y="242.97" width="4.74" height="2.32" fill="#f4fbd4"/><rect x="270.81" y="242.97" width="4.74" height="2.32" fill="#f0f9da"/><rect x="275.54" y="242.97" width="4.74" height="2.32" fill="#fee99e"/><rect x="280.28" y="242.97" width="4.74" height="2.32" fill="#d7eff5"/><rect x="285.02" y="242.97" width="4.74" height="2.32" fill="#f0f9db"/><rect x="289.76" y="242.97" width="4.74" height="2.32" fill="#b0dbea"/><rect x="209.20" y="245.29" width="4.74" height="2.32" fill="#fed484"/><rect x="213.94" y="245.29" width="4.74" height="2.32" fill="#fdc173"/><rect x="218.68" y="245.29" width="4.74" height="2.32" fill="#fdc476"/><rect x="223.42" y="245.29" width="4.74" height="2.32" fill="#e8f6e9"/><rect x="228.16" y="245.29" width="4.74" height="2.32" fill="#e0f3f7"/><rect x="232.89" y="245.29" width="4.74" height="2.32" fill="#d7eef5"/><rect x="237.63" y="245.29" width="4.74" height="2.32" fill="#c6e6f1"/><rect x="242.37" y="245.29" width="4.74" height="2.32" fill="#cae8f2"/><rect x="247.11" y="245.29" width="4.74" height="2.32" fill="#c1e4ef"/><rect x="251.85" y="245.29" width="4.74" height="2.32" fill="#fdc577"/><rect x="256.59" y="245.29" width="4.74" height="2.32" fill="#fba15b"/><rect x="261.33" y="245.29" width="4.74" height="2.32" fill="#f88b51"/><rect x="266.07" y="245.29" width="4.74" height="2.32" fill="#f0f9da"/><rect x="270.81" y="245.29" width="4.74" height="2.32" fill="#fff2ab"/><rect x="275.54" y="245.29" width="4.74" height="2.32" fill="#eef9de"/><rect x="280.28" y="245.29" width="4.74" height="2.32" fill="#d3edf4"/><rect x="285.02" y="245.29" width="4.74" height="2.32" fill="#c3e5f0"/><rect x="289.76" y="245.29" width="4.74" height="2.32" fill="#d0ebf3"/><rect x="209.20" y="247.61" width="4.74" height="2.32" fill="#ed5e3c"/><rect x="213.94" y="247.61" width="4.74" height="2.32" fill="#f16841"/><rect x="218.68" y="247.61" width="4.74" height="2.32" fill="#f36b42"/><rect x="223.42" y="247.61" width="4.74" height="2.32" fill="#fffbb9"/><rect x="228.16" y="247.61" width="4.74" height="2.32" fill="#ecf8e2"/><rect x="232.89" y="247.61" width="4.74" height="2.32" fill="#fff4ae"/><rect x="237.63" y="247.61" width="4.74" height="2.32" fill="#c9e8f2"/><rect x="242.37" y="247.61" width="4.74" height="2.32" fill="#dbf0f7"/><rect x="247.11" y="247.61" width="4.74" height="2.32" fill="#d3edf4"/><rect x="251.85" y="247.61" width="4.74" height="2.32" fill="#fb9f5a"/><rect x="256.59" y="247.61" width="4.74" height="2.32" fill="#fdbb6e"/><rect x="261.33" y="247.61" width="4.74" height="2.32" fill="#fba05b"/><rect x="266.07" y="247.61" width="4.74" height="2.32" fill="#fafdc9"/><rect x="270.81" y="247.61" width="4.74" height="2.32" fill="#feeca2"/><rect x="275.54" y="247.61" width="4.74" height="2.32" fill="#f8fccc"/><rect x="280.28" y="247.61" width="4.74" height="2.32" fill="#e0f3f8"/><rect x="285.02" y="247.61" width="4.74" height="2.32" fill="#bfe3ef"/><rect x="289.76" y="247.61" width="4.74" height="2.32" fill="#f1fad9"/><rect x="209.20" y="249.93" width="4.74" height="2.32" fill="#fdaf62"/><rect x="213.94" y="249.93" width="4.74" height="2.32" fill="#f67a49"/><rect x="218.68" y="249.93" width="4.74" height="2.32" fill="#f67a49"/><rect x="223.42" y="249.93" width="4.74" height="2.32" fill="#f2fad6"/><rect x="228.16" y="249.93" width="4.74" height="2.32" fill="#fff2ac"/><rect x="232.89" y="249.93" width="4.74" height="2.32" fill="#f6fbd0"/><rect x="237.63" y="249.93" width="4.74" height="2.32" fill="#c8e7f1"/><rect x="242.37" y="249.93" width="4.74" height="2.32" fill="#d2ecf4"/><rect x="247.11" y="249.93" width="4.74" height="2.32" fill="#b5deec"/><rect x="251.85" y="249.93" width="4.74" height="2.32" fill="#fdb063"/><rect x="256.59" y="249.93" width="4.74" height="2.32" fill="#fec97b"/><rect x="261.33" y="249.93" width="4.74" height="2.32" fill="#fdb668"/><rect x="266.07" y="249.93" width="4.74" height="2.32" fill="#fffcbb"/><rect x="270.81" y="249.93" width="4.74" height="2.32" fill="#eaf7e6"/><rect x="275.54" y="249.93" width="4.74" height="2.32" fill="#e5f5ee"/><rect x="280.28" y="249.93" width="4.74" height="2.32" fill="#f4fbd3"/><rect x="285.02" y="249.93" width="4.74" height="2.32" fill="#d8eff6"/><rect x="289.76" y="249.93" width="4.74" height="2.32" fill="#eaf7e5"/><rect x="209.20" y="252.25" width="4.74" height="2.32" fill="#f57546"/><rect x="213.94" y="252.25" width="4.74" height="2.32" fill="#ef633e"/><rect x="218.68" y="252.25" width="4.74" height="2.32" fill="#f67e4b"/><rect x="223.42" y="252.25" width="4.74" height="2.32" fill="#e3f4f2"/><rect x="228.16" y="252.25" width="4.74" height="2.32" fill="#f9fdca"/><rect x="232.89" y="252.25" width="4.74" height="2.32" fill="#f3fad5"/><rect x="237.63" y="252.25" width="4.74" height="2.32" fill="#bbe1ee"/><rect x="242.37" y="252.25" width="4.74" height="2.32" fill="#c9e8f1"/><rect x="247.11" y="252.25" width="4.74" height="2.32" fill="#d8eff6"/><rect x="251.85" y="252.25" width="4.74" height="2.32" fill="#fdab60"/><rect x="256.59" y="252.25" width="4.74" height="2.32" fill="#fdb366"/><rect x="261.33" y="252.25" width="4.74" height="2.32" fill="#fdb769"/><rect x="266.07" y="252.25" width="4.74" height="2.32" fill="#f6fccf"/><rect x="270.81" y="252.25" width="4.74" height="2.32" fill="#eef8de"/><rect x="275.54" y="252.25" width="4.74" height="2.32" fill="#e7f6eb"/><rect x="280.28" y="252.25" width="4.74" height="2.32" fill="#dff3f8"/><rect x="285.02" y="252.25" width="4.74" height="2.32" fill="#ecf8e1"/><rect x="289.76" y="252.25" width="4.74" height="2.32" fill="#d0ebf3"/><rect x="209.20" y="254.57" width="4.74" height="2.32" fill="#f57647"/><rect x="213.94" y="254.57" width="4.74" height="2.32" fill="#fa9756"/><rect x="218.68" y="254.57" width="4.74" height="2.32" fill="#f67c4a"/><rect x="223.42" y="254.57" width="4.74" height="2.32" fill="#fbfdc7"/><rect x="228.16" y="254.57" width="4.74" height="2.32" fill="#fff6b2"/><rect x="232.89" y="254.57" width="4.74" height="2.32" fill="#e9f7e7"/><rect x="237.63" y="254.57" width="4.74" height="2.32" fill="#c2e4f0"/><rect x="242.37" y="254.57" width="4.74" height="2.32" fill="#e7f6eb"/><rect x="247.11" y="254.57" width="4.74" height="2.32" fill="#eff9dc"/><rect x="251.85" y="254.57" width="4.74" height="2.32" fill="#fdaf62"/><rect x="256.59" y="254.57" width="4.74" height="2.32" fill="#fba05a"/><rect x="261.33" y="254.57" width="4.74" height="2.32" fill="#fdc576"/><rect x="266.07" y="254.57" width="4.74" height="2.32" fill="#fffdbd"/><rect x="270.81" y="254.57" width="4.74" height="2.32" fill="#f5fbd1"/><rect x="275.54" y="254.57" width="4.74" height="2.32" fill="#fcfec5"/><rect x="280.28" y="254.57" width="4.74" height="2.32" fill="#c1e4ef"/><rect x="285.02" y="254.57" width="4.74" height="2.32" fill="#dbf1f7"/><rect x="289.76" y="254.57" width="4.74" height="2.32" fill="#e5f5f0"/><rect x="209.20" y="256.89" width="4.74" height="2.32" fill="#f46e43"/><rect x="213.94" y="256.89" width="4.74" height="2.32" fill="#f46e44"/><rect x="218.68" y="256.89" width="4.74" height="2.32" fill="#f0653f"/><rect x="223.42" y="256.89" width="4.74" height="2.32" fill="#fee394"/><rect x="228.16" y="256.89" width="4.74" height="2.32" fill="#ebf7e3"/><rect x="232.89" y="256.89" width="4.74" height="2.32" fill="#e4f4f1"/><rect x="237.63" y="256.89" width="4.74" height="2.32" fill="#d8eff6"/><rect x="242.37" y="256.89" width="4.74" height="2.32" fill="#f3fad6"/><rect x="247.11" y="256.89" width="4.74" height="2.32" fill="#f6fbd0"/><rect x="251.85" y="256.89" width="4.74" height="2.32" fill="#fba05a"/><rect x="256.59" y="256.89" width="4.74" height="2.32" fill="#fdbf71"/><rect x="261.33" y="256.89" width="4.74" height="2.32" fill="#fba35c"/><rect x="266.07" y="256.89" width="4.74" height="2.32" fill="#f1f9da"/><rect x="270.81" y="256.89" width="4.74" height="2.32" fill="#fff6b2"/><rect x="275.54" y="256.89" width="4.74" height="2.32" fill="#f8fccc"/><rect x="280.28" y="256.89" width="4.74" height="2.32" fill="#ffffbe"/><rect x="285.02" y="256.89" width="4.74" height="2.32" fill="#d2ecf4"/><rect x="289.76" y="256.89" width="4.74" height="2.32" fill="#fcfec5"/><rect x="209.20" y="259.21" width="4.74" height="2.32" fill="#f67d4a"/><rect x="213.94" y="259.21" width="4.74" height="2.32" fill="#f7844e"/><rect x="218.68" y="259.21" width="4.74" height="2.32" fill="#fca45d"/><rect x="223.42" y="259.21" width="4.74" height="2.32" fill="#d0ebf4"/><rect x="228.16" y="259.21" width="4.74" height="2.32" fill="#eff9dc"/><rect x="232.89" y="259.21" width="4.74" height="2.32" fill="#edf8e0"/><rect x="237.63" y="259.21" width="4.74" height="2.32" fill="#b9e0ed"/><rect x="242.37" y="259.21" width="4.74" height="2.32" fill="#d2ecf4"/><rect x="247.11" y="259.21" width="4.74" height="2.32" fill="#cae8f2"/><rect x="251.85" y="259.21" width="4.74" height="2.32" fill="#fdb568"/><rect x="256.59" y="259.21" width="4.74" height="2.32" fill="#fed383"/><rect x="261.33" y="259.21" width="4.74" height="2.32" fill="#fdc374"/><rect x="266.07" y="259.21" width="4.74" height="2.32" fill="#e8f6ea"/><rect x="270.81" y="259.21" width="4.74" height="2.32" fill="#fbfdc6"/><rect x="275.54" y="259.21" width="4.74" height="2.32" fill="#ffffbf"/><rect x="280.28" y="259.21" width="4.74" height="2.32" fill="#c8e7f1"/><rect x="285.02" y="259.21" width="4.74" height="2.32" fill="#d1ecf4"/><rect x="289.76" y="259.21" width="4.74" height="2.32" fill="#a5d4e6"/><rect x="209.20" y="261.53" width="4.74" height="2.32" fill="#f16640"/><rect x="213.94" y="261.53" width="4.74" height="2.32" fill="#f0643f"/><rect x="218.68" y="261.53" width="4.74" height="2.32" fill="#f16740"/><rect x="223.42" y="261.53" width="4.74" height="2.32" fill="#fff7b3"/><rect x="228.16" y="261.53" width="4.74" height="2.32" fill="#eef8df"/><rect x="232.89" y="261.53" width="4.74" height="2.32" fill="#fbfec5"/><rect x="237.63" y="261.53" width="4.74" height="2.32" fill="#d1ecf4"/><rect x="242.37" y="261.53" width="4.74" height="2.32" fill="#dcf1f7"/><rect x="247.11" y="261.53" width="4.74" height="2.32" fill="#cbe9f2"/><rect x="251.85" y="261.53" width="4.74" height="2.32" fill="#fba05b"/><rect x="256.59" y="261.53" width="4.74" height="2.32" fill="#fa9857"/><rect x="261.33" y="261.53" width="4.74" height="2.32" fill="#fba15b"/><rect x="266.07" y="261.53" width="4.74" height="2.32" fill="#fff9b6"/><rect x="270.81" y="261.53" width="4.74" height="2.32" fill="#fed788"/><rect x="275.54" y="261.53" width="4.74" height="2.32" fill="#f6fbd0"/><rect x="280.28" y="261.53" width="4.74" height="2.32" fill="#e1f3f6"/><rect x="285.02" y="261.53" width="4.74" height="2.32" fill="#f9fdc9"/><rect x="289.76" y="261.53" width="4.74" height="2.32" fill="#e6f5ee"/><rect x="209.20" y="263.85" width="4.74" height="2.32" fill="#f7824d"/><rect x="213.94" y="263.85" width="4.74" height="2.32" fill="#f57547"/><rect x="218.68" y="263.85" width="4.74" height="2.32" fill="#e95638"/><rect x="223.42" y="263.85" width="4.74" height="2.32" fill="#e5f5ee"/><rect x="228.16" y="263.85" width="4.74" height="2.32" fill="#feefa6"/><rect x="232.89" y="263.85" width="4.74" height="2.32" fill="#fffab7"/><rect x="237.63" y="263.85" width="4.74" height="2.32" fill="#ddf1f7"/><rect x="242.37" y="263.85" width="4.74" height="2.32" fill="#f1f9d9"/><rect x="247.11" y="263.85" width="4.74" height="2.32" fill="#cdeaf3"/><rect x="251.85" y="263.85" width="4.74" height="2.32" fill="#f57647"/><rect x="256.59" y="263.85" width="4.74" height="2.32" fill="#f88d52"/><rect x="261.33" y="263.85" width="4.74" height="2.32" fill="#f26a41"/><rect x="266.07" y="263.85" width="4.74" height="2.32" fill="#e4f5f1"/><rect x="270.81" y="263.85" width="4.74" height="2.32" fill="#f7fccd"/><rect x="275.54" y="263.85" width="4.74" height="2.32" fill="#f0f9db"/><rect x="280.28" y="263.85" width="4.74" height="2.32" fill="#d1ecf4"/><rect x="285.02" y="263.85" width="4.74" height="2.32" fill="#f6fbd0"/><rect x="289.76" y="263.85" width="4.74" height="2.32" fill="#def2f7"/><rect x="209.20" y="266.17" width="4.74" height="2.32" fill="#fdb062"/><rect x="213.94" y="266.17" width="4.74" height="2.32" fill="#fa9656"/><rect x="218.68" y="266.17" width="4.74" height="2.32" fill="#fa9555"/><rect x="223.42" y="266.17" width="4.74" height="2.32" fill="#fcfec5"/><rect x="228.16" y="266.17" width="4.74" height="2.32" fill="#daf0f6"/><rect x="232.89" y="266.17" width="4.74" height="2.32" fill="#fbfec6"/><rect x="237.63" y="266.17" width="4.74" height="2.32" fill="#dff2f8"/><rect x="242.37" y="266.17" width="4.74" height="2.32" fill="#ceeaf3"/><rect x="247.11" y="266.17" width="4.74" height="2.32" fill="#cfebf3"/><rect x="251.85" y="266.17" width="4.74" height="2.32" fill="#fa9756"/><rect x="256.59" y="266.17" width="4.74" height="2.32" fill="#fba15b"/><rect x="261.33" y="266.17" width="4.74" height="2.32" fill="#f99053"/><rect x="266.07" y="266.17" width="4.74" height="2.32" fill="#f1fad8"/><rect x="270.81" y="266.17" width="4.74" height="2.32" fill="#fff8b5"/><rect x="275.54" y="266.17" width="4.74" height="2.32" fill="#f1fad9"/><rect x="280.28" y="266.17" width="4.74" height="2.32" fill="#cce9f2"/><rect x="285.02" y="266.17" width="4.74" height="2.32" fill="#e8f6e9"/><rect x="289.76" y="266.17" width="4.74" height="2.32" fill="#c6e6f1"/><rect x="209.20" y="268.49" width="4.74" height="2.32" fill="#fba35c"/><rect x="213.94" y="268.49" width="4.74" height="2.32" fill="#fdac60"/><rect x="218.68" y="268.49" width="4.74" height="2.32" fill="#f99254"/><rect x="223.42" y="268.49" width="4.74" height="2.32" fill="#dcf1f7"/><rect x="228.16" y="268.49" width="4.74" height="2.32" fill="#c5e6f0"/><rect x="232.89" y="268.49" width="4.74" height="2.32" fill="#cfebf3"/><rect x="237.63" y="268.49" width="4.74" height="2.32" fill="#a8d7e8"/><rect x="242.37" y="268.49" width="4.74" height="2.32" fill="#d8eff6"/><rect x="247.11" y="268.49" width="4.74" height="2.32" fill="#9ccde3"/><rect x="251.85" y="268.49" width="4.74" height="2.32" fill="#fdbf71"/><rect x="256.59" y="268.49" width="4.74" height="2.32" fill="#f99455"/><rect x="261.33" y="268.49" width="4.74" height="2.32" fill="#f98f53"/><rect x="266.07" y="268.49" width="4.74" height="2.32" fill="#ceeaf3"/><rect x="270.81" y="268.49" width="4.74" height="2.32" fill="#edf8e1"/><rect x="275.54" y="268.49" width="4.74" height="2.32" fill="#d3edf4"/><rect x="280.28" y="268.49" width="4.74" height="2.32" fill="#addaea"/><rect x="285.02" y="268.49" width="4.74" height="2.32" fill="#bce2ee"/><rect x="289.76" y="268.49" width="4.74" height="2.32" fill="#cfebf3"/><rect x="209.20" y="270.81" width="4.74" height="2.32" fill="#f67d4a"/><rect x="213.94" y="270.81" width="4.74" height="2.32" fill="#f99354"/><rect x="218.68" y="270.81" width="4.74" height="2.32" fill="#f57446"/><rect x="223.42" y="270.81" width="4.74" height="2.32" fill="#f6fbd0"/><rect x="228.16" y="270.81" width="4.74" height="2.32" fill="#f2fad7"/><rect x="232.89" y="270.81" width="4.74" height="2.32" fill="#fffab8"/><rect x="237.63" y="270.81" width="4.74" height="2.32" fill="#d9f0f6"/><rect x="242.37" y="270.81" width="4.74" height="2.32" fill="#bee2ee"/><rect x="247.11" y="270.81" width="4.74" height="2.32" fill="#c8e7f1"/><rect x="251.85" y="270.81" width="4.74" height="2.32" fill="#f36b42"/><rect x="256.59" y="270.81" width="4.74" height="2.32" fill="#f88b51"/><rect x="261.33" y="270.81" width="4.74" height="2.32" fill="#f0643f"/><rect x="266.07" y="270.81" width="4.74" height="2.32" fill="#cbe8f2"/><rect x="270.81" y="270.81" width="4.74" height="2.32" fill="#e3f4f2"/><rect x="275.54" y="270.81" width="4.74" height="2.32" fill="#f6fbd0"/><rect x="280.28" y="270.81" width="4.74" height="2.32" fill="#d0ebf3"/><rect x="285.02" y="270.81" width="4.74" height="2.32" fill="#e5f5ef"/><rect x="289.76" y="270.81" width="4.74" height="2.32" fill="#e3f4f2"/><rect x="209.20" y="273.13" width="4.74" height="2.32" fill="#f57346"/><rect x="213.94" y="273.13" width="4.74" height="2.32" fill="#f57446"/><rect x="218.68" y="273.13" width="4.74" height="2.32" fill="#fdb86a"/><rect x="223.42" y="273.13" width="4.74" height="2.32" fill="#def2f8"/><rect x="228.16" y="273.13" width="4.74" height="2.32" fill="#cbe9f2"/><rect x="232.89" y="273.13" width="4.74" height="2.32" fill="#dcf1f7"/><rect x="237.63" y="273.13" width="4.74" height="2.32" fill="#afdbea"/><rect x="242.37" y="273.13" width="4.74" height="2.32" fill="#b3ddeb"/><rect x="247.11" y="273.13" width="4.74" height="2.32" fill="#cdeaf3"/><rect x="251.85" y="273.13" width="4.74" height="2.32" fill="#f88d52"/><rect x="256.59" y="273.13" width="4.74" height="2.32" fill="#fdac60"/><rect x="261.33" y="273.13" width="4.74" height="2.32" fill="#fb9d59"/><rect x="266.07" y="273.13" width="4.74" height="2.32" fill="#e7f6eb"/><rect x="270.81" y="273.13" width="4.74" height="2.32" fill="#bde2ee"/><rect x="275.54" y="273.13" width="4.74" height="2.32" fill="#ddf1f7"/><rect x="280.28" y="273.13" width="4.74" height="2.32" fill="#b2dceb"/><rect x="285.02" y="273.13" width="4.74" height="2.32" fill="#dbf1f7"/><rect x="289.76" y="273.13" width="4.74" height="2.32" fill="#ddf2f7"/><rect x="209.20" y="275.45" width="4.74" height="2.32" fill="#f26841"/><rect x="213.94" y="275.45" width="4.74" height="2.32" fill="#f88b51"/><rect x="218.68" y="275.45" width="4.74" height="2.32" fill="#f99555"/><rect x="223.42" y="275.45" width="4.74" height="2.32" fill="#fff6b1"/><rect x="228.16" y="275.45" width="4.74" height="2.32" fill="#f3fad5"/><rect x="232.89" y="275.45" width="4.74" height="2.32" fill="#f8fccc"/><rect x="237.63" y="275.45" width="4.74" height="2.32" fill="#b0dbea"/><rect x="242.37" y="275.45" width="4.74" height="2.32" fill="#d7eef5"/><rect x="247.11" y="275.45" width="4.74" height="2.32" fill="#c8e7f1"/><rect x="251.85" y="275.45" width="4.74" height="2.32" fill="#fa9656"/><rect x="256.59" y="275.45" width="4.74" height="2.32" fill="#fca95f"/><rect x="261.33" y="275.45" width="4.74" height="2.32" fill="#fba25c"/><rect x="266.07" y="275.45" width="4.74" height="2.32" fill="#e4f4f1"/><rect x="270.81" y="275.45" width="4.74" height="2.32" fill="#edf8df"/><rect x="275.54" y="275.45" width="4.74" height="2.32" fill="#fffebe"/><rect x="280.28" y="275.45" width="4.74" height="2.32" fill="#b5deec"/><rect x="285.02" y="275.45" width="4.74" height="2.32" fill="#bbe1ee"/><rect x="289.76" y="275.45" width="4.74" height="2.32" fill="#c4e5f0"/><rect x="209.20" y="277.77" width="4.74" height="2.32" fill="#fba25b"/><rect x="213.94" y="277.77" width="4.74" height="2.32" fill="#fca85e"/><rect x="218.68" y="277.77" width="4.74" height="2.32" fill="#fb9e5a"/><rect x="223.42" y="277.77" width="4.74" height="2.32" fill="#f0f9da"/><rect x="228.16" y="277.77" width="4.74" height="2.32" fill="#e2f4f5"/><rect x="232.89" y="277.77" width="4.74" height="2.32" fill="#d9eff6"/><rect x="237.63" y="277.77" width="4.74" height="2.32" fill="#c9e8f2"/><rect x="242.37" y="277.77" width="4.74" height="2.32" fill="#c1e4ef"/><rect x="247.11" y="277.77" width="4.74" height="2.32" fill="#abd9e9"/><rect x="251.85" y="277.77" width="4.74" height="2.32" fill="#f8874f"/><rect x="256.59" y="277.77" width="4.74" height="2.32" fill="#fdac60"/><rect x="261.33" y="277.77" width="4.74" height="2.32" fill="#fdb265"/><rect x="266.07" y="277.77" width="4.74" height="2.32" fill="#e7f6eb"/><rect x="270.81" y="277.77" width="4.74" height="2.32" fill="#d1ecf4"/><rect x="275.54" y="277.77" width="4.74" height="2.32" fill="#ceeaf3"/><rect x="280.28" y="277.77" width="4.74" height="2.32" fill="#e5f5f0"/><rect x="285.02" y="277.77" width="4.74" height="2.32" fill="#c2e4f0"/><rect x="289.76" y="277.77" width="4.74" height="2.32" fill="#b9e0ed"/><rect x="209.20" y="280.09" width="4.74" height="2.32" fill="#f88a50"/><rect x="213.94" y="280.09" width="4.74" height="2.32" fill="#fdae61"/><rect x="218.68" y="280.09" width="4.74" height="2.32" fill="#f99053"/><rect x="223.42" y="280.09" width="4.74" height="2.32" fill="#f9fdca"/><rect x="228.16" y="280.09" width="4.74" height="2.32" fill="#e9f7e7"/><rect x="232.89" y="280.09" width="4.74" height="2.32" fill="#f9fdcb"/><rect x="237.63" y="280.09" width="4.74" height="2.32" fill="#b1dceb"/><rect x="242.37" y="280.09" width="4.74" height="2.32" fill="#d7eff6"/><rect x="247.11" y="280.09" width="4.74" height="2.32" fill="#c1e4ef"/><rect x="251.85" y="280.09" width="4.74" height="2.32" fill="#fca45c"/><rect x="256.59" y="280.09" width="4.74" height="2.32" fill="#fdae61"/><rect x="261.33" y="280.09" width="4.74" height="2.32" fill="#f7824d"/><rect x="266.07" y="280.09" width="4.74" height="2.32" fill="#e8f6e8"/><rect x="270.81" y="280.09" width="4.74" height="2.32" fill="#e3f4f3"/><rect x="275.54" y="280.09" width="4.74" height="2.32" fill="#eff9dc"/><rect x="280.28" y="280.09" width="4.74" height="2.32" fill="#d2ecf4"/><rect x="285.02" y="280.09" width="4.74" height="2.32" fill="#ceeaf3"/><rect x="289.76" y="280.09" width="4.74" height="2.32" fill="#dbf1f7"/><rect x="209.20" y="282.41" width="4.74" height="2.32" fill="#f67c4a"/><rect x="213.94" y="282.41" width="4.74" height="2.32" fill="#ee613e"/><rect x="218.68" y="282.41" width="4.74" height="2.32" fill="#fdb063"/><rect x="223.42" y="282.41" width="4.74" height="2.32" fill="#ecf7e3"/><rect x="228.16" y="282.41" width="4.74" height="2.32" fill="#e4f5f1"/><rect x="232.89" y="282.41" width="4.74" height="2.32" fill="#f6fbd0"/><rect x="237.63" y="282.41" width="4.74" height="2.32" fill="#9ecee3"/><rect x="242.37" y="282.41" width="4.74" height="2.32" fill="#e8f6e9"/><rect x="247.11" y="282.41" width="4.74" height="2.32" fill="#d0ebf3"/><rect x="251.85" y="282.41" width="4.74" height="2.32" fill="#f57246"/><rect x="256.59" y="282.41" width="4.74" height="2.32" fill="#f7854e"/><rect x="261.33" y="282.41" width="4.74" height="2.32" fill="#fdb063"/><rect x="266.07" y="282.41" width="4.74" height="2.32" fill="#e1f3f7"/><rect x="270.81" y="282.41" width="4.74" height="2.32" fill="#ffffbf"/><rect x="275.54" y="282.41" width="4.74" height="2.32" fill="#f6fccf"/><rect x="280.28" y="282.41" width="4.74" height="2.32" fill="#bfe3ef"/><rect x="285.02" y="282.41" width="4.74" height="2.32" fill="#d3edf4"/><rect x="289.76" y="282.41" width="4.74" height="2.32" fill="#e7f6eb"/><rect x="209.20" y="284.73" width="4.74" height="2.32" fill="#f7824d"/><rect x="213.94" y="284.73" width="4.74" height="2.32" fill="#f57245"/><rect x="218.68" y="284.73" width="4.74" height="2.32" fill="#f46f44"/><rect x="223.42" y="284.73" width="4.74" height="2.32" fill="#f8fccc"/><rect x="228.16" y="284.73" width="4.74" height="2.32" fill="#f8fccd"/><rect x="232.89" y="284.73" width="4.74" height="2.32" fill="#fff3ae"/><rect x="237.63" y="284.73" width="4.74" height="2.32" fill="#d3edf4"/><rect x="242.37" y="284.73" width="4.74" height="2.32" fill="#d2ecf4"/><rect x="247.11" y="284.73" width="4.74" height="2.32" fill="#e9f6e8"/><rect x="251.85" y="284.73" width="4.74" height="2.32" fill="#f57145"/><rect x="256.59" y="284.73" width="4.74" height="2.32" fill="#f67d4a"/><rect x="261.33" y="284.73" width="4.74" height="2.32" fill="#f99053"/><rect x="266.07" y="284.73" width="4.74" height="2.32" fill="#e6f5ec"/><rect x="270.81" y="284.73" width="4.74" height="2.32" fill="#e2f4f5"/><rect x="275.54" y="284.73" width="4.74" height="2.32" fill="#e9f7e7"/><rect x="280.28" y="284.73" width="4.74" height="2.32" fill="#e6f5ed"/><rect x="285.02" y="284.73" width="4.74" height="2.32" fill="#c8e7f1"/><rect x="289.76" y="284.73" width="4.74" height="2.32" fill="#d0ebf4"/><rect x="209.20" y="287.05" width="4.74" height="2.32" fill="#f99053"/><rect x="213.94" y="287.05" width="4.74" height="2.32" fill="#fb9c59"/><rect x="218.68" y="287.05" width="4.74" height="2.32" fill="#f57547"/><rect x="223.42" y="287.05" width="4.74" height="2.32" fill="#fdfec3"/><rect x="228.16" y="287.05" width="4.74" height="2.32" fill="#e7f6ea"/><rect x="232.89" y="287.05" width="4.74" height="2.32" fill="#e4f5f0"/><rect x="237.63" y="287.05" width="4.74" height="2.32" fill="#d0ebf3"/><rect x="242.37" y="287.05" width="4.74" height="2.32" fill="#abd9e9"/><rect x="247.11" y="287.05" width="4.74" height="2.32" fill="#ceeaf3"/><rect x="251.85" y="287.05" width="4.74" height="2.32" fill="#fdb96c"/><rect x="256.59" y="287.05" width="4.74" height="2.32" fill="#fca95f"/><rect x="261.33" y="287.05" width="4.74" height="2.32" fill="#fa9b58"/><rect x="266.07" y="287.05" width="4.74" height="2.32" fill="#e1f3f6"/><rect x="270.81" y="287.05" width="4.74" height="2.32" fill="#c0e3ef"/><rect x="275.54" y="287.05" width="4.74" height="2.32" fill="#cfebf3"/><rect x="280.28" y="287.05" width="4.74" height="2.32" fill="#cbe9f2"/><rect x="285.02" y="287.05" width="4.74" height="2.32" fill="#aad9e9"/><rect x="289.76" y="287.05" width="4.74" height="2.32" fill="#e9f7e7"/><rect x="209.20" y="289.36" width="4.74" height="2.32" fill="#f88d52"/><rect x="213.94" y="289.36" width="4.74" height="2.32" fill="#eb5b3b"/><rect x="218.68" y="289.36" width="4.74" height="2.32" fill="#fa9556"/><rect x="223.42" y="289.36" width="4.74" height="2.32" fill="#eef9de"/><rect x="228.16" y="289.36" width="4.74" height="2.32" fill="#f3fbd4"/><rect x="232.89" y="289.36" width="4.74" height="2.32" fill="#e7f6eb"/><rect x="237.63" y="289.36" width="4.74" height="2.32" fill="#abd9e9"/><rect x="242.37" y="289.36" width="4.74" height="2.32" fill="#a3d3e5"/><rect x="247.11" y="289.36" width="4.74" height="2.32" fill="#c3e5f0"/><rect x="251.85" y="289.36" width="4.74" height="2.32" fill="#fba25c"/><rect x="256.59" y="289.36" width="4.74" height="2.32" fill="#f7834d"/><rect x="261.33" y="289.36" width="4.74" height="2.32" fill="#fa9a58"/><rect x="266.07" y="289.36" width="4.74" height="2.32" fill="#edf8e0"/><rect x="270.81" y="289.36" width="4.74" height="2.32" fill="#ceeaf3"/><rect x="275.54" y="289.36" width="4.74" height="2.32" fill="#dcf1f7"/><rect x="280.28" y="289.36" width="4.74" height="2.32" fill="#d4edf5"/><rect x="285.02" y="289.36" width="4.74" height="2.32" fill="#c5e6f0"/><rect x="289.76" y="289.36" width="4.74" height="2.32" fill="#d9eff6"/><rect x="209.20" y="291.68" width="4.74" height="2.32" fill="#f99354"/><rect x="213.94" y="291.68" width="4.74" height="2.32" fill="#f7854e"/><rect x="218.68" y="291.68" width="4.74" height="2.32" fill="#fca45d"/><rect x="223.42" y="291.68" width="4.74" height="2.32" fill="#fee99e"/><rect x="228.16" y="291.68" width="4.74" height="2.32" fill="#d6eef5"/><rect x="232.89" y="291.68" width="4.74" height="2.32" fill="#fffab7"/><rect x="237.63" y="291.68" width="4.74" height="2.32" fill="#dff3f8"/><rect x="242.37" y="291.68" width="4.74" height="2.32" fill="#bde2ee"/><rect x="247.11" y="291.68" width="4.74" height="2.32" fill="#cae8f2"/><rect x="251.85" y="291.68" width="4.74" height="2.32" fill="#f8874f"/><rect x="256.59" y="291.68" width="4.74" height="2.32" fill="#f99355"/><rect x="261.33" y="291.68" width="4.74" height="2.32" fill="#f98e52"/><rect x="266.07" y="291.68" width="4.74" height="2.32" fill="#dff2f8"/><rect x="270.81" y="291.68" width="4.74" height="2.32" fill="#edf8e0"/><rect x="275.54" y="291.68" width="4.74" height="2.32" fill="#dbf0f6"/><rect x="280.28" y="291.68" width="4.74" height="2.32" fill="#b9e0ed"/><rect x="285.02" y="291.68" width="4.74" height="2.32" fill="#cbe9f2"/><rect x="289.76" y="291.68" width="4.74" height="2.32" fill="#ddf2f7"/><rect x="209.20" y="294.00" width="4.74" height="2.32" fill="#f67e4b"/><rect x="213.94" y="294.00" width="4.74" height="2.32" fill="#f88d52"/><rect x="218.68" y="294.00" width="4.74" height="2.32" fill="#f7824d"/><rect x="223.42" y="294.00" width="4.74" height="2.32" fill="#e5f5ee"/><rect x="228.16" y="294.00" width="4.74" height="2.32" fill="#f1f9da"/><rect x="232.89" y="294.00" width="4.74" height="2.32" fill="#f4fbd3"/><rect x="237.63" y="294.00" width="4.74" height="2.32" fill="#bae0ed"/><rect x="242.37" y="294.00" width="4.74" height="2.32" fill="#e5f5ef"/><rect x="247.11" y="294.00" width="4.74" height="2.32" fill="#a5d4e6"/><rect x="251.85" y="294.00" width="4.74" height="2.32" fill="#f7864f"/><rect x="256.59" y="294.00" width="4.74" height="2.32" fill="#fa9a58"/><rect x="261.33" y="294.00" width="4.74" height="2.32" fill="#f67f4b"/><rect x="266.07" y="294.00" width="4.74" height="2.32" fill="#e2f4f4"/><rect x="270.81" y="294.00" width="4.74" height="2.32" fill="#f9fdca"/><rect x="275.54" y="294.00" width="4.74" height="2.32" fill="#def2f7"/><rect x="280.28" y="294.00" width="4.74" height="2.32" fill="#c7e7f1"/><rect x="285.02" y="294.00" width="4.74" height="2.32" fill="#d2ecf4"/><rect x="289.76" y="294.00" width="4.74" height="2.32" fill="#d7eff5"/><rect x="209.20" y="296.32" width="4.74" height="2.32" fill="#f67c4a"/><rect x="213.94" y="296.32" width="4.74" height="2.32" fill="#fca95f"/><rect x="218.68" y="296.32" width="4.74" height="2.32" fill="#fa9857"/><rect x="223.42" y="296.32" width="4.74" height="2.32" fill="#e8f6e8"/><rect x="228.16" y="296.32" width="4.74" height="2.32" fill="#e5f5f0"/><rect x="232.89" y="296.32" width="4.74" height="2.32" fill="#f8fccc"/><rect x="237.63" y="296.32" width="4.74" height="2.32" fill="#aad8e9"/><rect x="242.37" y="296.32" width="4.74" height="2.32" fill="#ceeaf3"/><rect x="247.11" y="296.32" width="4.74" height="2.32" fill="#d1ecf4"/><rect x="251.85" y="296.32" width="4.74" height="2.32" fill="#fba15b"/><rect x="256.59" y="296.32" width="4.74" height="2.32" fill="#f67a49"/><rect x="261.33" y="296.32" width="4.74" height="2.32" fill="#fdbf71"/><rect x="266.07" y="296.32" width="4.74" height="2.32" fill="#d4edf4"/><rect x="270.81" y="296.32" width="4.74" height="2.32" fill="#c3e5f0"/><rect x="275.54" y="296.32" width="4.74" height="2.32" fill="#a5d4e6"/><rect x="280.28" y="296.32" width="4.74" height="2.32" fill="#9fcfe4"/><rect x="285.02" y="296.32" width="4.74" height="2.32" fill="#ceeaf3"/><rect x="289.76" y="296.32" width="4.74" height="2.32" fill="#b4ddeb"/><rect x="209.20" y="298.64" width="4.74" height="2.32" fill="#fba25b"/><rect x="213.94" y="298.64" width="4.74" height="2.32" fill="#fdbc6e"/><rect x="218.68" y="298.64" width="4.74" height="2.32" fill="#fdac60"/><rect x="223.42" y="298.64" width="4.74" height="2.32" fill="#ceeaf3"/><rect x="228.16" y="298.64" width="4.74" height="2.32" fill="#f1fad9"/><rect x="232.89" y="298.64" width="4.74" height="2.32" fill="#aad8e9"/><rect x="237.63" y="298.64" width="4.74" height="2.32" fill="#b0dbea"/><rect x="242.37" y="298.64" width="4.74" height="2.32" fill="#ebf7e3"/><rect x="247.11" y="298.64" width="4.74" height="2.32" fill="#acdae9"/><rect x="251.85" y="298.64" width="4.74" height="2.32" fill="#fdab60"/><rect x="256.59" y="298.64" width="4.74" height="2.32" fill="#fdb365"/><rect x="261.33" y="298.64" width="4.74" height="2.32" fill="#fba05b"/><rect x="266.07" y="298.64" width="4.74" height="2.32" fill="#d8eff6"/><rect x="270.81" y="298.64" width="4.74" height="2.32" fill="#dbf1f7"/><rect x="275.54" y="298.64" width="4.74" height="2.32" fill="#bae0ed"/><rect x="280.28" y="298.64" width="4.74" height="2.32" fill="#b9e0ed"/><rect x="285.02" y="298.64" width="4.74" height="2.32" fill="#c3e5f0"/><rect x="289.76" y="298.64" width="4.74" height="2.32" fill="#bae0ed"/><rect x="209.20" y="300.96" width="4.74" height="2.32" fill="#f46e44"/><rect x="213.94" y="300.96" width="4.74" height="2.32" fill="#f26941"/><rect x="218.68" y="300.96" width="4.74" height="2.32" fill="#f67f4b"/><rect x="223.42" y="300.96" width="4.74" height="2.32" fill="#feffc1"/><rect x="228.16" y="300.96" width="4.74" height="2.32" fill="#eef8df"/><rect x="232.89" y="300.96" width="4.74" height="2.32" fill="#eef8de"/><rect x="237.63" y="300.96" width="4.74" height="2.32" fill="#d9f0f6"/><rect x="242.37" y="300.96" width="4.74" height="2.32" fill="#b3ddeb"/><rect x="247.11" y="300.96" width="4.74" height="2.32" fill="#e1f4f6"/><rect x="251.85" y="300.96" width="4.74" height="2.32" fill="#fca85e"/><rect x="256.59" y="300.96" width="4.74" height="2.32" fill="#f99355"/><rect x="261.33" y="300.96" width="4.74" height="2.32" fill="#fba15b"/><rect x="266.07" y="300.96" width="4.74" height="2.32" fill="#def2f7"/><rect x="270.81" y="300.96" width="4.74" height="2.32" fill="#f4fbd3"/><rect x="275.54" y="300.96" width="4.74" height="2.32" fill="#cdeaf3"/><rect x="280.28" y="300.96" width="4.74" height="2.32" fill="#f1fad9"/><rect x="285.02" y="300.96" width="4.74" height="2.32" fill="#b8dfed"/><rect x="289.76" y="300.96" width="4.74" height="2.32" fill="#e5f5ee"/><rect x="209.20" y="303.28" width="4.74" height="2.32" fill="#fff1aa"/><rect x="213.94" y="303.28" width="4.74" height="2.32" fill="#fee89c"/><rect x="218.68" y="303.28" width="4.74" height="2.32" fill="#fed888"/><rect x="223.42" y="303.28" width="4.74" height="2.32" fill="#a4d3e6"/><rect x="228.16" y="303.28" width="4.74" height="2.32" fill="#96c8e0"/><rect x="232.89" y="303.28" width="4.74" height="2.32" fill="#a1d1e5"/><rect x="237.63" y="303.28" width="4.74" height="2.32" fill="#def2f8"/><rect x="242.37" y="303.28" width="4.74" height="2.32" fill="#b8dfed"/><rect x="247.11" y="303.28" width="4.74" height="2.32" fill="#d0ebf4"/><rect x="251.85" y="303.28" width="4.74" height="2.32" fill="#f46e44"/><rect x="256.59" y="303.28" width="4.74" height="2.32" fill="#f99455"/><rect x="261.33" y="303.28" width="4.74" height="2.32" fill="#f88b51"/><rect x="266.07" y="303.28" width="4.74" height="2.32" fill="#fee699"/><rect x="270.81" y="303.28" width="4.74" height="2.32" fill="#fffdbb"/><rect x="275.54" y="303.28" width="4.74" height="2.32" fill="#fff4ae"/><rect x="280.28" y="303.28" width="4.74" height="2.32" fill="#f8fccd"/><rect x="285.02" y="303.28" width="4.74" height="2.32" fill="#fffebd"/><rect x="289.76" y="303.28" width="4.74" height="2.32" fill="#e9f7e7"/><rect x="209.20" y="305.60" width="4.74" height="2.32" fill="#fee496"/><rect x="213.94" y="305.60" width="4.74" height="2.32" fill="#fdfec3"/><rect x="218.68" y="305.60" width="4.74" height="2.32" fill="#fafdc8"/><rect x="223.42" y="305.60" width="4.74" height="2.32" fill="#b3ddeb"/><rect x="228.16" y="305.60" width="4.74" height="2.32" fill="#9acce2"/><rect x="232.89" y="305.60" width="4.74" height="2.32" fill="#a0d0e4"/><rect x="237.63" y="305.60" width="4.74" height="2.32" fill="#a7d6e7"/><rect x="242.37" y="305.60" width="4.74" height="2.32" fill="#b7dfec"/><rect x="247.11" y="305.60" width="4.74" height="2.32" fill="#c3e5f0"/><rect x="251.85" y="305.60" width="4.74" height="2.32" fill="#ed5f3c"/><rect x="256.59" y="305.60" width="4.74" height="2.32" fill="#f0643f"/><rect x="261.33" y="305.60" width="4.74" height="2.32" fill="#f88b51"/><rect x="266.07" y="305.60" width="4.74" height="2.32" fill="#fff0a8"/><rect x="270.81" y="305.60" width="4.74" height="2.32" fill="#fee191"/><rect x="275.54" y="305.60" width="4.74" height="2.32" fill="#fff8b4"/><rect x="280.28" y="305.60" width="4.74" height="2.32" fill="#d7eef5"/><rect x="285.02" y="305.60" width="4.74" height="2.32" fill="#e2f4f4"/><rect x="289.76" y="305.60" width="4.74" height="2.32" fill="#fafdc8"/><rect x="209.20" y="307.92" width="4.74" height="2.32" fill="#fee597"/><rect x="213.94" y="307.92" width="4.74" height="2.32" fill="#fee699"/><rect x="218.68" y="307.92" width="4.74" height="2.32" fill="#fffbb8"/><rect x="223.42" y="307.92" width="4.74" height="2.32" fill="#94c7df"/><rect x="228.16" y="307.92" width="4.74" height="2.32" fill="#a3d3e6"/><rect x="232.89" y="307.92" width="4.74" height="2.32" fill="#a2d2e5"/><rect x="237.63" y="307.92" width="4.74" height="2.32" fill="#b5deec"/><rect x="242.37" y="307.92" width="4.74" height="2.32" fill="#c3e5f0"/><rect x="247.11" y="307.92" width="4.74" height="2.32" fill="#ecf8e2"/><rect x="251.85" y="307.92" width="4.74" height="2.32" fill="#ec5c3b"/><rect x="256.59" y="307.92" width="4.74" height="2.32" fill="#e95739"/><rect x="261.33" y="307.92" width="4.74" height="2.32" fill="#f46e43"/><rect x="266.07" y="307.92" width="4.74" height="2.32" fill="#fed283"/><rect x="270.81" y="307.92" width="4.74" height="2.32" fill="#fff1aa"/><rect x="275.54" y="307.92" width="4.74" height="2.32" fill="#fee394"/><rect x="280.28" y="307.92" width="4.74" height="2.32" fill="#ffffbe"/><rect x="285.02" y="307.92" width="4.74" height="2.32" fill="#feeea5"/><rect x="289.76" y="307.92" width="4.74" height="2.32" fill="#f6fbd0"/><rect x="209.20" y="310.24" width="4.74" height="2.32" fill="#fee79a"/><rect x="213.94" y="310.24" width="4.74" height="2.32" fill="#fff4af"/><rect x="218.68" y="310.24" width="4.74" height="2.32" fill="#fedc8c"/><rect x="223.42" y="310.24" width="4.74" height="2.32" fill="#d5eef5"/><rect x="228.16" y="310.24" width="4.74" height="2.32" fill="#c2e4f0"/><rect x="232.89" y="310.24" width="4.74" height="2.32" fill="#b4ddeb"/><rect x="237.63" y="310.24" width="4.74" height="2.32" fill="#cbe8f2"/><rect x="242.37" y="310.24" width="4.74" height="2.32" fill="#bde2ee"/><rect x="247.11" y="310.24" width="4.74" height="2.32" fill="#e9f6e8"/><rect x="251.85" y="310.24" width="4.74" height="2.32" fill="#ee603d"/><rect x="256.59" y="310.24" width="4.74" height="2.32" fill="#e44b33"/><rect x="261.33" y="310.24" width="4.74" height="2.32" fill="#f47044"/><rect x="266.07" y="310.24" width="4.74" height="2.32" fill="#fecd7e"/><rect x="270.81" y="310.24" width="4.74" height="2.32" fill="#fecc7d"/><rect x="275.54" y="310.24" width="4.74" height="2.32" fill="#fedd8e"/><rect x="280.28" y="310.24" width="4.74" height="2.32" fill="#eff9dc"/><rect x="285.02" y="310.24" width="4.74" height="2.32" fill="#fedd8d"/><rect x="289.76" y="310.24" width="4.74" height="2.32" fill="#feeca3"/><rect x="209.20" y="312.56" width="4.74" height="2.32" fill="#fee69a"/><rect x="213.94" y="312.56" width="4.74" height="2.32" fill="#fdc173"/><rect x="218.68" y="312.56" width="4.74" height="2.32" fill="#fed081"/><rect x="223.42" y="312.56" width="4.74" height="2.32" fill="#e3f4f3"/><rect x="228.16" y="312.56" width="4.74" height="2.32" fill="#bfe3ef"/><rect x="232.89" y="312.56" width="4.74" height="2.32" fill="#bde2ee"/><rect x="237.63" y="312.56" width="4.74" height="2.32" fill="#c8e7f1"/><rect x="242.37" y="312.56" width="4.74" height="2.32" fill="#bee2ee"/><rect x="247.11" y="312.56" width="4.74" height="2.32" fill="#bbe1ee"/><rect x="251.85" y="312.56" width="4.74" height="2.32" fill="#ec5b3b"/><rect x="256.59" y="312.56" width="4.74" height="2.32" fill="#e85438"/><rect x="261.33" y="312.56" width="4.74" height="2.32" fill="#db392b"/><rect x="266.07" y="312.56" width="4.74" height="2.32" fill="#fdab60"/><rect x="270.81" y="312.56" width="4.74" height="2.32" fill="#feda8a"/><rect x="275.54" y="312.56" width="4.74" height="2.32" fill="#fff4af"/><rect x="280.28" y="312.56" width="4.74" height="2.32" fill="#fff7b3"/><rect x="285.02" y="312.56" width="4.74" height="2.32" fill="#fff6b1"/><rect x="289.76" y="312.56" width="4.74" height="2.32" fill="#fcfec5"/><rect x="209.20" y="314.88" width="4.74" height="2.32" fill="#fffab7"/><rect x="213.94" y="314.88" width="4.74" height="2.32" fill="#feeca3"/><rect x="218.68" y="314.88" width="4.74" height="2.32" fill="#feeda3"/><rect x="223.42" y="314.88" width="4.74" height="2.32" fill="#8ec2dc"/><rect x="228.16" y="314.88" width="4.74" height="2.32" fill="#a7d6e7"/><rect x="232.89" y="314.88" width="4.74" height="2.32" fill="#99cbe1"/><rect x="237.63" y="314.88" width="4.74" height="2.32" fill="#b1dceb"/><rect x="242.37" y="314.88" width="4.74" height="2.32" fill="#c5e6f0"/><rect x="247.11" y="314.88" width="4.74" height="2.32" fill="#b3ddeb"/><rect x="251.85" y="314.88" width="4.74" height="2.32" fill="#f16740"/><rect x="256.59" y="314.88" width="4.74" height="2.32" fill="#fb9d59"/><rect x="261.33" y="314.88" width="4.74" height="2.32" fill="#ee613e"/><rect x="266.07" y="314.88" width="4.74" height="2.32" fill="#fee293"/><rect x="270.81" y="314.88" width="4.74" height="2.32" fill="#feeca3"/><rect x="275.54" y="314.88" width="4.74" height="2.32" fill="#fff2ab"/><rect x="280.28" y="314.88" width="4.74" height="2.32" fill="#d1ebf4"/><rect x="285.02" y="314.88" width="4.74" height="2.32" fill="#d9f0f6"/><rect x="289.76" y="314.88" width="4.74" height="2.32" fill="#fff4ae"/></g>
<path d="M209.20 84.08H207.11V86.40H209.20M207.11 85.24H206.29V88.72H209.20M209.20 93.36H207.11V95.68H209.20M207.11 94.52H206.67V98.00H209.20M209.20 91.04H205.89V96.26H206.67M206.29 86.98H203.96V93.65H205.89M209.20 100.32H206.76V102.64H209.20M209.20 107.28H207.19V109.60H209.20M209.20 104.96H206.45V108.44H207.19M206.45 106.70H205.63V111.91H209.20M206.76 101.48H205.41V109.31H205.63M203.96 90.31H202.25V105.39H205.41M209.20 114.23H206.89V116.55H209.20M209.20 118.87H207.24V121.19H209.20M209.20 123.51H207.11V125.83H209.20M207.24 120.03H205.77V124.67H207.11M206.89 115.39H204.24V122.35H205.77M209.20 128.15H206.77V130.47H209.20M209.20 132.79H206.94V135.11H209.20M206.77 129.31H205.48V133.95H206.94M209.20 137.43H207.13V139.75H209.20M205.48 131.63H204.29V138.59H207.13M209.20 144.39H207.00V146.71H209.20M209.20 142.07H206.42V145.55H207.00M206.42 143.81H205.35V149.03H209.20M204.29 135.11H203.75V146.42H205.35M204.24 118.87H200.53V140.76H203.75M209.20 151.35H206.59V153.67H209.20M209.20 158.31H206.76V160.63H209.20M209.20 155.99H206.31V159.47H206.76M206.59 152.51H205.74V157.73H206.31M209.20 162.95H206.85V165.27H209.20M205.74 155.12H204.54V164.11H206.85M200.53 129.82H199.75V159.61H204.54M202.25 97.85H195.59V144.72H199.75M209.20 169.90H206.86V172.22H209.20M209.20 167.59H205.93V171.06H206.86M209.20 174.54H206.71V176.86H209.20M209.20 179.18H206.81V181.50H209.20M206.81 180.34H206.41V183.82H209.20M206.71 175.70H205.73V182.08H206.41M205.93 169.32H204.49V178.89H205.73M209.20 186.14H206.86V188.46H209.20M209.20 190.78H207.10V193.10H209.20M207.10 191.94H206.31V195.42H209.20M206.86 187.30H204.68V193.68H206.31M209.20 197.74H207.16V200.06H209.20M204.68 190.49H203.72V198.90H207.16M204.49 174.11H201.30V194.70H203.72M195.59 121.28H194.30V184.40H201.30M209.20 81.76H192.40V152.84H194.30M209.20 204.70H207.15V207.02H209.20M209.20 202.38H206.48V205.86H207.15M209.20 209.34H207.04V211.66H209.20M206.48 204.12H205.79V210.50H207.04M209.20 213.98H206.94V216.30H209.20M206.94 215.14H205.88V218.62H209.20M205.79 207.31H204.00V216.88H205.88M209.20 223.26H206.73V225.58H209.20M209.20 220.94H206.55V224.42H206.73M209.20 227.90H206.87V230.21H209.20M206.87 229.05H206.21V232.53H209.20M206.55 222.68H204.50V230.79H206.21M209.20 234.85H206.62V237.17H209.20M206.62 236.01H206.73V239.49H209.20M209.20 244.13H206.69V246.45H209.20M209.20 241.81H206.22V245.29H206.69M206.73 237.75H205.10V243.55H206.22M209.20 248.77H206.61V251.09H209.20M206.61 249.93H206.51V253.41H209.20M205.10 240.65H203.92V251.67H206.51M204.50 226.74H200.54V246.16H203.92M204.00 212.09H198.46V236.45H200.54M209.20 255.73H206.68V258.05H209.20M209.20 260.37H207.05V262.69H209.20M207.05 261.53H206.63V265.01H209.20M206.68 256.89H205.32V263.27H206.63M209.20 271.97H207.24V274.29H209.20M209.20 269.65H206.12V273.13H207.24M209.20 267.33H206.08V271.39H206.12M209.20 276.61H206.95V278.93H209.20M206.95 277.77H206.05V281.25H209.20M209.20 283.57H206.75V285.89H209.20M206.05 279.51H204.82V284.73H206.75M206.08 269.36H204.07V282.12H204.82M205.32 260.08H202.78V275.74H204.07M209.20 290.52H207.24V292.84H209.20M209.20 288.20H206.13V291.68H207.24M209.20 295.16H207.07V297.48H209.20M209.20 299.80H206.89V302.12H209.20M207.07 296.32H205.95V300.96H206.89M206.13 289.94H204.07V298.64H205.95M202.78 267.91H200.90V294.29H204.07M198.46 224.27H192.50V281.10H200.90M209.20 304.44H206.92V306.76H209.20M206.92 305.60H206.65V309.08H209.20M209.20 311.40H206.79V313.72H209.20M206.79 312.56H205.89V316.04H209.20M206.65 307.34H195.50V314.30H205.89M192.50 252.69H189.80V310.82H195.50M192.40 117.30H184.10V281.75H189.80" fill="none" stroke="#444" stroke-width="0.6"/>
<text x="305.90" y="86.75" font-size="7.4" font-weight="bold" textLength="34.5" lengthAdjust="spacingAndGlyphs" fill="#111">Activation</text>
<text x="310.60" y="95.71" font-size="7.3" textLength="19.2" lengthAdjust="spacingAndGlyphs" fill="#231f20" stroke="#231f20" stroke-width="0.05">IL2RA</text>
<line x1="294.50" y1="93.20" x2="307.80" y2="93.20" stroke="#231f20" stroke-width="0.6"/>
<text x="307.00" y="105.25" font-size="7.4" font-weight="bold" textLength="32.0" lengthAdjust="spacingAndGlyphs" fill="#111">Cell cycle</text>
<text x="310.60" y="114.11" font-size="7.3" textLength="24.1" lengthAdjust="spacingAndGlyphs" fill="#231f20" stroke="#231f20" stroke-width="0.05">CCNB1</text>
<line x1="294.50" y1="117.60" x2="307.80" y2="111.60" stroke="#231f20" stroke-width="0.6"/>
<text x="310.60" y="122.21" font-size="7.3" textLength="18.5" lengthAdjust="spacingAndGlyphs" fill="#231f20" stroke="#231f20" stroke-width="0.05">CDK1</text>
<line x1="294.50" y1="119.30" x2="307.80" y2="119.70" stroke="#231f20" stroke-width="0.6"/>
<text x="310.60" y="130.31" font-size="7.3" textLength="17.8" lengthAdjust="spacingAndGlyphs" fill="#231f20" stroke="#231f20" stroke-width="0.05">BUB1</text>
<line x1="294.50" y1="122.00" x2="307.80" y2="127.80" stroke="#231f20" stroke-width="0.6"/>
<text x="310.60" y="140.01" font-size="7.3" textLength="13.2" lengthAdjust="spacingAndGlyphs" fill="#231f20" stroke="#231f20" stroke-width="0.05">DTL</text>
<line x1="294.50" y1="143.90" x2="307.80" y2="137.50" stroke="#231f20" stroke-width="0.6"/>
<text x="310.60" y="149.21" font-size="7.3" textLength="10.7" lengthAdjust="spacingAndGlyphs" fill="#231f20" stroke="#231f20" stroke-width="0.05">CIT</text>
<line x1="294.50" y1="152.80" x2="307.80" y2="146.70" stroke="#231f20" stroke-width="0.6"/>
<text x="308.80" y="214.75" font-size="7.4" font-weight="bold" textLength="28.6" lengthAdjust="spacingAndGlyphs" fill="#111">Memory</text>
<text x="312.20" y="223.25" font-size="7.4" font-weight="bold" textLength="21.5" lengthAdjust="spacingAndGlyphs" fill="#111">T cells</text>
<text x="310.90" y="234.51" font-size="7.3" textLength="16.8" lengthAdjust="spacingAndGlyphs" fill="#231f20" stroke="#231f20" stroke-width="0.05">TCF7</text>
<text x="310.90" y="243.61" font-size="7.3" textLength="13.9" lengthAdjust="spacingAndGlyphs" fill="#231f20" stroke="#231f20" stroke-width="0.05">IL7R</text>
<text x="310.90" y="252.41" font-size="7.3" textLength="22.2" lengthAdjust="spacingAndGlyphs" fill="#231f20" stroke="#231f20" stroke-width="0.05">DYRK2</text>
<line x1="294.50" y1="226.00" x2="308.20" y2="232.50" stroke="#231f20" stroke-width="0.6"/>
<line x1="294.50" y1="256.60" x2="308.20" y2="241.80" stroke="#231f20" stroke-width="0.6"/>
<line x1="294.50" y1="278.80" x2="308.20" y2="251.20" stroke="#231f20" stroke-width="0.6"/>
<text x="302.80" y="279.75" font-size="7.4" font-weight="bold" textLength="46.0" lengthAdjust="spacingAndGlyphs" fill="#111">Regulation of</text>
<text x="304.10" y="288.35" font-size="7.4" font-weight="bold" textLength="43.1" lengthAdjust="spacingAndGlyphs" fill="#111">transcription</text>
<text x="310.50" y="300.21" font-size="7.3" textLength="26.0" lengthAdjust="spacingAndGlyphs" fill="#231f20" stroke="#231f20" stroke-width="0.05">ZBTB10</text>
<text x="310.50" y="309.31" font-size="7.3" textLength="20.6" lengthAdjust="spacingAndGlyphs" fill="#231f20" stroke="#231f20" stroke-width="0.05">KLF10</text>
<text x="310.50" y="318.41" font-size="7.3" textLength="26.0" lengthAdjust="spacingAndGlyphs" fill="#231f20" stroke="#231f20" stroke-width="0.05">ZBTB25</text>
<line x1="294.50" y1="283.50" x2="308.20" y2="297.00" stroke="#231f20" stroke-width="0.6"/>
<line x1="294.50" y1="313.80" x2="308.20" y2="307.10" stroke="#231f20" stroke-width="0.6"/>
<line x1="294.50" y1="316.30" x2="308.20" y2="316.30" stroke="#231f20" stroke-width="0.6"/>
<rect x="363.60" y="198.20" width="7.20" height="13.60" fill="#1a1a2e"/>
<rect x="364.00" y="198.60" width="6.40" height="6.40" fill="#1b5193"/>
<rect x="364.00" y="205.20" width="6.40" height="6.20" fill="#d0143c"/>
<text x="372.80" y="203.40" font-size="7.2" textLength="20.7" lengthAdjust="spacingAndGlyphs" fill="#231f20" stroke="#231f20" stroke-width="0.08">CONT</text>
<text x="372.80" y="210.80" font-size="7.2" textLength="9.9" lengthAdjust="spacingAndGlyphs" fill="#231f20" stroke="#231f20" stroke-width="0.08">TFI</text>
<defs><linearGradient id="cb" x1="0" y1="0" x2="0" y2="1"><stop offset="0" stop-color="#d73027"/><stop offset="0.15" stop-color="#f46d43"/><stop offset="0.3" stop-color="#fdae61"/><stop offset="0.41" stop-color="#fee090"/><stop offset="0.5" stop-color="#ffffbf"/><stop offset="0.59" stop-color="#e0f3f8"/><stop offset="0.7" stop-color="#abd9e9"/><stop offset="0.85" stop-color="#74add1"/><stop offset="1" stop-color="#4575b4"/></linearGradient></defs>
<rect x="364.10" y="220.10" width="6.70" height="93.80" fill="url(#cb)"/>
<text x="372.80" y="229.95" font-size="7.4" fill="#231f20" stroke="#231f20" stroke-width="0.08">2</text>
<text x="372.80" y="250.15" font-size="7.4" fill="#231f20" stroke="#231f20" stroke-width="0.08">1</text>
<text x="372.80" y="269.75" font-size="7.4" fill="#231f20" stroke="#231f20" stroke-width="0.08">0</text>
<text x="372.80" y="289.25" font-size="7.4" fill="#231f20" stroke="#231f20" stroke-width="0.08">−1</text>
<text x="372.80" y="309.55" font-size="7.4" fill="#231f20" stroke="#231f20" stroke-width="0.08">−2</text>
<text x="472.30" y="22.20" font-size="9.6" text-anchor="middle" fill="#231f20" stroke="#231f20" stroke-width="0.06">TCF7</text>
<line x1="444.00" y1="28.20" x2="444.00" y2="119.70" stroke="#333" stroke-width="1.2"/>
<line x1="443.50" y1="119.20" x2="506.50" y2="119.20" stroke="#333" stroke-width="1.2"/>
<line x1="441.40" y1="33.40" x2="444.00" y2="33.40" stroke="#333" stroke-width="0.9"/>
<text x="438.20" y="35.88" font-size="7.2" text-anchor="end" fill="#333" stroke="#333" stroke-width="0.08" transform-origin="438.2 33.4" transform="scale(0.85 1)">10</text>
<line x1="441.40" y1="62.00" x2="444.00" y2="62.00" stroke="#333" stroke-width="0.9"/>
<text x="438.20" y="64.48" font-size="7.2" text-anchor="end" fill="#333" stroke="#333" stroke-width="0.08" transform-origin="438.2 62.0" transform="scale(0.85 1)">8</text>
<line x1="441.40" y1="90.60" x2="444.00" y2="90.60" stroke="#333" stroke-width="0.9"/>
<text x="438.20" y="93.08" font-size="7.2" text-anchor="end" fill="#333" stroke="#333" stroke-width="0.08" transform-origin="438.2 90.6" transform="scale(0.85 1)">6</text>
<line x1="441.40" y1="119.20" x2="444.00" y2="119.20" stroke="#333" stroke-width="0.9"/>
<text x="438.20" y="121.68" font-size="7.2" text-anchor="end" fill="#333" stroke="#333" stroke-width="0.08" transform-origin="438.2 119.2" transform="scale(0.85 1)">4</text>
<line x1="452.80" y1="119.20" x2="452.80" y2="121.70" stroke="#333" stroke-width="0.9"/>
<text x="452.80" y="131.11" font-size="7.0" text-anchor="middle" fill="#333" stroke="#333" stroke-width="0.08">0</text>
<line x1="472.60" y1="119.20" x2="472.60" y2="121.70" stroke="#333" stroke-width="0.9"/>
<text x="472.60" y="131.11" font-size="7.0" text-anchor="middle" fill="#333" stroke="#333" stroke-width="0.08">7</text>
<line x1="492.60" y1="119.20" x2="492.60" y2="121.70" stroke="#333" stroke-width="0.9"/>
<text x="492.60" y="131.11" font-size="7.0" text-anchor="middle" fill="#333" stroke="#333" stroke-width="0.08">14</text>
<text x="472.30" y="144.23" font-size="9.4" text-anchor="middle" textLength="12.5" lengthAdjust="spacingAndGlyphs" fill="#333" stroke="#333" stroke-width="0.08">Day</text>
<text transform="translate(423.80 74.30) rotate(-90)" font-size="9" text-anchor="middle" fill="#333" textLength="37" lengthAdjust="spacingAndGlyphs">log<tspan font-size="7.0" dy="1.8">2</tspan><tspan dy="-1.8"> (TPM)</tspan></text>
<polyline points="452.8,51.3 472.6,94.8 492.6,100.1" fill="none" stroke="#111" stroke-width="1.1"/>
<line x1="472.60" y1="94.80" x2="492.60" y2="52.30" stroke="#111" stroke-width="1.1"/>
<circle cx="452.80" cy="51.30" r="2.2" fill="#144f8c" stroke="none" stroke-width="0"/>
<circle cx="472.60" cy="94.80" r="2.2" fill="#144f8c" stroke="none" stroke-width="0"/>
<circle cx="492.60" cy="100.10" r="2.2" fill="#144f8c" stroke="none" stroke-width="0"/>
<circle cx="492.60" cy="52.30" r="2.2" fill="#d0143c" stroke="none" stroke-width="0"/>
<text x="472.30" y="193.00" font-size="9.6" text-anchor="middle" fill="#231f20" stroke="#231f20" stroke-width="0.06">IL7R</text>
<line x1="444.00" y1="198.00" x2="444.00" y2="290.00" stroke="#333" stroke-width="1.2"/>
<line x1="443.50" y1="289.50" x2="506.50" y2="289.50" stroke="#333" stroke-width="1.2"/>
<line x1="441.40" y1="203.20" x2="444.00" y2="203.20" stroke="#333" stroke-width="0.9"/>
<text x="438.20" y="205.68" font-size="7.2" text-anchor="end" fill="#333" stroke="#333" stroke-width="0.08" transform-origin="438.2 203.2" transform="scale(0.85 1)">10</text>
<line x1="441.40" y1="231.97" x2="444.00" y2="231.97" stroke="#333" stroke-width="0.9"/>
<text x="438.20" y="234.44" font-size="7.2" text-anchor="end" fill="#333" stroke="#333" stroke-width="0.08" transform-origin="438.2 232.0" transform="scale(0.85 1)">8</text>
<line x1="441.40" y1="260.73" x2="444.00" y2="260.73" stroke="#333" stroke-width="0.9"/>
<text x="438.20" y="263.21" font-size="7.2" text-anchor="end" fill="#333" stroke="#333" stroke-width="0.08" transform-origin="438.2 260.7" transform="scale(0.85 1)">6</text>
<line x1="441.40" y1="289.50" x2="444.00" y2="289.50" stroke="#333" stroke-width="0.9"/>
<text x="438.20" y="291.98" font-size="7.2" text-anchor="end" fill="#333" stroke="#333" stroke-width="0.08" transform-origin="438.2 289.5" transform="scale(0.85 1)">4</text>
<line x1="452.80" y1="289.50" x2="452.80" y2="292.00" stroke="#333" stroke-width="0.9"/>
<text x="452.80" y="301.41" font-size="7.0" text-anchor="middle" fill="#333" stroke="#333" stroke-width="0.08">0</text>
<line x1="472.60" y1="289.50" x2="472.60" y2="292.00" stroke="#333" stroke-width="0.9"/>
<text x="472.60" y="301.41" font-size="7.0" text-anchor="middle" fill="#333" stroke="#333" stroke-width="0.08">7</text>
<line x1="492.60" y1="289.50" x2="492.60" y2="292.00" stroke="#333" stroke-width="0.9"/>
<text x="492.60" y="301.41" font-size="7.0" text-anchor="middle" fill="#333" stroke="#333" stroke-width="0.08">14</text>
<text x="472.30" y="314.53" font-size="9.4" text-anchor="middle" textLength="12.5" lengthAdjust="spacingAndGlyphs" fill="#333" stroke="#333" stroke-width="0.08">Day</text>
<text transform="translate(423.80 244.35) rotate(-90)" font-size="9" text-anchor="middle" fill="#333" textLength="37" lengthAdjust="spacingAndGlyphs">log<tspan font-size="7.0" dy="1.8">2</tspan><tspan dy="-1.8"> (TPM)</tspan></text>
<polyline points="452.8,216.6 472.6,262.8 492.6,273.5" fill="none" stroke="#111" stroke-width="1.1"/>
<line x1="472.60" y1="262.80" x2="492.60" y2="240.60" stroke="#111" stroke-width="1.1"/>
<circle cx="452.80" cy="216.60" r="2.2" fill="#144f8c" stroke="none" stroke-width="0"/>
<circle cx="472.60" cy="262.80" r="2.2" fill="#144f8c" stroke="none" stroke-width="0"/>
<circle cx="492.60" cy="273.50" r="2.2" fill="#144f8c" stroke="none" stroke-width="0"/>
<circle cx="492.60" cy="240.60" r="2.2" fill="#d0143c" stroke="none" stroke-width="0"/>
<line x1="439.00" y1="155.80" x2="453.50" y2="155.80" stroke="#333" stroke-width="1.1"/>
<circle cx="446.20" cy="155.80" r="2.2" fill="#144f8c" stroke="none" stroke-width="0"/>
<text x="455.40" y="158.10" font-size="7.5" textLength="20.8" lengthAdjust="spacingAndGlyphs" fill="#333" stroke="#333" stroke-width="0.08">CONT</text>
<line x1="484.60" y1="155.80" x2="499.60" y2="155.80" stroke="#333" stroke-width="1.1"/>
<circle cx="491.90" cy="155.80" r="2.2" fill="#d0143c" stroke="none" stroke-width="0"/>
<text x="501.20" y="158.10" font-size="7.5" textLength="9.4" lengthAdjust="spacingAndGlyphs" fill="#333" stroke="#333" stroke-width="0.08">TFI</text>
<text x="29.40" y="379.20" font-size="9.3" textLength="94.2" lengthAdjust="spacingAndGlyphs" fill="#231f20" stroke="#231f20" stroke-width="0.08">HALLMARK gene sets</text>
<line x1="117.40" y1="387.50" x2="117.40" y2="537.40" stroke="#000" stroke-width="1.0"/>
<line x1="35.50" y1="536.90" x2="117.90" y2="536.90" stroke="#000" stroke-width="1.0"/>
<rect x="67.50" y="397.50" width="49.50" height="12.90" fill="#c8102e"/>
<line x1="117.40" y1="403.95" x2="119.80" y2="403.95" stroke="#231f20" stroke-width="0.9"/>
<text x="123.30" y="406.34" font-size="8.4" textLength="40.4" lengthAdjust="spacingAndGlyphs" fill="#231f20" stroke="#231f20" stroke-width="0.06">E2F targets</text>
<rect x="70.80" y="425.20" width="46.20" height="12.90" fill="#c8102e"/>
<line x1="117.40" y1="431.65" x2="119.80" y2="431.65" stroke="#231f20" stroke-width="0.9"/>
<text x="123.30" y="434.04" font-size="8.4" textLength="58.4" lengthAdjust="spacingAndGlyphs" fill="#231f20" stroke="#231f20" stroke-width="0.06">G2M checkpoint</text>
<rect x="71.60" y="453.50" width="45.40" height="12.90" fill="#c8102e"/>
<line x1="117.40" y1="459.95" x2="119.80" y2="459.95" stroke="#231f20" stroke-width="0.9"/>
<text x="123.30" y="462.34" font-size="8.4" textLength="55.2" lengthAdjust="spacingAndGlyphs" fill="#231f20" stroke="#231f20" stroke-width="0.06">MYC targets V1</text>
<rect x="74.80" y="481.50" width="42.20" height="12.90" fill="#c8102e"/>
<line x1="117.40" y1="487.95" x2="119.80" y2="487.95" stroke="#231f20" stroke-width="0.9"/>
<text x="123.30" y="490.34" font-size="8.4" textLength="66.8" lengthAdjust="spacingAndGlyphs" fill="#231f20" stroke="#231f20" stroke-width="0.06">MTORC1 signaling</text>
<rect x="78.80" y="509.80" width="38.20" height="12.90" fill="#c8102e"/>
<line x1="117.40" y1="516.25" x2="119.80" y2="516.25" stroke="#231f20" stroke-width="0.9"/>
<text x="123.30" y="518.64" font-size="8.4" textLength="93.8" lengthAdjust="spacingAndGlyphs" fill="#231f20" stroke="#231f20" stroke-width="0.06">Oxidative phosphorylation</text>
<line x1="41.90" y1="536.90" x2="41.90" y2="539.30" stroke="#231f20" stroke-width="0.9"/>
<text x="39.60" y="550.00" font-size="7.9" text-anchor="middle" fill="#231f20" stroke="#231f20" stroke-width="0.08">−4</text>
<line x1="79.40" y1="536.90" x2="79.40" y2="539.30" stroke="#231f20" stroke-width="0.9"/>
<text x="77.30" y="550.00" font-size="7.9" text-anchor="middle" fill="#231f20" stroke="#231f20" stroke-width="0.08">−2</text>
<line x1="117.40" y1="536.90" x2="117.40" y2="539.30" stroke="#231f20" stroke-width="0.9"/>
<text x="117.60" y="550.00" font-size="7.9" text-anchor="middle" fill="#231f20" stroke="#231f20" stroke-width="0.08">0</text>
<text x="79.40" y="564.00" font-size="9.2" text-anchor="middle" textLength="12.8" lengthAdjust="spacingAndGlyphs" fill="#231f20" stroke="#231f20" stroke-width="0.08">NES</text>
<text x="241.40" y="473.80" font-size="10.2" textLength="12.8" lengthAdjust="spacingAndGlyphs" fill="#231f20" stroke="#231f20" stroke-width="0.08">TFI</text>
<text x="484.20" y="474.00" font-size="10.4" textLength="27.1" lengthAdjust="spacingAndGlyphs" fill="#231f20" stroke="#231f20" stroke-width="0.08">CONT</text>
<rect x="258.80" y="368.00" width="220.60" height="222.40" fill="#f0f0f0"/>
<rect x="294.30" y="392.50" width="177.20" height="157.50" fill="#ffffff"/>
<line x1="313.36" y1="392.50" x2="313.36" y2="468.30" stroke="#ececec" stroke-width="0.6"/>
<line x1="313.36" y1="499.60" x2="313.36" y2="550.00" stroke="#ececec" stroke-width="0.6"/>
<line x1="332.11" y1="392.50" x2="332.11" y2="468.30" stroke="#ececec" stroke-width="0.6"/>
<line x1="332.11" y1="499.60" x2="332.11" y2="550.00" stroke="#ececec" stroke-width="0.6"/>
<line x1="350.87" y1="392.50" x2="350.87" y2="468.30" stroke="#ececec" stroke-width="0.6"/>
<line x1="350.87" y1="499.60" x2="350.87" y2="550.00" stroke="#ececec" stroke-width="0.6"/>
<line x1="369.62" y1="392.50" x2="369.62" y2="468.30" stroke="#ececec" stroke-width="0.6"/>
<line x1="369.62" y1="499.60" x2="369.62" y2="550.00" stroke="#ececec" stroke-width="0.6"/>
<line x1="388.38" y1="392.50" x2="388.38" y2="468.30" stroke="#ececec" stroke-width="0.6"/>
<line x1="388.38" y1="499.60" x2="388.38" y2="550.00" stroke="#ececec" stroke-width="0.6"/>
<line x1="407.13" y1="392.50" x2="407.13" y2="468.30" stroke="#ececec" stroke-width="0.6"/>
<line x1="407.13" y1="499.60" x2="407.13" y2="550.00" stroke="#ececec" stroke-width="0.6"/>
<line x1="425.89" y1="392.50" x2="425.89" y2="468.30" stroke="#ececec" stroke-width="0.6"/>
<line x1="425.89" y1="499.60" x2="425.89" y2="550.00" stroke="#ececec" stroke-width="0.6"/>
<line x1="444.64" y1="392.50" x2="444.64" y2="468.30" stroke="#ececec" stroke-width="0.6"/>
<line x1="444.64" y1="499.60" x2="444.64" y2="550.00" stroke="#ececec" stroke-width="0.6"/>
<line x1="463.40" y1="392.50" x2="463.40" y2="468.30" stroke="#ececec" stroke-width="0.6"/>
<line x1="463.40" y1="499.60" x2="463.40" y2="550.00" stroke="#ececec" stroke-width="0.6"/>
<line x1="294.30" y1="414.22" x2="471.50" y2="414.22" stroke="#ececec" stroke-width="0.6"/>
<line x1="294.30" y1="428.84" x2="471.50" y2="428.84" stroke="#ececec" stroke-width="0.6"/>
<line x1="294.30" y1="443.46" x2="471.50" y2="443.46" stroke="#ececec" stroke-width="0.6"/>
<line x1="294.30" y1="458.08" x2="471.50" y2="458.08" stroke="#ececec" stroke-width="0.6"/>
<line x1="294.30" y1="506.35" x2="471.50" y2="506.35" stroke="#ececec" stroke-width="0.6"/>
<line x1="294.30" y1="515.55" x2="471.50" y2="515.55" stroke="#ececec" stroke-width="0.6"/>
<line x1="294.30" y1="533.95" x2="471.50" y2="533.95" stroke="#ececec" stroke-width="0.6"/>
<line x1="294.30" y1="543.15" x2="471.50" y2="543.15" stroke="#ececec" stroke-width="0.6"/>
<line x1="294.30" y1="399.60" x2="471.50" y2="399.60" stroke="#bdbdbd" stroke-width="1.0"/>
<text x="382.90" y="378.60" font-size="7.8" text-anchor="middle" textLength="53.5" lengthAdjust="spacingAndGlyphs" fill="#222">Enrichment plot:</text>
<text x="294.20" y="387.80" font-size="7.8" textLength="177.3" lengthAdjust="spacingAndGlyphs" fill="#222">GSE9650_EFFECTOR_VS_MEMORY_CD8_TCELL_UP</text>
<line x1="291.30" y1="399.60" x2="294.30" y2="399.60" stroke="#555" stroke-width="1.0"/>
<text x="288.70" y="402.11" font-size="7.3" text-anchor="end" fill="#222" stroke="#222" stroke-width="0.05">0.0</text>
<line x1="291.30" y1="414.22" x2="294.30" y2="414.22" stroke="#555" stroke-width="1.0"/>
<text x="288.70" y="416.73" font-size="7.3" text-anchor="end" fill="#222" stroke="#222" stroke-width="0.05">−0.1</text>
<line x1="291.30" y1="428.84" x2="294.30" y2="428.84" stroke="#555" stroke-width="1.0"/>
<text x="288.70" y="431.35" font-size="7.3" text-anchor="end" fill="#222" stroke="#222" stroke-width="0.05">−0.2</text>
<line x1="291.30" y1="443.46" x2="294.30" y2="443.46" stroke="#555" stroke-width="1.0"/>
<text x="288.70" y="445.97" font-size="7.3" text-anchor="end" fill="#222" stroke="#222" stroke-width="0.05">−0.3</text>
<line x1="291.30" y1="458.08" x2="294.30" y2="458.08" stroke="#555" stroke-width="1.0"/>
<text x="288.70" y="460.59" font-size="7.3" text-anchor="end" fill="#222" stroke="#222" stroke-width="0.05">−0.4</text>
<text transform="translate(269.7 428.8) rotate(-90)" font-size="7.2" text-anchor="middle" fill="#222" textLength="57.5" lengthAdjust="spacingAndGlyphs">Enrichment score (ES)</text>
<polyline points="294.4,399.6 316.1,418.8 318.5,416.9 325.3,422.9 326.2,418.4 334.4,425.3 335.5,423.7 340.0,427.3 343.5,430.6 345.4,431.9 348.5,432.7 353.1,436.1 361.5,443.5 373.1,453.5 376.9,455.3 384.6,461.2 387.7,460.1 390.8,461.5 394.6,461.9 397.7,463.8 400.8,462.7 403.1,461.6 405.4,460.4 407.7,458.5 410.0,458.2 411.9,455.4 414.4,456.4 416.9,458.1 418.8,456.2 421.9,455.8 423.2,451.7 426.0,453.9 428.2,446.4 430.0,446.0 433.2,447.9 435.1,441.1 438.8,444.1 440.1,441.1 441.3,441.8 442.8,437.6 444.1,438.2 446.3,426.3 449.2,422.8 450.7,412.6 453.2,405.0 454.5,401.3 457.4,403.8 458.9,395.6 463.3,399.4" fill="none" stroke="#2cf000" stroke-width="1.5" stroke-linejoin="round"/>
<line x1="317.50" y1="468.40" x2="317.50" y2="493.20" stroke="#999" stroke-width="1.8"/>
<line x1="325.90" y1="468.40" x2="325.90" y2="493.20" stroke="#555" stroke-width="1.3"/>
<line x1="334.60" y1="468.40" x2="334.60" y2="493.20" stroke="#222" stroke-width="1.1"/>
<line x1="346.70" y1="468.40" x2="346.70" y2="493.20" stroke="#888" stroke-width="1.8"/>
<line x1="351.00" y1="468.40" x2="351.00" y2="493.20" stroke="#999" stroke-width="1.1"/>
<line x1="374.00" y1="468.40" x2="374.00" y2="493.20" stroke="#555" stroke-width="0.9"/>
<line x1="375.90" y1="468.40" x2="375.90" y2="493.20" stroke="#444" stroke-width="1.0"/>
<line x1="379.20" y1="468.40" x2="379.20" y2="493.20" stroke="#888" stroke-width="0.9"/>
<line x1="380.60" y1="468.40" x2="380.60" y2="493.20" stroke="#999" stroke-width="1.2"/>
<line x1="383.70" y1="468.40" x2="383.70" y2="493.20" stroke="#888" stroke-width="0.9"/>
<line x1="386.30" y1="468.40" x2="386.30" y2="493.20" stroke="#333" stroke-width="1.8"/>
<line x1="388.50" y1="468.40" x2="388.50" y2="493.20" stroke="#777" stroke-width="0.9"/>
<line x1="390.60" y1="468.40" x2="390.60" y2="493.20" stroke="#aaa" stroke-width="0.8"/>
<line x1="392.50" y1="468.40" x2="392.50" y2="493.20" stroke="#888" stroke-width="0.9"/>
<line x1="394.20" y1="468.40" x2="394.20" y2="493.20" stroke="#777" stroke-width="1.2"/>
<line x1="398.60" y1="468.40" x2="398.60" y2="493.20" stroke="#444" stroke-width="1.0"/>
<line x1="400.00" y1="468.40" x2="400.00" y2="493.20" stroke="#888" stroke-width="0.9"/>
<line x1="402.40" y1="468.40" x2="402.40" y2="493.20" stroke="#000" stroke-width="1.0"/>
<line x1="405.60" y1="468.40" x2="405.60" y2="493.20" stroke="#333" stroke-width="1.2"/>
<line x1="407.70" y1="468.40" x2="407.70" y2="493.20" stroke="#777" stroke-width="1.0"/>
<line x1="409.30" y1="468.40" x2="409.30" y2="493.20" stroke="#444" stroke-width="0.9"/>
<line x1="411.10" y1="468.40" x2="411.10" y2="493.20" stroke="#555" stroke-width="0.9"/>
<line x1="412.90" y1="468.40" x2="412.90" y2="493.20" stroke="#888" stroke-width="0.9"/>
<line x1="414.50" y1="468.40" x2="414.50" y2="493.20" stroke="#888" stroke-width="0.9"/>
<line x1="417.60" y1="468.40" x2="417.60" y2="493.20" stroke="#555" stroke-width="1.3"/>
<line x1="420.20" y1="468.40" x2="420.20" y2="493.20" stroke="#999" stroke-width="1.6"/>
<line x1="422.40" y1="468.40" x2="422.40" y2="493.20" stroke="#777" stroke-width="1.3"/>
<line x1="426.70" y1="468.40" x2="426.70" y2="493.20" stroke="#111" stroke-width="1.3"/>
<line x1="429.40" y1="468.40" x2="429.40" y2="493.20" stroke="#aaa" stroke-width="1.0"/>
<line x1="431.80" y1="468.40" x2="431.80" y2="493.20" stroke="#bbb" stroke-width="1.0"/>
<line x1="434.00" y1="468.40" x2="434.00" y2="493.20" stroke="#111" stroke-width="1.3"/>
<line x1="438.60" y1="468.40" x2="438.60" y2="493.20" stroke="#777" stroke-width="1.1"/>
<line x1="440.50" y1="468.40" x2="440.50" y2="493.20" stroke="#555" stroke-width="1.0"/>
<line x1="442.30" y1="468.40" x2="442.30" y2="493.20" stroke="#888" stroke-width="0.9"/>
<line x1="445.00" y1="468.40" x2="445.00" y2="493.20" stroke="#111" stroke-width="1.3"/>
<line x1="447.40" y1="468.40" x2="447.40" y2="493.20" stroke="#888" stroke-width="1.3"/>
<line x1="449.50" y1="468.40" x2="449.50" y2="493.20" stroke="#444" stroke-width="1.8"/>
<line x1="452.70" y1="468.40" x2="452.70" y2="493.20" stroke="#555" stroke-width="1.3"/>
<line x1="454.80" y1="468.40" x2="454.80" y2="493.20" stroke="#999" stroke-width="0.9"/>
<line x1="458.40" y1="468.40" x2="458.40" y2="493.20" stroke="#222" stroke-width="1.2"/>
<line x1="294.30" y1="468.30" x2="471.50" y2="468.30" stroke="#c8c8c8" stroke-width="0.8"/>
<rect x="294.30" y="493.20" width="7.20" height="6.40" fill="#ee1c24"/>
<rect x="301.50" y="493.20" width="14.70" height="6.40" fill="#e8283a"/>
<rect x="316.20" y="493.20" width="10.40" height="6.40" fill="#e42e40"/>
<rect x="326.60" y="493.20" width="13.80" height="6.40" fill="#e04058"/>
<rect x="340.40" y="493.20" width="11.30" height="6.40" fill="#e85868"/>
<rect x="351.70" y="493.20" width="16.40" height="6.40" fill="#f0a0d8"/>
<rect x="368.10" y="493.20" width="13.90" height="6.40" fill="#c4c4f8"/>
<rect x="382.00" y="493.20" width="23.00" height="6.40" fill="#b2b2f4"/>
<rect x="405.00" y="493.20" width="17.40" height="6.40" fill="#5555ee"/>
<rect x="422.40" y="493.20" width="14.70" height="6.40" fill="#3535e2"/>
<rect x="437.10" y="493.20" width="13.90" height="6.40" fill="#2a2ad8"/>
<rect x="451.00" y="493.20" width="7.70" height="6.40" fill="#1212c2"/>
<rect x="458.70" y="493.20" width="4.30" height="6.40" fill="#0a0aa0"/>
<text x="296.60" y="505.70" font-size="6.4" textLength="58.8" lengthAdjust="spacingAndGlyphs" fill="#d9364f" stroke="#d9364f" stroke-width="0.03">'1' (positively correlated)</text>
<polygon points="294.3,524.9 294.3,507.1 296.0,508.7 298.0,510.2 300.4,511.8 305.0,513.9 313.8,516.2 320.0,517.6 330.0,519.3 342.3,521.5 351.5,522.7 352.0,523.6 359.6,524.9" fill="#a6a6a6"/>
<polygon points="359.6,524.9 463.1,524.9 463.1,548.4 462.0,546.7 460.5,543.5 459.2,541.7 456.0,539.5 453.4,538.1 443.3,535.2 428.9,532.3 414.4,530.2 400.0,528.7 383.0,527.0 370.0,525.8" fill="#a6a6a6"/>
<line x1="359.60" y1="499.50" x2="359.60" y2="550.00" stroke="#9a9a9a" stroke-width="0.5" stroke-dasharray="1.2 1.2"/>
<text x="338.10" y="527.40" font-size="5.8" textLength="39.2" lengthAdjust="spacingAndGlyphs" fill="#111">Zero cross at 1730</text>
<text x="379.20" y="547.50" font-size="6.4" textLength="60.5" lengthAdjust="spacingAndGlyphs" fill="#2f6fb0" stroke="#2f6fb0" stroke-width="0.03">'0' (negatively correlated)</text>
<line x1="291.70" y1="506.35" x2="294.30" y2="506.35" stroke="#231f20" stroke-width="0.8"/>
<text x="288.60" y="508.90" font-size="7.4" text-anchor="end" fill="#222" stroke="#222" stroke-width="0.05">4</text>
<line x1="291.70" y1="515.55" x2="294.30" y2="515.55" stroke="#231f20" stroke-width="0.8"/>
<text x="288.60" y="518.10" font-size="7.4" text-anchor="end" fill="#222" stroke="#222" stroke-width="0.05">2</text>
<line x1="291.70" y1="524.75" x2="294.30" y2="524.75" stroke="#231f20" stroke-width="0.8"/>
<text x="288.60" y="527.30" font-size="7.4" text-anchor="end" fill="#222" stroke="#222" stroke-width="0.05">0</text>
<line x1="291.70" y1="533.95" x2="294.30" y2="533.95" stroke="#231f20" stroke-width="0.8"/>
<text x="288.60" y="536.50" font-size="7.4" text-anchor="end" fill="#222" stroke="#222" stroke-width="0.05">-2</text>
<line x1="291.70" y1="543.15" x2="294.30" y2="543.15" stroke="#231f20" stroke-width="0.8"/>
<text x="288.60" y="545.70" font-size="7.4" text-anchor="end" fill="#222" stroke="#222" stroke-width="0.05">-4</text>
<text transform="translate(275.0 524.7) rotate(-90)" font-size="7.0" text-anchor="middle" fill="#222" textLength="86" lengthAdjust="spacingAndGlyphs">Ranked list metric (Signal2Noise)</text>
<line x1="294.60" y1="550.00" x2="294.60" y2="552.20" stroke="#231f20" stroke-width="0.8"/>
<text x="294.60" y="560.00" font-size="6.6" text-anchor="middle" fill="#222" stroke="#222" stroke-width="0.05">0</text>
<line x1="313.36" y1="550.00" x2="313.36" y2="552.20" stroke="#231f20" stroke-width="0.8"/>
<text x="313.36" y="560.00" font-size="6.6" text-anchor="middle" fill="#222" stroke="#222" stroke-width="0.05">500</text>
<line x1="332.11" y1="550.00" x2="332.11" y2="552.20" stroke="#231f20" stroke-width="0.8"/>
<text x="332.11" y="560.00" font-size="6.6" text-anchor="middle" textLength="15.0" lengthAdjust="spacingAndGlyphs" fill="#222" stroke="#222" stroke-width="0.05">1,000</text>
<line x1="350.87" y1="550.00" x2="350.87" y2="552.20" stroke="#231f20" stroke-width="0.8"/>
<text x="350.87" y="560.00" font-size="6.6" text-anchor="middle" textLength="15.0" lengthAdjust="spacingAndGlyphs" fill="#222" stroke="#222" stroke-width="0.05">1,500</text>
<line x1="369.62" y1="550.00" x2="369.62" y2="552.20" stroke="#231f20" stroke-width="0.8"/>
<text x="369.62" y="560.00" font-size="6.6" text-anchor="middle" textLength="15.0" lengthAdjust="spacingAndGlyphs" fill="#222" stroke="#222" stroke-width="0.05">2,000</text>
<line x1="388.38" y1="550.00" x2="388.38" y2="552.20" stroke="#231f20" stroke-width="0.8"/>
<text x="388.38" y="560.00" font-size="6.6" text-anchor="middle" textLength="15.0" lengthAdjust="spacingAndGlyphs" fill="#222" stroke="#222" stroke-width="0.05">2,500</text>
<line x1="407.13" y1="550.00" x2="407.13" y2="552.20" stroke="#231f20" stroke-width="0.8"/>
<text x="407.13" y="560.00" font-size="6.6" text-anchor="middle" textLength="15.0" lengthAdjust="spacingAndGlyphs" fill="#222" stroke="#222" stroke-width="0.05">3,000</text>
<line x1="425.89" y1="550.00" x2="425.89" y2="552.20" stroke="#231f20" stroke-width="0.8"/>
<text x="425.89" y="560.00" font-size="6.6" text-anchor="middle" textLength="15.0" lengthAdjust="spacingAndGlyphs" fill="#222" stroke="#222" stroke-width="0.05">3,500</text>
<line x1="444.64" y1="550.00" x2="444.64" y2="552.20" stroke="#231f20" stroke-width="0.8"/>
<text x="444.64" y="560.00" font-size="6.6" text-anchor="middle" textLength="15.0" lengthAdjust="spacingAndGlyphs" fill="#222" stroke="#222" stroke-width="0.05">4,000</text>
<line x1="463.40" y1="550.00" x2="463.40" y2="552.20" stroke="#231f20" stroke-width="0.8"/>
<text x="463.40" y="560.00" font-size="6.6" text-anchor="middle" textLength="15.0" lengthAdjust="spacingAndGlyphs" fill="#222" stroke="#222" stroke-width="0.05">4,500</text>
<text x="382.90" y="571.20" font-size="7.3" text-anchor="middle" textLength="61.2" lengthAdjust="spacingAndGlyphs" fill="#222" stroke="#222" stroke-width="0.05">Rank in ordered dataset</text>
<path d="M294.3 392.5H471.5V550H294.3Z" fill="none" stroke="#000" stroke-width="0.9"/>
<line x1="289.20" y1="583.70" x2="296.20" y2="583.70" stroke="#2cf000" stroke-width="1.2"/>
<text x="298.80" y="586.00" font-size="7.3" textLength="52.2" lengthAdjust="spacingAndGlyphs" fill="#222" stroke="#222" stroke-width="0.05">Enrichment profile</text>
<line x1="360.00" y1="583.70" x2="366.70" y2="583.70" stroke="#777" stroke-width="0.9"/>
<text x="369.60" y="586.00" font-size="7.3" textLength="11.0" lengthAdjust="spacingAndGlyphs" fill="#222" stroke="#222" stroke-width="0.05">Hits</text>
<line x1="399.20" y1="583.70" x2="406.20" y2="583.70" stroke="#d0d0d0" stroke-width="0.9"/>
<text x="409.60" y="586.00" font-size="7.3" textLength="62.8" lengthAdjust="spacingAndGlyphs" fill="#222" stroke="#222" stroke-width="0.05">Ranking metric scores</text>
<rect x="389.50" y="578.50" width="6.00" height="1.20" fill="#e6e6e6"/>
<rect x="0.5" y="0.5" width="519" height="598" fill="none" stroke="#000" stroke-width="1.2"/>
</svg>
</body></html>
